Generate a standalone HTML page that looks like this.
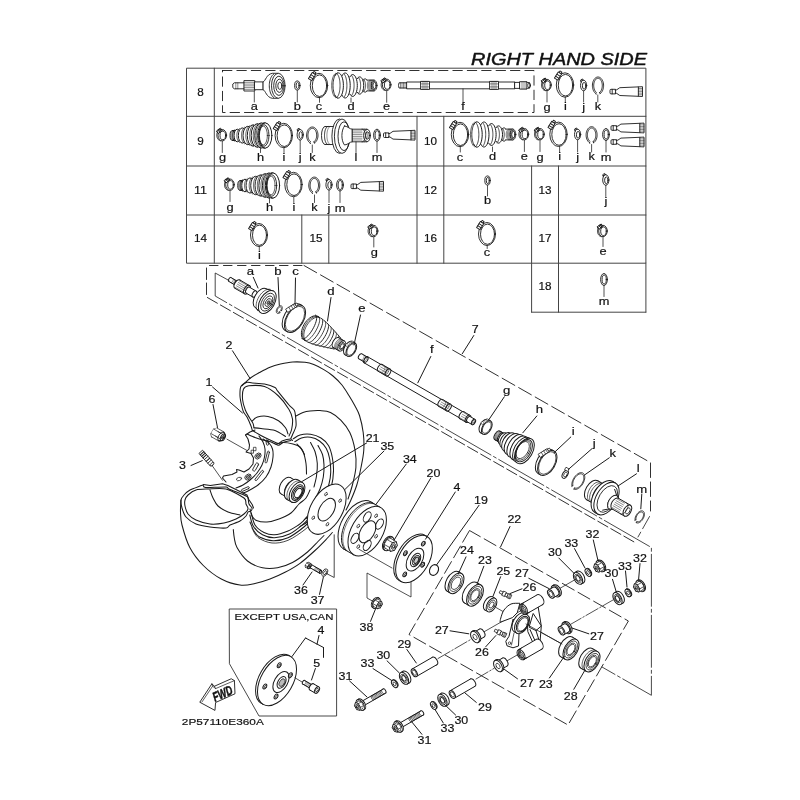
<!DOCTYPE html>
<html><head><meta charset="utf-8"><title>Parts diagram</title>
<style>
html,body{margin:0;padding:0;background:#fff;}
body{width:800px;height:800px;overflow:hidden;font-family:"Liberation Sans",sans-serif;}
svg{display:block;font-family:"Liberation Sans",sans-serif;filter:grayscale(1);}
</style></head><body>
<svg width="800" height="800" viewBox="0 0 800 800" fill="none" stroke="#1a1a1a" stroke-linecap="round" stroke-linejoin="round">
<rect x="0" y="0" width="800" height="800" fill="#fff" stroke="none"/>
<text x="647" y="65.4" font-size="16.6" text-anchor="end" stroke="#111" stroke-width="0.45" fill="#111" font-style="italic" textLength="176" lengthAdjust="spacingAndGlyphs">RIGHT HAND SIDE</text>
<g stroke="#444">
<rect x="186.9" y="68.2" width="459" height="195" stroke-width="1.0" fill="none"/>
<line x1="186.9" y1="116.3" x2="645.9" y2="116.3" stroke-width="1.0"/>
<line x1="186.9" y1="166" x2="645.9" y2="166" stroke-width="1.0"/>
<line x1="186.9" y1="215" x2="645.9" y2="215" stroke-width="1.0"/>
<line x1="214.3" y1="68.2" x2="214.3" y2="263.2" stroke-width="1.0"/>
<line x1="417" y1="116.3" x2="417" y2="263.2" stroke-width="1.0"/>
<line x1="443.8" y1="116.3" x2="443.8" y2="263.2" stroke-width="1.0"/>
<line x1="531.6" y1="166" x2="531.6" y2="312.2" stroke-width="1.0"/>
<line x1="558.5" y1="166" x2="558.5" y2="312.2" stroke-width="1.0"/>
<line x1="531.6" y1="312.2" x2="645.9" y2="312.2" stroke-width="1.0"/>
<line x1="645.9" y1="263.2" x2="645.9" y2="312.2" stroke-width="1.0"/>
<line x1="301.8" y1="215" x2="301.8" y2="263.2" stroke-width="1.0"/>
<line x1="328.8" y1="215" x2="328.8" y2="263.2" stroke-width="1.0"/>
</g>
<path d="M222.5 70.5 H534 V112.5 H222.5 Z" stroke-width="0.9" fill="none" stroke-dasharray="9.4 5"/>
<text transform="translate(200.5 95.78) scale(1.0 1)" font-size="10.5" text-anchor="middle" stroke="#111" stroke-width="0.18" fill="#111" textLength="6.51" lengthAdjust="spacingAndGlyphs" style="">8</text>
<text transform="translate(200.5 144.78) scale(1.0 1)" font-size="10.5" text-anchor="middle" stroke="#111" stroke-width="0.18" fill="#111" textLength="6.51" lengthAdjust="spacingAndGlyphs" style="">9</text>
<text transform="translate(200.5 194.28) scale(1.0 1)" font-size="10.5" text-anchor="middle" stroke="#111" stroke-width="0.18" fill="#111" textLength="13.02" lengthAdjust="spacingAndGlyphs" style="">11</text>
<text transform="translate(200.5 241.78) scale(1.0 1)" font-size="10.5" text-anchor="middle" stroke="#111" stroke-width="0.18" fill="#111" textLength="13.02" lengthAdjust="spacingAndGlyphs" style="">14</text>
<text transform="translate(316 241.78) scale(1.0 1)" font-size="10.5" text-anchor="middle" stroke="#111" stroke-width="0.18" fill="#111" textLength="13.02" lengthAdjust="spacingAndGlyphs" style="">15</text>
<text transform="translate(430.5 144.78) scale(1.0 1)" font-size="10.5" text-anchor="middle" stroke="#111" stroke-width="0.18" fill="#111" textLength="13.02" lengthAdjust="spacingAndGlyphs" style="">10</text>
<text transform="translate(430.5 194.28) scale(1.0 1)" font-size="10.5" text-anchor="middle" stroke="#111" stroke-width="0.18" fill="#111" textLength="13.02" lengthAdjust="spacingAndGlyphs" style="">12</text>
<text transform="translate(430.5 241.78) scale(1.0 1)" font-size="10.5" text-anchor="middle" stroke="#111" stroke-width="0.18" fill="#111" textLength="13.02" lengthAdjust="spacingAndGlyphs" style="">16</text>
<text transform="translate(545 194.28) scale(1.0 1)" font-size="10.5" text-anchor="middle" stroke="#111" stroke-width="0.18" fill="#111" textLength="13.02" lengthAdjust="spacingAndGlyphs" style="">13</text>
<text transform="translate(545 242.28) scale(1.0 1)" font-size="10.5" text-anchor="middle" stroke="#111" stroke-width="0.18" fill="#111" textLength="13.02" lengthAdjust="spacingAndGlyphs" style="">17</text>
<text transform="translate(545 289.78) scale(1.0 1)" font-size="10.5" text-anchor="middle" stroke="#111" stroke-width="0.18" fill="#111" textLength="13.02" lengthAdjust="spacingAndGlyphs" style="">18</text>
<path d="M244.8 82.8 H234.3 L232.8 84 V87.6 L234.3 88.8 H244.8" stroke-width="0.9" fill="#fff"/>
<line x1="235.8" y1="82.8" x2="235.8" y2="88.8" stroke-width="0.5"/>
<line x1="237.8" y1="82.8" x2="237.8" y2="88.8" stroke-width="0.5"/>
<rect x="244.3" y="80.6" width="10.5" height="10.4" stroke-width="0.9" fill="#fff"/>
<line x1="244.3" y1="82.35" x2="254.8" y2="82.35" stroke-width="0.5"/>
<line x1="244.3" y1="84.1" x2="254.8" y2="84.1" stroke-width="0.5"/>
<line x1="244.3" y1="85.85" x2="254.8" y2="85.85" stroke-width="0.5"/>
<line x1="244.3" y1="87.6" x2="254.8" y2="87.6" stroke-width="0.5"/>
<line x1="244.3" y1="89.35" x2="254.8" y2="89.35" stroke-width="0.5"/>
<rect x="254.8" y="81.9" width="8.5" height="7.8" stroke-width="0.9" fill="#fff"/>
<path d="M263.3 81.9 C265.8 80.8 266.3 74.3 272.3 73.3 L278.3 73.3 L278.3 98.3 L272.3 98.3 C266.3 97.3 265.8 90.8 263.3 89.7 Z" stroke-width="0.9" fill="#fff"/>
<ellipse cx="278.3" cy="85.8" rx="6.8" ry="12.5" stroke-width="0.9" fill="#fff"/>
<path d="M273.77 97.55 L273.14 97.05 L272.53 96.44 L271.96 95.72 L271.43 94.89 L270.96 93.97 L270.53 92.97 L270.16 91.89 L269.86 90.75 L269.61 89.56 L269.44 88.33 L269.34 87.07 L269.3 85.8 L269.34 84.53 L269.44 83.27 L269.61 82.04 L269.86 80.85 L270.16 79.71 L270.53 78.63 L270.96 77.63 L271.43 76.71 L271.96 75.88 L272.53 75.16 L273.14 74.55 L273.77 74.05" stroke-width="0.9" fill="none"/>
<ellipse cx="278.9" cy="85.8" rx="5.2" ry="9.6" stroke-width="0.9" fill="none"/>
<ellipse cx="279.4" cy="85.8" rx="3.6" ry="6.6" stroke-width="0.9" fill="none"/>
<ellipse cx="279.8" cy="85.8" rx="2" ry="3.6" stroke-width="0.9" fill="none"/>
<line x1="254.3" y1="91.5" x2="254.3" y2="102" stroke-width="0.75"/>
<text transform="translate(254.3 110.03) scale(1.22 1)" font-size="10.5" text-anchor="middle" stroke="#111" stroke-width="0.18" fill="#111" style="">a</text>
<ellipse cx="297.3" cy="85.5" rx="2.7" ry="4.6" stroke-width="0.9" fill="none"/>
<ellipse cx="297.6" cy="85.5" rx="1.5" ry="3.2" stroke-width="0.9" fill="none"/>
<line x1="297.3" y1="90.5" x2="297.3" y2="102" stroke-width="0.75"/>
<text transform="translate(297.3 110.03) scale(1.22 1)" font-size="10.5" text-anchor="middle" stroke="#111" stroke-width="0.18" fill="#111" style="">b</text>
<ellipse cx="319" cy="85.5" rx="8.7" ry="12.2" stroke-width="0.9" fill="#fff"/>
<ellipse cx="319.5" cy="85.7" rx="7.2" ry="10.8" stroke-width="0.9" fill="none"/>
<g transform="translate(312.21 76.72) rotate(-58)">
<rect x="-3.6" y="-2.2" width="7.2" height="4" stroke-width="0.9" fill="#fff"/>
<line x1="-1.4" y1="-2.2" x2="-1.4" y2="1.8" stroke-width="0.9"/>
<line x1="1" y1="-2.2" x2="1" y2="1.8" stroke-width="0.9"/>
<rect x="3.6" y="-1.3" width="1.8" height="2.3" stroke-width="0.9" fill="#fff"/>
</g>
<line x1="319.5" y1="97.5" x2="319.5" y2="102.3" stroke-width="0.75"/>
<text transform="translate(319 110.03) scale(1.22 1)" font-size="10.5" text-anchor="middle" stroke="#111" stroke-width="0.18" fill="#111" style="">c</text>
<path d="M337.3 97.91 L336.71 97.57 L336.14 97.07 L335.6 96.41 L335.09 95.61 L334.63 94.66 L334.22 93.6 L333.86 92.42 L333.55 91.15 L333.31 89.81 L333.14 88.41 L333.04 86.96 L333 85.5 L333.04 84.04 L333.14 82.59 L333.31 81.19 L333.55 79.85 L333.86 78.58 L334.22 77.4 L334.63 76.34 L335.09 75.39 L335.6 74.59 L336.14 73.93 L336.71 73.43 L337.3 73.09" stroke-width="0.9" fill="none"/>
<path d="M335.55 97.67 L335.02 97.24 L334.5 96.68 L334.01 95.98 L333.56 95.15 L333.14 94.21 L332.77 93.17 L332.45 92.04 L332.19 90.82 L331.98 89.55 L331.82 88.23 L331.73 86.87 L331.7 85.5 L331.73 84.13 L331.82 82.77 L331.98 81.45 L332.19 80.18 L332.45 78.96 L332.77 77.83 L333.14 76.79 L333.56 75.85 L334.01 75.02 L334.5 74.32 L335.02 73.76 L335.55 73.33" stroke-width="0.7" fill="none"/>
<path d="M335 75.57 L335.81 74.31 L336.71 73.43 L337.66 72.97 L338.62 72.94 L339.58 73.35 L340.48 74.18 L341.31 75.39 L342.02 76.96 L342.61 78.82 L343.04 80.92 L343.31 83.17 L343.4 85.5 L343.31 87.83 L343.04 90.08 L342.61 92.18 L342.02 94.04 L341.31 95.61 L340.48 96.82 L339.58 97.65 L338.62 98.06 L337.66 98.03 L336.71 97.57 L335.81 96.69 L335 95.43" stroke-width="1.0" fill="none"/>
<path d="M336.98 73.82 L337.41 74.23 L337.82 74.77 L338.21 75.44 L338.57 76.23 L338.91 77.14 L339.2 78.14 L339.46 79.22 L339.67 80.39 L339.84 81.61 L339.96 82.88 L340.04 84.18 L340.06 85.5 L340.04 86.82 L339.96 88.12 L339.84 89.39 L339.67 90.61 L339.46 91.78 L339.2 92.86 L338.91 93.86 L338.57 94.77 L338.21 95.56 L337.82 96.23 L337.41 96.77 L336.98 97.18" stroke-width="0.8" fill="none"/>
<path d="M342.12 75.65 L342.9 74.4 L343.77 73.53 L344.68 73.07 L345.61 73.04 L346.52 73.44 L347.39 74.27 L348.19 75.47 L348.88 77.03 L349.44 78.88 L349.86 80.95 L350.11 83.19 L350.2 85.5 L350.11 87.81 L349.86 90.05 L349.44 92.12 L348.88 93.97 L348.19 95.53 L347.39 96.73 L346.52 97.56 L345.61 97.96 L344.68 97.93 L343.77 97.47 L342.9 96.6 L342.12 95.35" stroke-width="1.0" fill="none"/>
<path d="M343.94 73.91 L344.35 74.32 L344.75 74.86 L345.12 75.52 L345.47 76.31 L345.79 77.2 L346.07 78.19 L346.32 79.27 L346.53 80.43 L346.69 81.64 L346.81 82.9 L346.88 84.19 L346.9 85.5 L346.88 86.81 L346.81 88.1 L346.69 89.36 L346.53 90.57 L346.32 91.73 L346.07 92.81 L345.79 93.8 L345.47 94.69 L345.12 95.48 L344.75 96.14 L344.35 96.68 L343.94 97.09" stroke-width="0.8" fill="none"/>
<path d="M349.87 76.91 L350.59 75.82 L351.38 75.06 L352.22 74.66 L353.07 74.64 L353.92 74.99 L354.72 75.7 L355.45 76.76 L356.08 78.11 L356.6 79.72 L356.98 81.53 L357.22 83.48 L357.3 85.5 L357.22 87.52 L356.98 89.47 L356.6 91.28 L356.08 92.89 L355.45 94.24 L354.72 95.3 L353.92 96.01 L353.07 96.36 L352.22 96.34 L351.38 95.94 L350.59 95.18 L349.87 94.09" stroke-width="1.0" fill="none"/>
<path d="M351.35 75.39 L351.73 75.75 L352.1 76.22 L352.44 76.8 L352.77 77.48 L353.06 78.26 L353.32 79.13 L353.55 80.07 L353.74 81.08 L353.88 82.14 L353.99 83.24 L354.06 84.36 L354.08 85.5 L354.06 86.64 L353.99 87.76 L353.88 88.86 L353.74 89.92 L353.55 90.93 L353.32 91.87 L353.06 92.74 L352.77 93.52 L352.44 94.2 L352.1 94.78 L351.73 95.25 L351.35 95.61" stroke-width="0.8" fill="none"/>
<path d="M357.24 78.72 L357.86 77.86 L358.55 77.26 L359.28 76.95 L360.03 76.93 L360.76 77.21 L361.45 77.77 L362.09 78.6 L362.64 79.67 L363.09 80.94 L363.43 82.37 L363.63 83.91 L363.7 85.5 L363.63 87.09 L363.43 88.63 L363.09 90.06 L362.64 91.33 L362.09 92.4 L361.45 93.23 L360.76 93.79 L360.03 94.07 L359.28 94.05 L358.55 93.74 L357.86 93.14 L357.24 92.28" stroke-width="1.0" fill="none"/>
<path d="M358.23 77.53 L358.56 77.81 L358.88 78.18 L359.18 78.64 L359.46 79.18 L359.71 79.79 L359.94 80.47 L360.14 81.22 L360.3 82.01 L360.43 82.85 L360.52 83.71 L360.58 84.6 L360.6 85.5 L360.58 86.4 L360.52 87.29 L360.43 88.15 L360.3 88.99 L360.14 89.78 L359.94 90.53 L359.71 91.21 L359.46 91.82 L359.18 92.36 L358.88 92.82 L358.56 93.19 L358.23 93.47" stroke-width="0.8" fill="none"/>
<path d="M363.23 80.3 L363.73 79.64 L364.28 79.18 L364.87 78.94 L365.46 78.92 L366.05 79.13 L366.6 79.57 L367.11 80.21 L367.55 81.03 L367.91 82 L368.18 83.1 L368.34 84.28 L368.4 85.5 L368.34 86.72 L368.18 87.9 L367.91 89 L367.55 89.97 L367.11 90.79 L366.6 91.43 L366.05 91.87 L365.46 92.08 L364.87 92.06 L364.28 91.82 L363.73 91.36 L363.23 90.7" stroke-width="1.0" fill="none"/>
<path d="M363.56 79.38 L363.83 79.59 L364.08 79.88 L364.32 80.23 L364.55 80.65 L364.75 81.12 L364.93 81.64 L365.09 82.21 L365.22 82.82 L365.32 83.46 L365.4 84.13 L365.44 84.81 L365.46 85.5 L365.44 86.19 L365.4 86.87 L365.32 87.54 L365.22 88.18 L365.09 88.79 L364.93 89.36 L364.75 89.88 L364.55 90.35 L364.32 90.77 L364.08 91.12 L363.83 91.41 L363.56 91.62" stroke-width="0.8" fill="none"/>
<rect x="367.2" y="80.1" width="6.5" height="10.8" stroke-width="0.01" fill="#fff"/>
<line x1="367.2" y1="80.1" x2="374" y2="80.1" stroke-width="0.9"/>
<line x1="367.2" y1="90.9" x2="374" y2="90.9" stroke-width="0.9"/>
<ellipse cx="374" cy="85.5" rx="3" ry="5.4" stroke-width="0.9" fill="#fff"/>
<path d="M372.54 90.88 L372.17 90.78 L371.82 90.6 L371.47 90.34 L371.15 90.01 L370.85 89.61 L370.59 89.15 L370.36 88.63 L370.16 88.06 L370 87.46 L369.89 86.82 L369.82 86.17 L369.8 85.5 L369.82 84.83 L369.89 84.18 L370 83.54 L370.16 82.94 L370.36 82.37 L370.59 81.85 L370.85 81.39 L371.15 80.99 L371.47 80.66 L371.82 80.4 L372.17 80.22 L372.54 80.12" stroke-width="0.6" fill="none"/>
<path d="M371.34 90.88 L370.97 90.78 L370.62 90.6 L370.27 90.34 L369.95 90.01 L369.65 89.61 L369.39 89.15 L369.16 88.63 L368.96 88.06 L368.8 87.46 L368.69 86.82 L368.62 86.17 L368.6 85.5 L368.62 84.83 L368.69 84.18 L368.8 83.54 L368.96 82.94 L369.16 82.37 L369.39 81.85 L369.65 81.39 L369.95 80.99 L370.27 80.66 L370.62 80.4 L370.97 80.22 L371.34 80.12" stroke-width="0.6" fill="none"/>
<path d="M370.14 90.88 L369.77 90.78 L369.42 90.6 L369.07 90.34 L368.75 90.01 L368.45 89.61 L368.19 89.15 L367.96 88.63 L367.76 88.06 L367.6 87.46 L367.49 86.82 L367.42 86.17 L367.4 85.5 L367.42 84.83 L367.49 84.18 L367.6 83.54 L367.76 82.94 L367.96 82.37 L368.19 81.85 L368.45 81.39 L368.75 80.99 L369.07 80.66 L369.42 80.4 L369.77 80.22 L370.14 80.12" stroke-width="0.6" fill="none"/>
<ellipse cx="373.7" cy="85.5" rx="2.2" ry="4.1" stroke-width="0.9" fill="#aaa"/>
<ellipse cx="374.5" cy="85.5" rx="1.6" ry="3.2" stroke-width="0.9" fill="#fff"/>
<line x1="351" y1="98" x2="351" y2="102.3" stroke-width="0.75"/>
<text transform="translate(351 110.03) scale(1.22 1)" font-size="10.5" text-anchor="middle" stroke="#111" stroke-width="0.18" fill="#111" style="">d</text>
<ellipse cx="386.7" cy="84.8" rx="4.3" ry="5.7" stroke-width="0.9" fill="#fff"/>
<ellipse cx="387.2" cy="85" rx="2.8" ry="4.3" stroke-width="0.9" fill="none"/>
<g transform="translate(384.03 80.35) rotate(-35)">
<rect x="-2.4" y="-1.6" width="4.6" height="3" stroke-width="0.9" fill="#fff"/>
<line x1="-0.4" y1="-1.6" x2="-0.4" y2="1.4" stroke-width="0.9"/>
<line x1="1" y1="-1.6" x2="1" y2="1.4" stroke-width="0.9"/>
</g>
<path d="M385.13 90.48 L384.6 90.37 L384.09 90.18 L383.6 89.91 L383.14 89.56 L382.71 89.14 L382.33 88.65 L382 88.1 L381.72 87.51 L381.49 86.87 L381.33 86.2 L381.23 85.5 L381.2 84.8 L381.23 84.1 L381.33 83.4 L381.49 82.73 L381.72 82.09 L382 81.5 L382.33 80.95 L382.71 80.46 L383.14 80.04 L383.6 79.69 L384.09 79.42 L384.6 79.23 L385.13 79.12" stroke-width="0.9" fill="none"/>
<line x1="386.7" y1="91" x2="386.7" y2="102.3" stroke-width="0.75"/>
<text transform="translate(386.5 110.03) scale(1.22 1)" font-size="10.5" text-anchor="middle" stroke="#111" stroke-width="0.18" fill="#111" style="">e</text>
<path d="M407 82.8 H399 Q398 85.4 399 88 H407" stroke-width="0.9" fill="#fff"/>
<line x1="400.5" y1="82.8" x2="400.5" y2="88" stroke-width="0.5"/>
<line x1="402" y1="82.8" x2="402" y2="88" stroke-width="0.5"/>
<line x1="403.5" y1="82.8" x2="403.5" y2="88" stroke-width="0.5"/>
<line x1="405" y1="82.8" x2="405" y2="88" stroke-width="0.5"/>
<rect x="407" y="82" width="108" height="6.8" stroke-width="0.9" fill="#fff"/>
<rect x="421" y="81.4" width="8.5" height="8" stroke-width="0.9" fill="#fff"/>
<line x1="423" y1="81.4" x2="423" y2="89.4" stroke-width="0.5"/>
<line x1="425" y1="81.4" x2="425" y2="89.4" stroke-width="0.5"/>
<line x1="427" y1="81.4" x2="427" y2="89.4" stroke-width="0.5"/>
<line x1="421" y1="83.9" x2="429.5" y2="83.9" stroke-width="0.5"/>
<line x1="421" y1="86.9" x2="429.5" y2="86.9" stroke-width="0.5"/>
<rect x="490" y="81.4" width="8.5" height="8" stroke-width="0.9" fill="#fff"/>
<line x1="492" y1="81.4" x2="492" y2="89.4" stroke-width="0.5"/>
<line x1="494" y1="81.4" x2="494" y2="89.4" stroke-width="0.5"/>
<line x1="496" y1="81.4" x2="496" y2="89.4" stroke-width="0.5"/>
<line x1="490" y1="83.9" x2="498.5" y2="83.9" stroke-width="0.5"/>
<line x1="490" y1="86.9" x2="498.5" y2="86.9" stroke-width="0.5"/>
<rect x="515" y="82.4" width="5" height="6" stroke-width="0.9" fill="#fff"/>
<rect x="520" y="81.7" width="7" height="7.4" stroke-width="0.9" fill="#fff"/>
<line x1="522" y1="82" x2="522" y2="88.8" stroke-width="0.5"/>
<line x1="524" y1="82" x2="524" y2="88.8" stroke-width="0.5"/>
<line x1="526" y1="82" x2="526" y2="88.8" stroke-width="0.5"/>
<path d="M527 82.6 H529.5 Q531 85.4 529.5 88.2 H527" stroke-width="0.9" fill="#fff"/>
<ellipse cx="529" cy="85.4" rx="1.3" ry="2.6" stroke-width="0.9" fill="none"/>
<line x1="463" y1="89" x2="463" y2="102.3" stroke-width="0.75"/>
<text transform="translate(463 110.03) scale(1.22 1)" font-size="10.5" text-anchor="middle" stroke="#111" stroke-width="0.18" fill="#111" style="">f</text>
<ellipse cx="547" cy="85" rx="4.3" ry="5.7" stroke-width="0.9" fill="#fff"/>
<ellipse cx="547.5" cy="85.2" rx="2.8" ry="4.3" stroke-width="0.9" fill="none"/>
<g transform="translate(544.33 80.55) rotate(-35)">
<rect x="-2.4" y="-1.6" width="4.6" height="3" stroke-width="0.9" fill="#fff"/>
<line x1="-0.4" y1="-1.6" x2="-0.4" y2="1.4" stroke-width="0.9"/>
<line x1="1" y1="-1.6" x2="1" y2="1.4" stroke-width="0.9"/>
</g>
<path d="M545.43 90.68 L544.9 90.57 L544.39 90.38 L543.9 90.11 L543.44 89.76 L543.01 89.34 L542.63 88.85 L542.3 88.3 L542.02 87.71 L541.79 87.07 L541.63 86.4 L541.53 85.7 L541.5 85 L541.53 84.3 L541.63 83.6 L541.79 82.93 L542.02 82.29 L542.3 81.7 L542.63 81.15 L543.01 80.66 L543.44 80.24 L543.9 79.89 L544.39 79.62 L544.9 79.43 L545.43 79.32" stroke-width="0.9" fill="none"/>
<line x1="547" y1="91" x2="547" y2="102" stroke-width="0.75"/>
<text transform="translate(547 110.53) scale(1.22 1)" font-size="10.5" text-anchor="middle" stroke="#111" stroke-width="0.18" fill="#111" style="">g</text>
<ellipse cx="565" cy="85" rx="8.7" ry="12.2" stroke-width="0.9" fill="#fff"/>
<ellipse cx="565.5" cy="85.2" rx="7.2" ry="10.8" stroke-width="0.9" fill="none"/>
<g transform="translate(558.21 76.22) rotate(-58)">
<rect x="-3.6" y="-2.2" width="7.2" height="4" stroke-width="0.9" fill="#fff"/>
<line x1="-1.4" y1="-2.2" x2="-1.4" y2="1.8" stroke-width="0.9"/>
<line x1="1" y1="-2.2" x2="1" y2="1.8" stroke-width="0.9"/>
<rect x="3.6" y="-1.3" width="1.8" height="2.3" stroke-width="0.9" fill="#fff"/>
</g>
<line x1="565.3" y1="97.3" x2="565.3" y2="102" stroke-width="0.75"/>
<text transform="translate(565.3 110.03) scale(1.22 1)" font-size="10.5" text-anchor="middle" stroke="#111" stroke-width="0.18" fill="#111" style="">i</text>
<ellipse cx="583.6" cy="85.5" rx="3.1" ry="5.3" stroke-width="0.9" fill="#fff"/>
<ellipse cx="584.1" cy="85.8" rx="1.7" ry="3.4" stroke-width="0.9" fill="none"/>
<path d="M581.2 82.1 L580.4 80.3 L582.4 78.9 L583.4 80.3" stroke-width="0.9" fill="none"/>
<line x1="581" y1="81.2" x2="582.6" y2="80.1" stroke-width="0.9"/>
<line x1="583.6" y1="91" x2="583.6" y2="102" stroke-width="0.75"/>
<text transform="translate(583.6 110.53) scale(1.22 1)" font-size="10.5" text-anchor="middle" stroke="#111" stroke-width="0.18" fill="#111" style="">j</text>
<path d="M595.9 93.57 L595.21 93.06 L594.57 92.4 L593.99 91.61 L593.49 90.7 L593.08 89.7 L592.76 88.63 L592.54 87.49 L592.42 86.32 L592.41 85.13 L592.5 83.96 L592.7 82.81 L593 81.72 L593.4 80.7 L593.88 79.78 L594.44 78.96 L595.07 78.28 L595.75 77.73 L596.48 77.32 L597.23 77.08 L598 77 L598.77 77.08 L599.52 77.32 L600.25 77.73 L600.93 78.28 L601.56 78.96 L602.12 79.78 L602.6 80.7 L603 81.72 L603.3 82.81 L603.5 83.96 L603.59 85.13 L603.58 86.32 L603.46 87.49 L603.24 88.63 L602.92 89.7 L602.51 90.7 L602.01 91.61 L601.43 92.4 L600.79 93.06 L600.1 93.57" stroke-width="0.9" fill="none"/>
<path d="M596.39 92.37 L595.86 91.93 L595.36 91.37 L594.92 90.7 L594.54 89.93 L594.22 89.08 L593.97 88.17 L593.81 87.2 L593.72 86.21 L593.71 85.21 L593.78 84.21 L593.93 83.24 L594.16 82.31 L594.46 81.44 L594.83 80.66 L595.26 79.97 L595.75 79.38 L596.27 78.92 L596.83 78.58 L597.41 78.37 L598 78.3 L598.59 78.37 L599.17 78.58 L599.73 78.92 L600.25 79.38 L600.74 79.97 L601.17 80.66 L601.54 81.44 L601.84 82.31 L602.07 83.24 L602.22 84.21 L602.29 85.21 L602.28 86.21 L602.19 87.2 L602.03 88.17 L601.78 89.08 L601.46 89.93 L601.08 90.7 L600.64 91.37 L600.14 91.93 L599.61 92.37" stroke-width="0.9" fill="none"/>
<line x1="595.9" y1="93.57" x2="596.09" y2="94.17" stroke-width="0.9"/>
<line x1="600.1" y1="93.57" x2="599.61" y2="92.37" stroke-width="0.9"/>
<line x1="597.8" y1="95" x2="597.8" y2="102" stroke-width="0.75"/>
<text transform="translate(598 110.03) scale(1.22 1)" font-size="10.5" text-anchor="middle" stroke="#111" stroke-width="0.18" fill="#111" style="">k</text>
<path d="M615.16 89.3 H611 Q610 89.3 610 90.4 V92.8 Q610 93.9 611 93.9 H615.16 Z" stroke-width="0.9" fill="none"/>
<line x1="612.2" y1="89.3" x2="612.2" y2="93.9" stroke-width="0.9"/>
<path d="M615.16 90 L616.71 89.8 L619.8 87.7 L638.37 86.9 L642.5 86.7 V96.5 L638.37 96.3 L619.8 95.5 L616.71 93.4 L615.16 93.2" stroke-width="0.9" fill="none"/>
<line x1="638.37" y1="86.9" x2="638.37" y2="96.3" stroke-width="0.9"/>
<line x1="638.37" y1="88.47" x2="642.5" y2="88.47" stroke-width="0.5"/>
<line x1="638.37" y1="90.04" x2="642.5" y2="90.04" stroke-width="0.5"/>
<line x1="638.37" y1="91.61" x2="642.5" y2="91.61" stroke-width="0.5"/>
<line x1="638.37" y1="93.18" x2="642.5" y2="93.18" stroke-width="0.5"/>
<line x1="638.37" y1="94.75" x2="642.5" y2="94.75" stroke-width="0.5"/>
<ellipse cx="222.3" cy="135.2" rx="4.3" ry="5.7" stroke-width="0.9" fill="#fff"/>
<ellipse cx="222.8" cy="135.4" rx="2.8" ry="4.3" stroke-width="0.9" fill="none"/>
<g transform="translate(219.63 130.75) rotate(-35)">
<rect x="-2.4" y="-1.6" width="4.6" height="3" stroke-width="0.9" fill="#fff"/>
<line x1="-0.4" y1="-1.6" x2="-0.4" y2="1.4" stroke-width="0.9"/>
<line x1="1" y1="-1.6" x2="1" y2="1.4" stroke-width="0.9"/>
</g>
<path d="M220.73 140.88 L220.2 140.77 L219.69 140.58 L219.2 140.31 L218.74 139.96 L218.31 139.54 L217.93 139.05 L217.6 138.5 L217.32 137.91 L217.09 137.27 L216.93 136.6 L216.83 135.9 L216.8 135.2 L216.83 134.5 L216.93 133.8 L217.09 133.13 L217.32 132.49 L217.6 131.9 L217.93 131.35 L218.31 130.86 L218.74 130.44 L219.2 130.09 L219.69 129.82 L220.2 129.63 L220.73 129.52" stroke-width="0.9" fill="none"/>
<line x1="222.3" y1="141.2" x2="222.3" y2="152.5" stroke-width="0.75"/>
<text transform="translate(222.5 161.23) scale(1.22 1)" font-size="10.5" text-anchor="middle" stroke="#111" stroke-width="0.18" fill="#111" style="">g</text>
<ellipse cx="232.4" cy="135.5" rx="2.4" ry="4.9" stroke-width="0.9" fill="#fff"/>
<path d="M232.4 130.6 L235.8 130.3 M232.4 140.4 L235.8 140.7" stroke-width="0.9" fill="none"/>
<path d="M232.78 140.33 L232.51 140.19 L232.25 140 L232 139.74 L231.77 139.43 L231.55 139.06 L231.36 138.65 L231.19 138.19 L231.06 137.7 L230.94 137.18 L230.86 136.63 L230.82 136.07 L230.8 135.5 L230.82 134.93 L230.86 134.37 L230.94 133.82 L231.06 133.3 L231.19 132.81 L231.36 132.35 L231.55 131.94 L231.77 131.57 L232 131.26 L232.25 131 L232.51 130.81 L232.78 130.67" stroke-width="0.5" fill="none"/>
<path d="M233.78 140.33 L233.51 140.19 L233.25 140 L233 139.74 L232.77 139.43 L232.55 139.06 L232.36 138.65 L232.19 138.19 L232.06 137.7 L231.94 137.18 L231.86 136.63 L231.82 136.07 L231.8 135.5 L231.82 134.93 L231.86 134.37 L231.94 133.82 L232.06 133.3 L232.19 132.81 L232.36 132.35 L232.55 131.94 L232.77 131.57 L233 131.26 L233.25 131 L233.51 130.81 L233.78 130.67" stroke-width="0.5" fill="none"/>
<path d="M234.78 140.33 L234.51 140.19 L234.25 140 L234 139.74 L233.77 139.43 L233.55 139.06 L233.36 138.65 L233.19 138.19 L233.06 137.7 L232.94 137.18 L232.86 136.63 L232.82 136.07 L232.8 135.5 L232.82 134.93 L232.86 134.37 L232.94 133.82 L233.06 133.3 L233.19 132.81 L233.36 132.35 L233.55 131.94 L233.77 131.57 L234 131.26 L234.25 131 L234.51 130.81 L234.78 130.67" stroke-width="0.5" fill="none"/>
<ellipse cx="237.3" cy="135.5" rx="3.28" ry="6.3" stroke-width="1.0" fill="#fff"/>
<path d="M234.68 141.24 L234.37 141 L234.08 140.7 L233.81 140.35 L233.55 139.94 L233.32 139.5 L233.12 139.01 L232.94 138.48 L232.79 137.92 L232.68 137.34 L232.59 136.74 L232.54 136.12 L232.52 135.5 L232.54 134.88 L232.59 134.26 L232.68 133.66 L232.79 133.08 L232.94 132.52 L233.12 131.99 L233.32 131.5 L233.55 131.06 L233.81 130.65 L234.08 130.3 L234.37 130 L234.68 129.76" stroke-width="0.7" fill="none"/>
<ellipse cx="242.3" cy="135.5" rx="3.95" ry="7.6" stroke-width="1.0" fill="#fff"/>
<path d="M239.45 142.43 L239.08 142.14 L238.73 141.77 L238.39 141.35 L238.09 140.86 L237.81 140.32 L237.56 139.73 L237.35 139.09 L237.17 138.42 L237.03 137.72 L236.93 136.99 L236.87 136.25 L236.85 135.5 L236.87 134.75 L236.93 134.01 L237.03 133.28 L237.17 132.58 L237.35 131.91 L237.56 131.27 L237.81 130.68 L238.09 130.14 L238.39 129.65 L238.73 129.23 L239.08 128.86 L239.45 128.57" stroke-width="0.7" fill="none"/>
<ellipse cx="247.8" cy="135.5" rx="4.78" ry="9.2" stroke-width="1.0" fill="#fff"/>
<path d="M244.66 143.89 L244.22 143.53 L243.79 143.1 L243.39 142.58 L243.02 141.99 L242.68 141.34 L242.38 140.62 L242.12 139.85 L241.91 139.03 L241.74 138.18 L241.61 137.3 L241.54 136.41 L241.52 135.5 L241.54 134.59 L241.61 133.7 L241.74 132.82 L241.91 131.97 L242.12 131.15 L242.38 130.38 L242.68 129.66 L243.02 129.01 L243.39 128.42 L243.79 127.9 L244.22 127.47 L244.66 127.11" stroke-width="0.7" fill="none"/>
<ellipse cx="252.8" cy="135.5" rx="5.51" ry="10.6" stroke-width="1.0" fill="#fff"/>
<path d="M249.41 145.16 L248.9 144.75 L248.41 144.25 L247.94 143.66 L247.52 142.98 L247.13 142.22 L246.78 141.4 L246.49 140.51 L246.24 139.57 L246.04 138.59 L245.9 137.58 L245.82 136.55 L245.79 135.5 L245.82 134.45 L245.9 133.42 L246.04 132.41 L246.24 131.43 L246.49 130.49 L246.78 129.6 L247.13 128.78 L247.52 128.02 L247.94 127.34 L248.41 126.75 L248.9 126.25 L249.41 125.84" stroke-width="0.7" fill="none"/>
<ellipse cx="257.3" cy="135.5" rx="6.14" ry="11.8" stroke-width="1.0" fill="#fff"/>
<path d="M253.7 146.26 L253.13 145.8 L252.58 145.24 L252.06 144.58 L251.59 143.83 L251.16 142.98 L250.77 142.07 L250.44 141.08 L250.17 140.03 L249.95 138.94 L249.79 137.81 L249.7 136.66 L249.66 135.5 L249.7 134.34 L249.79 133.19 L249.95 132.06 L250.17 130.97 L250.44 129.92 L250.77 128.93 L251.16 128.02 L251.59 127.17 L252.06 126.42 L252.58 125.76 L253.13 125.2 L253.7 124.74" stroke-width="0.7" fill="none"/>
<ellipse cx="261.3" cy="135.5" rx="6.55" ry="12.6" stroke-width="1.0" fill="#fff"/>
<path d="M257.56 146.98 L256.94 146.5 L256.36 145.9 L255.81 145.2 L255.3 144.39 L254.84 143.49 L254.43 142.51 L254.08 141.46 L253.78 140.34 L253.55 139.18 L253.38 137.97 L253.28 136.74 L253.25 135.5 L253.28 134.26 L253.38 133.03 L253.55 131.82 L253.78 130.66 L254.08 129.54 L254.43 128.49 L254.84 127.51 L255.3 126.61 L255.81 125.8 L256.36 125.1 L256.94 124.5 L257.56 124.02" stroke-width="0.7" fill="none"/>
<ellipse cx="264.3" cy="135.5" rx="6.66" ry="12.8" stroke-width="1.0" fill="#fff"/>
<path d="M260.52 147.17 L259.9 146.68 L259.31 146.07 L258.75 145.35 L258.23 144.53 L257.76 143.62 L257.35 142.62 L256.99 141.55 L256.69 140.42 L256.45 139.23 L256.28 138.01 L256.18 136.76 L256.14 135.5 L256.18 134.24 L256.28 132.99 L256.45 131.77 L256.69 130.58 L256.99 129.45 L257.35 128.38 L257.76 127.38 L258.23 126.47 L258.75 125.65 L259.31 124.93 L259.9 124.32 L260.52 123.83" stroke-width="0.7" fill="none"/>
<ellipse cx="265.3" cy="135.5" rx="6.6" ry="12.6" stroke-width="1.0" fill="#fff"/>
<ellipse cx="264" cy="135.5" rx="5" ry="10.8" stroke-width="0.9" fill="none"/>
<ellipse cx="263.4" cy="135.5" rx="4" ry="9.4" stroke-width="0.7" fill="none"/>
<line x1="260.5" y1="148.3" x2="260.5" y2="152.5" stroke-width="0.75"/>
<text transform="translate(260.5 160.53) scale(1.22 1)" font-size="10.5" text-anchor="middle" stroke="#111" stroke-width="0.18" fill="#111" style="">h</text>
<ellipse cx="283.8" cy="135.5" rx="8.7" ry="12.2" stroke-width="0.9" fill="#fff"/>
<ellipse cx="284.3" cy="135.7" rx="7.2" ry="10.8" stroke-width="0.9" fill="none"/>
<g transform="translate(277.01 126.72) rotate(-58)">
<rect x="-3.6" y="-2.2" width="7.2" height="4" stroke-width="0.9" fill="#fff"/>
<line x1="-1.4" y1="-2.2" x2="-1.4" y2="1.8" stroke-width="0.9"/>
<line x1="1" y1="-2.2" x2="1" y2="1.8" stroke-width="0.9"/>
<rect x="3.6" y="-1.3" width="1.8" height="2.3" stroke-width="0.9" fill="#fff"/>
</g>
<line x1="284" y1="147.7" x2="284" y2="152.5" stroke-width="0.75"/>
<text transform="translate(284 160.53) scale(1.22 1)" font-size="10.5" text-anchor="middle" stroke="#111" stroke-width="0.18" fill="#111" style="">i</text>
<ellipse cx="300.2" cy="134.8" rx="3.1" ry="5.3" stroke-width="0.9" fill="#fff"/>
<ellipse cx="300.7" cy="135.1" rx="1.7" ry="3.4" stroke-width="0.9" fill="none"/>
<path d="M297.8 131.4 L297 129.6 L299 128.2 L300 129.6" stroke-width="0.9" fill="none"/>
<line x1="297.6" y1="130.5" x2="299.2" y2="129.4" stroke-width="0.9"/>
<line x1="300.2" y1="140.3" x2="300.2" y2="152.5" stroke-width="0.75"/>
<text transform="translate(300.2 161.23) scale(1.22 1)" font-size="10.5" text-anchor="middle" stroke="#111" stroke-width="0.18" fill="#111" style="">j</text>
<path d="M310.16 143 L309.46 142.5 L308.81 141.86 L308.22 141.1 L307.71 140.23 L307.29 139.26 L306.96 138.22 L306.74 137.12 L306.62 135.99 L306.61 134.85 L306.7 133.72 L306.91 132.61 L307.21 131.56 L307.61 130.57 L308.1 129.68 L308.67 128.9 L309.31 128.23 L310.01 127.7 L310.75 127.31 L311.52 127.08 L312.3 127 L313.08 127.08 L313.85 127.31 L314.59 127.7 L315.29 128.23 L315.93 128.9 L316.5 129.68 L316.99 130.57 L317.39 131.56 L317.69 132.61 L317.9 133.72 L317.99 134.85 L317.98 135.99 L317.86 137.12 L317.64 138.22 L317.31 139.26 L316.89 140.23 L316.38 141.1 L315.79 141.86 L315.14 142.5 L314.44 143" stroke-width="0.9" fill="none"/>
<path d="M310.65 141.79 L310.11 141.37 L309.6 140.83 L309.15 140.19 L308.76 139.45 L308.43 138.64 L308.18 137.76 L308.01 136.84 L307.92 135.89 L307.91 134.92 L307.98 133.96 L308.14 133.03 L308.37 132.14 L308.68 131.32 L309.06 130.56 L309.5 129.9 L309.99 129.34 L310.53 128.89 L311.1 128.56 L311.7 128.37 L312.3 128.3 L312.9 128.37 L313.5 128.56 L314.07 128.89 L314.61 129.34 L315.1 129.9 L315.54 130.56 L315.92 131.32 L316.23 132.14 L316.46 133.03 L316.62 133.96 L316.69 134.92 L316.68 135.89 L316.59 136.84 L316.42 137.76 L316.17 138.64 L315.84 139.45 L315.45 140.19 L315 140.83 L314.49 141.37 L313.95 141.79" stroke-width="0.9" fill="none"/>
<line x1="310.16" y1="143" x2="310.35" y2="143.59" stroke-width="0.9"/>
<line x1="314.44" y1="143" x2="313.95" y2="141.79" stroke-width="0.9"/>
<line x1="312.3" y1="145" x2="312.3" y2="152.5" stroke-width="0.75"/>
<text transform="translate(312.5 160.53) scale(1.22 1)" font-size="10.5" text-anchor="middle" stroke="#111" stroke-width="0.18" fill="#111" style="">k</text>
<ellipse cx="325.1" cy="135.5" rx="3.6" ry="9" stroke-width="0.9" fill="#fff"/>
<path d="M325.1 126.5 H335.5 V144.5 H325.1" stroke-width="0.9" fill="#fff"/>
<path d="M327.79 144.47 L327.35 144.3 L326.92 144 L326.51 143.57 L326.12 143.02 L325.77 142.35 L325.45 141.58 L325.17 140.72 L324.93 139.77 L324.74 138.76 L324.61 137.7 L324.53 136.61 L324.5 135.5 L324.53 134.39 L324.61 133.3 L324.74 132.24 L324.93 131.23 L325.17 130.28 L325.45 129.42 L325.77 128.65 L326.12 127.98 L326.51 127.43 L326.92 127 L327.35 126.7 L327.79 126.53" stroke-width="0.9" fill="none"/>
<path d="M330.19 144.47 L329.75 144.3 L329.32 144 L328.91 143.57 L328.52 143.02 L328.17 142.35 L327.85 141.58 L327.57 140.72 L327.33 139.77 L327.14 138.76 L327.01 137.7 L326.93 136.61 L326.9 135.5 L326.93 134.39 L327.01 133.3 L327.14 132.24 L327.33 131.23 L327.57 130.28 L327.85 129.42 L328.17 128.65 L328.52 127.98 L328.91 127.43 L329.32 127 L329.75 126.7 L330.19 126.53" stroke-width="0.5" fill="none"/>
<ellipse cx="339.5" cy="136.2" rx="7.6" ry="17.2" stroke-width="0.9" fill="#fff"/>
<ellipse cx="342" cy="136.2" rx="7.6" ry="17.2" stroke-width="0.9" fill="#fff"/>
<ellipse cx="344" cy="136.2" rx="6" ry="14.4" stroke-width="0.9" fill="none"/>
<path d="M344.5 126 C348.5 126.5 349.5 129.2 352.5 129.2 V141.8 C349.5 141.8 348.5 144.5 344.5 145 C341 140.5 341 130.5 344.5 126 Z" stroke-width="0.9" fill="#fff"/>
<rect x="352.5" y="129.2" width="14.5" height="12.6" stroke-width="0.9" fill="#fff"/>
<line x1="352.5" y1="131" x2="362" y2="131" stroke-width="0.5"/>
<line x1="352.5" y1="132.8" x2="362" y2="132.8" stroke-width="0.5"/>
<line x1="352.5" y1="134.6" x2="362" y2="134.6" stroke-width="0.5"/>
<line x1="352.5" y1="136.4" x2="362" y2="136.4" stroke-width="0.5"/>
<line x1="352.5" y1="138.2" x2="362" y2="138.2" stroke-width="0.5"/>
<line x1="352.5" y1="140" x2="362" y2="140" stroke-width="0.5"/>
<ellipse cx="367" cy="135.5" rx="3.4" ry="6.3" stroke-width="0.9" fill="#fff"/>
<ellipse cx="367.5" cy="135.5" rx="1.9" ry="3.6" stroke-width="0.9" fill="none"/>
<path d="M362 129.2 L362.44 129.25 L362.88 129.41 L363.3 129.68 L363.7 130.04 L364.07 130.5 L364.4 131.05 L364.7 131.66 L364.94 132.35 L365.14 133.09 L365.28 133.87 L365.37 134.68 L365.4 135.5 L365.37 136.32 L365.28 137.13 L365.14 137.91 L364.94 138.65 L364.7 139.34 L364.4 139.95 L364.07 140.5 L363.7 140.96 L363.3 141.32 L362.88 141.59 L362.44 141.75 L362 141.8" stroke-width="0.9" fill="none"/>
<path d="M364 129.2 L364.44 129.25 L364.88 129.41 L365.3 129.68 L365.7 130.04 L366.07 130.5 L366.4 131.05 L366.7 131.66 L366.94 132.35 L367.14 133.09 L367.28 133.87 L367.37 134.68 L367.4 135.5 L367.37 136.32 L367.28 137.13 L367.14 137.91 L366.94 138.65 L366.7 139.34 L366.4 139.95 L366.07 140.5 L365.7 140.96 L365.3 141.32 L364.88 141.59 L364.44 141.75 L364 141.8" stroke-width="0.5" fill="none"/>
<line x1="356" y1="142" x2="356" y2="152.5" stroke-width="0.75"/>
<text transform="translate(356 160.53) scale(1.22 1)" font-size="10.5" text-anchor="middle" stroke="#111" stroke-width="0.18" fill="#111" style="">l</text>
<ellipse cx="377" cy="135.2" rx="3.4" ry="6" stroke-width="0.9" fill="none"/>
<ellipse cx="377.2" cy="135.2" rx="2.1" ry="4.5" stroke-width="0.9" fill="none"/>
<line x1="377" y1="141.3" x2="377" y2="152.5" stroke-width="0.75"/>
<text transform="translate(377 161.03) scale(1.22 1)" font-size="10.5" text-anchor="middle" stroke="#111" stroke-width="0.18" fill="#111" style="">m</text>
<path d="M388.5 132.9 H384.5 Q383.5 132.9 383.5 134 V136.4 Q383.5 137.5 384.5 137.5 H388.5 Z" stroke-width="0.9" fill="none"/>
<line x1="385.7" y1="132.9" x2="385.7" y2="137.5" stroke-width="0.9"/>
<path d="M388.5 133.6 L390 133.4 L393 131.3 L411 130.5 L415 130.3 V140.1 L411 139.9 L393 139.1 L390 137 L388.5 136.8" stroke-width="0.9" fill="none"/>
<line x1="411" y1="130.5" x2="411" y2="139.9" stroke-width="0.9"/>
<line x1="411" y1="132.07" x2="415" y2="132.07" stroke-width="0.5"/>
<line x1="411" y1="133.64" x2="415" y2="133.64" stroke-width="0.5"/>
<line x1="411" y1="135.21" x2="415" y2="135.21" stroke-width="0.5"/>
<line x1="411" y1="136.78" x2="415" y2="136.78" stroke-width="0.5"/>
<line x1="411" y1="138.35" x2="415" y2="138.35" stroke-width="0.5"/>
<ellipse cx="460" cy="134.5" rx="8.7" ry="12.2" stroke-width="0.9" fill="#fff"/>
<ellipse cx="460.5" cy="134.7" rx="7.2" ry="10.8" stroke-width="0.9" fill="none"/>
<g transform="translate(453.21 125.72) rotate(-58)">
<rect x="-3.6" y="-2.2" width="7.2" height="4" stroke-width="0.9" fill="#fff"/>
<line x1="-1.4" y1="-2.2" x2="-1.4" y2="1.8" stroke-width="0.9"/>
<line x1="1" y1="-2.2" x2="1" y2="1.8" stroke-width="0.9"/>
<rect x="3.6" y="-1.3" width="1.8" height="2.3" stroke-width="0.9" fill="#fff"/>
</g>
<line x1="460.3" y1="146.8" x2="460.3" y2="152" stroke-width="0.75"/>
<text transform="translate(460 160.53) scale(1.22 1)" font-size="10.5" text-anchor="middle" stroke="#111" stroke-width="0.18" fill="#111" style="">c</text>
<path d="M476.1 146.91 L475.51 146.57 L474.94 146.07 L474.4 145.41 L473.89 144.61 L473.43 143.66 L473.02 142.6 L472.66 141.42 L472.35 140.15 L472.11 138.81 L471.94 137.41 L471.84 135.96 L471.8 134.5 L471.84 133.04 L471.94 131.59 L472.11 130.19 L472.35 128.85 L472.66 127.58 L473.02 126.4 L473.43 125.34 L473.89 124.39 L474.4 123.59 L474.94 122.93 L475.51 122.43 L476.1 122.09" stroke-width="0.9" fill="none"/>
<path d="M474.35 146.67 L473.82 146.24 L473.3 145.68 L472.81 144.98 L472.36 144.15 L471.94 143.21 L471.57 142.17 L471.25 141.04 L470.99 139.82 L470.78 138.55 L470.62 137.23 L470.53 135.87 L470.5 134.5 L470.53 133.13 L470.62 131.77 L470.78 130.45 L470.99 129.18 L471.25 127.96 L471.57 126.83 L471.94 125.79 L472.36 124.85 L472.81 124.02 L473.3 123.32 L473.82 122.76 L474.35 122.33" stroke-width="0.7" fill="none"/>
<path d="M473.8 124.57 L474.61 123.31 L475.51 122.43 L476.46 121.97 L477.42 121.94 L478.38 122.35 L479.28 123.18 L480.11 124.39 L480.82 125.96 L481.41 127.82 L481.84 129.92 L482.11 132.17 L482.2 134.5 L482.11 136.83 L481.84 139.08 L481.41 141.18 L480.82 143.04 L480.11 144.61 L479.28 145.82 L478.38 146.65 L477.42 147.06 L476.46 147.03 L475.51 146.57 L474.61 145.69 L473.8 144.43" stroke-width="1.0" fill="none"/>
<path d="M475.78 122.82 L476.21 123.23 L476.62 123.77 L477.01 124.44 L477.37 125.23 L477.71 126.14 L478 127.14 L478.26 128.22 L478.47 129.39 L478.64 130.61 L478.76 131.88 L478.84 133.18 L478.86 134.5 L478.84 135.82 L478.76 137.12 L478.64 138.39 L478.47 139.61 L478.26 140.78 L478 141.86 L477.71 142.86 L477.37 143.77 L477.01 144.56 L476.62 145.23 L476.21 145.77 L475.78 146.18" stroke-width="0.8" fill="none"/>
<path d="M480.92 124.65 L481.7 123.4 L482.57 122.53 L483.48 122.07 L484.41 122.04 L485.32 122.44 L486.19 123.27 L486.99 124.47 L487.68 126.03 L488.24 127.88 L488.66 129.95 L488.91 132.19 L489 134.5 L488.91 136.81 L488.66 139.05 L488.24 141.12 L487.68 142.97 L486.99 144.53 L486.19 145.73 L485.32 146.56 L484.41 146.96 L483.48 146.93 L482.57 146.47 L481.7 145.6 L480.92 144.35" stroke-width="1.0" fill="none"/>
<path d="M482.74 122.91 L483.15 123.32 L483.55 123.86 L483.92 124.52 L484.27 125.31 L484.59 126.2 L484.87 127.19 L485.12 128.27 L485.33 129.43 L485.49 130.64 L485.61 131.9 L485.68 133.19 L485.7 134.5 L485.68 135.81 L485.61 137.1 L485.49 138.36 L485.33 139.57 L485.12 140.73 L484.87 141.81 L484.59 142.8 L484.27 143.69 L483.92 144.48 L483.55 145.14 L483.15 145.68 L482.74 146.09" stroke-width="0.8" fill="none"/>
<path d="M488.67 125.91 L489.39 124.82 L490.18 124.06 L491.02 123.66 L491.87 123.64 L492.72 123.99 L493.52 124.7 L494.25 125.76 L494.88 127.11 L495.4 128.72 L495.78 130.53 L496.02 132.48 L496.1 134.5 L496.02 136.52 L495.78 138.47 L495.4 140.28 L494.88 141.89 L494.25 143.24 L493.52 144.3 L492.72 145.01 L491.87 145.36 L491.02 145.34 L490.18 144.94 L489.39 144.18 L488.67 143.09" stroke-width="1.0" fill="none"/>
<path d="M490.15 124.39 L490.53 124.75 L490.9 125.22 L491.24 125.8 L491.57 126.48 L491.86 127.26 L492.12 128.13 L492.35 129.07 L492.54 130.08 L492.68 131.14 L492.79 132.24 L492.86 133.36 L492.88 134.5 L492.86 135.64 L492.79 136.76 L492.68 137.86 L492.54 138.92 L492.35 139.93 L492.12 140.87 L491.86 141.74 L491.57 142.52 L491.24 143.2 L490.9 143.78 L490.53 144.25 L490.15 144.61" stroke-width="0.8" fill="none"/>
<path d="M496.04 127.72 L496.66 126.86 L497.35 126.26 L498.08 125.95 L498.83 125.93 L499.56 126.21 L500.25 126.77 L500.89 127.6 L501.44 128.67 L501.89 129.94 L502.23 131.37 L502.43 132.91 L502.5 134.5 L502.43 136.09 L502.23 137.63 L501.89 139.06 L501.44 140.33 L500.89 141.4 L500.25 142.23 L499.56 142.79 L498.83 143.07 L498.08 143.05 L497.35 142.74 L496.66 142.14 L496.04 141.28" stroke-width="1.0" fill="none"/>
<path d="M497.03 126.53 L497.36 126.81 L497.68 127.18 L497.98 127.64 L498.26 128.18 L498.51 128.79 L498.74 129.47 L498.94 130.22 L499.1 131.01 L499.23 131.85 L499.32 132.71 L499.38 133.6 L499.4 134.5 L499.38 135.4 L499.32 136.29 L499.23 137.15 L499.1 137.99 L498.94 138.78 L498.74 139.53 L498.51 140.21 L498.26 140.82 L497.98 141.36 L497.68 141.82 L497.36 142.19 L497.03 142.47" stroke-width="0.8" fill="none"/>
<path d="M502.03 129.3 L502.53 128.64 L503.08 128.18 L503.67 127.94 L504.26 127.92 L504.85 128.13 L505.4 128.57 L505.91 129.21 L506.35 130.03 L506.71 131 L506.98 132.1 L507.14 133.28 L507.2 134.5 L507.14 135.72 L506.98 136.9 L506.71 138 L506.35 138.97 L505.91 139.79 L505.4 140.43 L504.85 140.87 L504.26 141.08 L503.67 141.06 L503.08 140.82 L502.53 140.36 L502.03 139.7" stroke-width="1.0" fill="none"/>
<path d="M502.36 128.38 L502.63 128.59 L502.88 128.88 L503.12 129.23 L503.35 129.65 L503.55 130.12 L503.73 130.64 L503.89 131.21 L504.02 131.82 L504.12 132.46 L504.2 133.13 L504.24 133.81 L504.26 134.5 L504.24 135.19 L504.2 135.87 L504.12 136.54 L504.02 137.18 L503.89 137.79 L503.73 138.36 L503.55 138.88 L503.35 139.35 L503.12 139.77 L502.88 140.12 L502.63 140.41 L502.36 140.62" stroke-width="0.8" fill="none"/>
<rect x="506" y="129.1" width="6.5" height="10.8" stroke-width="0.01" fill="#fff"/>
<line x1="506" y1="129.1" x2="512.8" y2="129.1" stroke-width="0.9"/>
<line x1="506" y1="139.9" x2="512.8" y2="139.9" stroke-width="0.9"/>
<ellipse cx="512.8" cy="134.5" rx="3" ry="5.4" stroke-width="0.9" fill="#fff"/>
<path d="M511.34 139.88 L510.97 139.78 L510.62 139.6 L510.27 139.34 L509.95 139.01 L509.65 138.61 L509.39 138.15 L509.16 137.63 L508.96 137.06 L508.8 136.46 L508.69 135.82 L508.62 135.17 L508.6 134.5 L508.62 133.83 L508.69 133.18 L508.8 132.54 L508.96 131.94 L509.16 131.37 L509.39 130.85 L509.65 130.39 L509.95 129.99 L510.27 129.66 L510.62 129.4 L510.97 129.22 L511.34 129.12" stroke-width="0.6" fill="none"/>
<path d="M510.14 139.88 L509.77 139.78 L509.42 139.6 L509.07 139.34 L508.75 139.01 L508.45 138.61 L508.19 138.15 L507.96 137.63 L507.76 137.06 L507.6 136.46 L507.49 135.82 L507.42 135.17 L507.4 134.5 L507.42 133.83 L507.49 133.18 L507.6 132.54 L507.76 131.94 L507.96 131.37 L508.19 130.85 L508.45 130.39 L508.75 129.99 L509.07 129.66 L509.42 129.4 L509.77 129.22 L510.14 129.12" stroke-width="0.6" fill="none"/>
<path d="M508.94 139.88 L508.57 139.78 L508.22 139.6 L507.87 139.34 L507.55 139.01 L507.25 138.61 L506.99 138.15 L506.76 137.63 L506.56 137.06 L506.4 136.46 L506.29 135.82 L506.22 135.17 L506.2 134.5 L506.22 133.83 L506.29 133.18 L506.4 132.54 L506.56 131.94 L506.76 131.37 L506.99 130.85 L507.25 130.39 L507.55 129.99 L507.87 129.66 L508.22 129.4 L508.57 129.22 L508.94 129.12" stroke-width="0.6" fill="none"/>
<ellipse cx="512.5" cy="134.5" rx="2.2" ry="4.1" stroke-width="0.9" fill="#aaa"/>
<ellipse cx="513.3" cy="134.5" rx="1.6" ry="3.2" stroke-width="0.9" fill="#fff"/>
<line x1="492.5" y1="147" x2="492.5" y2="151.5" stroke-width="0.75"/>
<text transform="translate(492.5 159.73) scale(1.22 1)" font-size="10.5" text-anchor="middle" stroke="#111" stroke-width="0.18" fill="#111" style="">d</text>
<ellipse cx="524.4" cy="134.2" rx="4.3" ry="5.7" stroke-width="0.9" fill="#fff"/>
<ellipse cx="524.9" cy="134.4" rx="2.8" ry="4.3" stroke-width="0.9" fill="none"/>
<g transform="translate(521.73 129.75) rotate(-35)">
<rect x="-2.4" y="-1.6" width="4.6" height="3" stroke-width="0.9" fill="#fff"/>
<line x1="-0.4" y1="-1.6" x2="-0.4" y2="1.4" stroke-width="0.9"/>
<line x1="1" y1="-1.6" x2="1" y2="1.4" stroke-width="0.9"/>
</g>
<path d="M522.83 139.88 L522.3 139.77 L521.79 139.58 L521.3 139.31 L520.84 138.96 L520.41 138.54 L520.03 138.05 L519.7 137.5 L519.42 136.91 L519.19 136.27 L519.03 135.6 L518.93 134.9 L518.9 134.2 L518.93 133.5 L519.03 132.8 L519.19 132.13 L519.42 131.49 L519.7 130.9 L520.03 130.35 L520.41 129.86 L520.84 129.44 L521.3 129.09 L521.79 128.82 L522.3 128.63 L522.83 128.52" stroke-width="0.9" fill="none"/>
<line x1="524.4" y1="140.3" x2="524.4" y2="151.5" stroke-width="0.75"/>
<text transform="translate(524.4 160.03) scale(1.22 1)" font-size="10.5" text-anchor="middle" stroke="#111" stroke-width="0.18" fill="#111" style="">e</text>
<ellipse cx="540" cy="134.2" rx="4.3" ry="5.7" stroke-width="0.9" fill="#fff"/>
<ellipse cx="540.5" cy="134.4" rx="2.8" ry="4.3" stroke-width="0.9" fill="none"/>
<g transform="translate(537.33 129.75) rotate(-35)">
<rect x="-2.4" y="-1.6" width="4.6" height="3" stroke-width="0.9" fill="#fff"/>
<line x1="-0.4" y1="-1.6" x2="-0.4" y2="1.4" stroke-width="0.9"/>
<line x1="1" y1="-1.6" x2="1" y2="1.4" stroke-width="0.9"/>
</g>
<path d="M538.43 139.88 L537.9 139.77 L537.39 139.58 L536.9 139.31 L536.44 138.96 L536.01 138.54 L535.63 138.05 L535.3 137.5 L535.02 136.91 L534.79 136.27 L534.63 135.6 L534.53 134.9 L534.5 134.2 L534.53 133.5 L534.63 132.8 L534.79 132.13 L535.02 131.49 L535.3 130.9 L535.63 130.35 L536.01 129.86 L536.44 129.44 L536.9 129.09 L537.39 128.82 L537.9 128.63 L538.43 128.52" stroke-width="0.9" fill="none"/>
<line x1="540" y1="140.3" x2="540" y2="151.5" stroke-width="0.75"/>
<text transform="translate(540 160.53) scale(1.22 1)" font-size="10.5" text-anchor="middle" stroke="#111" stroke-width="0.18" fill="#111" style="">g</text>
<ellipse cx="558.5" cy="134.3" rx="8.7" ry="12.2" stroke-width="0.9" fill="#fff"/>
<ellipse cx="559" cy="134.5" rx="7.2" ry="10.8" stroke-width="0.9" fill="none"/>
<g transform="translate(551.71 125.52) rotate(-58)">
<rect x="-3.6" y="-2.2" width="7.2" height="4" stroke-width="0.9" fill="#fff"/>
<line x1="-1.4" y1="-2.2" x2="-1.4" y2="1.8" stroke-width="0.9"/>
<line x1="1" y1="-2.2" x2="1" y2="1.8" stroke-width="0.9"/>
<rect x="3.6" y="-1.3" width="1.8" height="2.3" stroke-width="0.9" fill="#fff"/>
</g>
<line x1="559.6" y1="146.5" x2="559.6" y2="152" stroke-width="0.75"/>
<text transform="translate(559.6 160.03) scale(1.22 1)" font-size="10.5" text-anchor="middle" stroke="#111" stroke-width="0.18" fill="#111" style="">i</text>
<ellipse cx="577.6" cy="134.5" rx="3.1" ry="5.3" stroke-width="0.9" fill="#fff"/>
<ellipse cx="578.1" cy="134.8" rx="1.7" ry="3.4" stroke-width="0.9" fill="none"/>
<path d="M575.2 131.1 L574.4 129.3 L576.4 127.9 L577.4 129.3" stroke-width="0.9" fill="none"/>
<line x1="575" y1="130.2" x2="576.6" y2="129.1" stroke-width="0.9"/>
<line x1="577.6" y1="140" x2="577.6" y2="152" stroke-width="0.75"/>
<text transform="translate(577.6 160.53) scale(1.22 1)" font-size="10.5" text-anchor="middle" stroke="#111" stroke-width="0.18" fill="#111" style="">j</text>
<path d="M589.54 142.7 L588.86 142.2 L588.23 141.56 L587.66 140.8 L587.17 139.93 L586.77 138.96 L586.45 137.92 L586.23 136.82 L586.12 135.69 L586.11 134.55 L586.2 133.42 L586.4 132.31 L586.69 131.26 L587.08 130.27 L587.55 129.38 L588.1 128.6 L588.72 127.93 L589.39 127.4 L590.1 127.01 L590.84 126.78 L591.6 126.7 L592.36 126.78 L593.1 127.01 L593.81 127.4 L594.48 127.93 L595.1 128.6 L595.65 129.38 L596.12 130.27 L596.51 131.26 L596.8 132.31 L597 133.42 L597.09 134.55 L597.08 135.69 L596.97 136.82 L596.75 137.92 L596.43 138.96 L596.03 139.93 L595.54 140.8 L594.97 141.56 L594.34 142.2 L593.66 142.7" stroke-width="0.9" fill="none"/>
<path d="M590.03 141.49 L589.51 141.07 L589.03 140.53 L588.59 139.89 L588.22 139.15 L587.91 138.34 L587.67 137.46 L587.5 136.54 L587.41 135.59 L587.41 134.62 L587.48 133.66 L587.63 132.73 L587.85 131.84 L588.15 131.02 L588.51 130.26 L588.93 129.6 L589.4 129.04 L589.91 128.59 L590.46 128.26 L591.02 128.07 L591.6 128 L592.18 128.07 L592.74 128.26 L593.29 128.59 L593.8 129.04 L594.27 129.6 L594.69 130.26 L595.05 131.02 L595.35 131.84 L595.57 132.73 L595.72 133.66 L595.79 134.62 L595.79 135.59 L595.7 136.54 L595.53 137.46 L595.29 138.34 L594.98 139.15 L594.61 139.89 L594.17 140.53 L593.69 141.07 L593.17 141.49" stroke-width="0.9" fill="none"/>
<line x1="589.54" y1="142.7" x2="589.73" y2="143.29" stroke-width="0.9"/>
<line x1="593.66" y1="142.7" x2="593.17" y2="141.49" stroke-width="0.9"/>
<line x1="591.6" y1="144.5" x2="591.6" y2="152" stroke-width="0.75"/>
<text transform="translate(591.6 160.03) scale(1.22 1)" font-size="10.5" text-anchor="middle" stroke="#111" stroke-width="0.18" fill="#111" style="">k</text>
<ellipse cx="606" cy="134.5" rx="3.4" ry="6" stroke-width="0.9" fill="none"/>
<ellipse cx="606.2" cy="134.5" rx="2.1" ry="4.5" stroke-width="0.9" fill="none"/>
<line x1="606" y1="140.7" x2="606" y2="152" stroke-width="0.75"/>
<text transform="translate(606 160.53) scale(1.22 1)" font-size="10.5" text-anchor="middle" stroke="#111" stroke-width="0.18" fill="#111" style="">m</text>
<path d="M616.24 125.7 H612 Q611 125.7 611 126.8 V129.2 Q611 130.3 612 130.3 H616.24 Z" stroke-width="0.9" fill="none"/>
<line x1="613.2" y1="125.7" x2="613.2" y2="130.3" stroke-width="0.9"/>
<path d="M616.24 126.4 L617.81 126.2 L620.95 124.1 L639.81 123.3 L644 123.1 V132.9 L639.81 132.7 L620.95 131.9 L617.81 129.8 L616.24 129.6" stroke-width="0.9" fill="none"/>
<line x1="639.81" y1="123.3" x2="639.81" y2="132.7" stroke-width="0.9"/>
<line x1="639.81" y1="124.87" x2="644" y2="124.87" stroke-width="0.5"/>
<line x1="639.81" y1="126.44" x2="644" y2="126.44" stroke-width="0.5"/>
<line x1="639.81" y1="128.01" x2="644" y2="128.01" stroke-width="0.5"/>
<line x1="639.81" y1="129.58" x2="644" y2="129.58" stroke-width="0.5"/>
<line x1="639.81" y1="131.15" x2="644" y2="131.15" stroke-width="0.5"/>
<path d="M616.24 139.7 H612 Q611 139.7 611 140.8 V143.2 Q611 144.3 612 144.3 H616.24 Z" stroke-width="0.9" fill="none"/>
<line x1="613.2" y1="139.7" x2="613.2" y2="144.3" stroke-width="0.9"/>
<path d="M616.24 140.4 L617.81 140.2 L620.95 138.1 L639.81 137.3 L644 137.1 V146.9 L639.81 146.7 L620.95 145.9 L617.81 143.8 L616.24 143.6" stroke-width="0.9" fill="none"/>
<line x1="639.81" y1="137.3" x2="639.81" y2="146.7" stroke-width="0.9"/>
<line x1="639.81" y1="138.87" x2="644" y2="138.87" stroke-width="0.5"/>
<line x1="639.81" y1="140.44" x2="644" y2="140.44" stroke-width="0.5"/>
<line x1="639.81" y1="142.01" x2="644" y2="142.01" stroke-width="0.5"/>
<line x1="639.81" y1="143.58" x2="644" y2="143.58" stroke-width="0.5"/>
<line x1="639.81" y1="145.15" x2="644" y2="145.15" stroke-width="0.5"/>
<ellipse cx="230" cy="184.7" rx="4.3" ry="5.7" stroke-width="0.9" fill="#fff"/>
<ellipse cx="230.5" cy="184.9" rx="2.8" ry="4.3" stroke-width="0.9" fill="none"/>
<g transform="translate(227.33 180.25) rotate(-35)">
<rect x="-2.4" y="-1.6" width="4.6" height="3" stroke-width="0.9" fill="#fff"/>
<line x1="-0.4" y1="-1.6" x2="-0.4" y2="1.4" stroke-width="0.9"/>
<line x1="1" y1="-1.6" x2="1" y2="1.4" stroke-width="0.9"/>
</g>
<path d="M228.43 190.38 L227.9 190.27 L227.39 190.08 L226.9 189.81 L226.44 189.46 L226.01 189.04 L225.63 188.55 L225.3 188 L225.02 187.41 L224.79 186.77 L224.63 186.1 L224.53 185.4 L224.5 184.7 L224.53 184 L224.63 183.3 L224.79 182.63 L225.02 181.99 L225.3 181.4 L225.63 180.85 L226.01 180.36 L226.44 179.94 L226.9 179.59 L227.39 179.32 L227.9 179.13 L228.43 179.02" stroke-width="0.9" fill="none"/>
<line x1="230" y1="190.8" x2="230" y2="201.5" stroke-width="0.75"/>
<text transform="translate(230 211.23) scale(1.22 1)" font-size="10.5" text-anchor="middle" stroke="#111" stroke-width="0.18" fill="#111" style="">g</text>
<ellipse cx="240.1" cy="185.5" rx="2.4" ry="4.9" stroke-width="0.9" fill="#fff"/>
<path d="M240.1 180.6 L243.5 180.3 M240.1 190.4 L243.5 190.7" stroke-width="0.9" fill="none"/>
<path d="M240.48 190.33 L240.21 190.19 L239.95 190 L239.7 189.74 L239.47 189.43 L239.25 189.06 L239.06 188.65 L238.89 188.19 L238.76 187.7 L238.64 187.18 L238.56 186.63 L238.52 186.07 L238.5 185.5 L238.52 184.93 L238.56 184.37 L238.64 183.82 L238.76 183.3 L238.89 182.81 L239.06 182.35 L239.25 181.94 L239.47 181.57 L239.7 181.26 L239.95 181 L240.21 180.81 L240.48 180.67" stroke-width="0.5" fill="none"/>
<path d="M241.48 190.33 L241.21 190.19 L240.95 190 L240.7 189.74 L240.47 189.43 L240.25 189.06 L240.06 188.65 L239.89 188.19 L239.76 187.7 L239.64 187.18 L239.56 186.63 L239.52 186.07 L239.5 185.5 L239.52 184.93 L239.56 184.37 L239.64 183.82 L239.76 183.3 L239.89 182.81 L240.06 182.35 L240.25 181.94 L240.47 181.57 L240.7 181.26 L240.95 181 L241.21 180.81 L241.48 180.67" stroke-width="0.5" fill="none"/>
<path d="M242.48 190.33 L242.21 190.19 L241.95 190 L241.7 189.74 L241.47 189.43 L241.25 189.06 L241.06 188.65 L240.89 188.19 L240.76 187.7 L240.64 187.18 L240.56 186.63 L240.52 186.07 L240.5 185.5 L240.52 184.93 L240.56 184.37 L240.64 183.82 L240.76 183.3 L240.89 182.81 L241.06 182.35 L241.25 181.94 L241.47 181.57 L241.7 181.26 L241.95 181 L242.21 180.81 L242.48 180.67" stroke-width="0.5" fill="none"/>
<ellipse cx="245" cy="185.5" rx="3.28" ry="6.3" stroke-width="1.0" fill="#fff"/>
<path d="M242.38 191.24 L242.07 191 L241.78 190.7 L241.51 190.35 L241.25 189.94 L241.02 189.5 L240.82 189.01 L240.64 188.48 L240.49 187.92 L240.38 187.34 L240.29 186.74 L240.24 186.12 L240.22 185.5 L240.24 184.88 L240.29 184.26 L240.38 183.66 L240.49 183.08 L240.64 182.52 L240.82 181.99 L241.02 181.5 L241.25 181.06 L241.51 180.65 L241.78 180.3 L242.07 180 L242.38 179.76" stroke-width="0.7" fill="none"/>
<ellipse cx="250" cy="185.5" rx="3.95" ry="7.6" stroke-width="1.0" fill="#fff"/>
<path d="M247.15 192.43 L246.78 192.14 L246.43 191.77 L246.09 191.35 L245.79 190.86 L245.51 190.32 L245.26 189.73 L245.05 189.09 L244.87 188.42 L244.73 187.72 L244.63 186.99 L244.57 186.25 L244.55 185.5 L244.57 184.75 L244.63 184.01 L244.73 183.28 L244.87 182.58 L245.05 181.91 L245.26 181.27 L245.51 180.68 L245.79 180.14 L246.09 179.65 L246.43 179.23 L246.78 178.86 L247.15 178.57" stroke-width="0.7" fill="none"/>
<ellipse cx="255.5" cy="185.5" rx="4.78" ry="9.2" stroke-width="1.0" fill="#fff"/>
<path d="M252.36 193.89 L251.92 193.53 L251.49 193.1 L251.09 192.58 L250.72 191.99 L250.38 191.34 L250.08 190.62 L249.82 189.85 L249.61 189.03 L249.44 188.18 L249.31 187.3 L249.24 186.41 L249.22 185.5 L249.24 184.59 L249.31 183.7 L249.44 182.82 L249.61 181.97 L249.82 181.15 L250.08 180.38 L250.38 179.66 L250.72 179.01 L251.09 178.42 L251.49 177.9 L251.92 177.47 L252.36 177.11" stroke-width="0.7" fill="none"/>
<ellipse cx="260.5" cy="185.5" rx="5.51" ry="10.6" stroke-width="1.0" fill="#fff"/>
<path d="M257.11 195.16 L256.6 194.75 L256.11 194.25 L255.64 193.66 L255.22 192.98 L254.83 192.22 L254.48 191.4 L254.19 190.51 L253.94 189.57 L253.74 188.59 L253.6 187.58 L253.52 186.55 L253.49 185.5 L253.52 184.45 L253.6 183.42 L253.74 182.41 L253.94 181.43 L254.19 180.49 L254.48 179.6 L254.83 178.78 L255.22 178.02 L255.64 177.34 L256.11 176.75 L256.6 176.25 L257.11 175.84" stroke-width="0.7" fill="none"/>
<ellipse cx="265" cy="185.5" rx="6.14" ry="11.8" stroke-width="1.0" fill="#fff"/>
<path d="M261.4 196.26 L260.83 195.8 L260.28 195.24 L259.76 194.58 L259.29 193.83 L258.86 192.98 L258.47 192.07 L258.14 191.08 L257.87 190.03 L257.65 188.94 L257.49 187.81 L257.4 186.66 L257.36 185.5 L257.4 184.34 L257.49 183.19 L257.65 182.06 L257.87 180.97 L258.14 179.92 L258.47 178.93 L258.86 178.02 L259.29 177.17 L259.76 176.42 L260.28 175.76 L260.83 175.2 L261.4 174.74" stroke-width="0.7" fill="none"/>
<ellipse cx="269" cy="185.5" rx="6.55" ry="12.6" stroke-width="1.0" fill="#fff"/>
<path d="M265.26 196.98 L264.64 196.5 L264.06 195.9 L263.51 195.2 L263 194.39 L262.54 193.49 L262.13 192.51 L261.78 191.46 L261.48 190.34 L261.25 189.18 L261.08 187.97 L260.98 186.74 L260.95 185.5 L260.98 184.26 L261.08 183.03 L261.25 181.82 L261.48 180.66 L261.78 179.54 L262.13 178.49 L262.54 177.51 L263 176.61 L263.51 175.8 L264.06 175.1 L264.64 174.5 L265.26 174.02" stroke-width="0.7" fill="none"/>
<ellipse cx="272" cy="185.5" rx="6.66" ry="12.8" stroke-width="1.0" fill="#fff"/>
<path d="M268.22 197.17 L267.6 196.68 L267.01 196.07 L266.45 195.35 L265.93 194.53 L265.46 193.62 L265.05 192.62 L264.69 191.55 L264.39 190.42 L264.15 189.23 L263.98 188.01 L263.88 186.76 L263.84 185.5 L263.88 184.24 L263.98 182.99 L264.15 181.77 L264.39 180.58 L264.69 179.45 L265.05 178.38 L265.46 177.38 L265.93 176.47 L266.45 175.65 L267.01 174.93 L267.6 174.32 L268.22 173.83" stroke-width="0.7" fill="none"/>
<ellipse cx="273" cy="185.5" rx="6.6" ry="12.6" stroke-width="1.0" fill="#fff"/>
<ellipse cx="271.7" cy="185.5" rx="5" ry="10.8" stroke-width="0.9" fill="none"/>
<ellipse cx="271.1" cy="185.5" rx="4" ry="9.4" stroke-width="0.7" fill="none"/>
<line x1="269.5" y1="198.3" x2="269.5" y2="203" stroke-width="0.75"/>
<text transform="translate(269.5 211.03) scale(1.22 1)" font-size="10.5" text-anchor="middle" stroke="#111" stroke-width="0.18" fill="#111" style="">h</text>
<ellipse cx="293.5" cy="184.5" rx="8.7" ry="12.2" stroke-width="0.9" fill="#fff"/>
<ellipse cx="294" cy="184.7" rx="7.2" ry="10.8" stroke-width="0.9" fill="none"/>
<g transform="translate(286.71 175.72) rotate(-58)">
<rect x="-3.6" y="-2.2" width="7.2" height="4" stroke-width="0.9" fill="#fff"/>
<line x1="-1.4" y1="-2.2" x2="-1.4" y2="1.8" stroke-width="0.9"/>
<line x1="1" y1="-2.2" x2="1" y2="1.8" stroke-width="0.9"/>
<rect x="3.6" y="-1.3" width="1.8" height="2.3" stroke-width="0.9" fill="#fff"/>
</g>
<line x1="293.8" y1="197" x2="293.8" y2="202.5" stroke-width="0.75"/>
<text transform="translate(293.8 211.03) scale(1.22 1)" font-size="10.5" text-anchor="middle" stroke="#111" stroke-width="0.18" fill="#111" style="">i</text>
<path d="M312.24 192.9 L311.56 192.41 L310.93 191.78 L310.36 191.03 L309.87 190.17 L309.47 189.21 L309.15 188.19 L308.93 187.1 L308.82 185.99 L308.81 184.86 L308.9 183.74 L309.1 182.64 L309.39 181.6 L309.78 180.63 L310.25 179.75 L310.8 178.97 L311.42 178.32 L312.09 177.79 L312.8 177.41 L313.54 177.18 L314.3 177.1 L315.06 177.18 L315.8 177.41 L316.51 177.79 L317.18 178.32 L317.8 178.97 L318.35 179.75 L318.82 180.63 L319.21 181.6 L319.5 182.64 L319.7 183.74 L319.79 184.86 L319.78 185.99 L319.67 187.1 L319.45 188.19 L319.13 189.21 L318.73 190.17 L318.24 191.03 L317.67 191.78 L317.04 192.41 L316.36 192.9" stroke-width="0.9" fill="none"/>
<path d="M312.73 191.7 L312.21 191.28 L311.73 190.75 L311.29 190.12 L310.92 189.39 L310.61 188.59 L310.37 187.73 L310.2 186.82 L310.11 185.88 L310.11 184.93 L310.18 183.98 L310.33 183.06 L310.55 182.19 L310.85 181.37 L311.21 180.63 L311.63 179.98 L312.1 179.42 L312.61 178.98 L313.16 178.66 L313.72 178.47 L314.3 178.4 L314.88 178.47 L315.44 178.66 L315.99 178.98 L316.5 179.42 L316.97 179.98 L317.39 180.63 L317.75 181.37 L318.05 182.19 L318.27 183.06 L318.42 183.98 L318.49 184.93 L318.49 185.88 L318.4 186.82 L318.23 187.73 L317.99 188.59 L317.68 189.39 L317.31 190.12 L316.87 190.75 L316.39 191.28 L315.87 191.7" stroke-width="0.9" fill="none"/>
<line x1="312.24" y1="192.9" x2="312.43" y2="193.5" stroke-width="0.9"/>
<line x1="316.36" y1="192.9" x2="315.87" y2="191.7" stroke-width="0.9"/>
<line x1="314.5" y1="195" x2="314.5" y2="202.5" stroke-width="0.75"/>
<text transform="translate(314.5 211.03) scale(1.22 1)" font-size="10.5" text-anchor="middle" stroke="#111" stroke-width="0.18" fill="#111" style="">k</text>
<ellipse cx="329" cy="184.8" rx="3.1" ry="5.3" stroke-width="0.9" fill="#fff"/>
<ellipse cx="329.5" cy="185.1" rx="1.7" ry="3.4" stroke-width="0.9" fill="none"/>
<path d="M326.6 181.4 L325.8 179.6 L327.8 178.2 L328.8 179.6" stroke-width="0.9" fill="none"/>
<line x1="326.4" y1="180.5" x2="328" y2="179.4" stroke-width="0.9"/>
<line x1="329" y1="190.3" x2="329" y2="202.5" stroke-width="0.75"/>
<text transform="translate(329 211.53) scale(1.22 1)" font-size="10.5" text-anchor="middle" stroke="#111" stroke-width="0.18" fill="#111" style="">j</text>
<ellipse cx="340" cy="185" rx="3.4" ry="6" stroke-width="0.9" fill="none"/>
<ellipse cx="340.2" cy="185" rx="2.1" ry="4.5" stroke-width="0.9" fill="none"/>
<line x1="340" y1="191.3" x2="340" y2="202.5" stroke-width="0.75"/>
<text transform="translate(340 211.53) scale(1.22 1)" font-size="10.5" text-anchor="middle" stroke="#111" stroke-width="0.18" fill="#111" style="">m</text>
<path d="M356.16 184 H352 Q351 184 351 185.1 V187.5 Q351 188.6 352 188.6 H356.16 Z" stroke-width="0.9" fill="none"/>
<line x1="353.2" y1="184" x2="353.2" y2="188.6" stroke-width="0.9"/>
<path d="M356.16 184.7 L357.71 184.5 L360.8 182.4 L379.37 181.6 L383.5 181.4 V191.2 L379.37 191 L360.8 190.2 L357.71 188.1 L356.16 187.9" stroke-width="0.9" fill="none"/>
<line x1="379.37" y1="181.6" x2="379.37" y2="191" stroke-width="0.9"/>
<line x1="379.37" y1="183.17" x2="383.5" y2="183.17" stroke-width="0.5"/>
<line x1="379.37" y1="184.74" x2="383.5" y2="184.74" stroke-width="0.5"/>
<line x1="379.37" y1="186.31" x2="383.5" y2="186.31" stroke-width="0.5"/>
<line x1="379.37" y1="187.88" x2="383.5" y2="187.88" stroke-width="0.5"/>
<line x1="379.37" y1="189.45" x2="383.5" y2="189.45" stroke-width="0.5"/>
<ellipse cx="487.5" cy="180.5" rx="2.7" ry="4.6" stroke-width="0.9" fill="none"/>
<ellipse cx="487.8" cy="180.5" rx="1.5" ry="3.2" stroke-width="0.9" fill="none"/>
<line x1="487.5" y1="185.5" x2="487.5" y2="196" stroke-width="0.75"/>
<text transform="translate(487.5 204.23) scale(1.22 1)" font-size="10.5" text-anchor="middle" stroke="#111" stroke-width="0.18" fill="#111" style="">b</text>
<ellipse cx="605.8" cy="180" rx="3.1" ry="5.3" stroke-width="0.9" fill="#fff"/>
<ellipse cx="606.3" cy="180.3" rx="1.7" ry="3.4" stroke-width="0.9" fill="none"/>
<path d="M603.4 176.6 L602.6 174.8 L604.6 173.4 L605.6 174.8" stroke-width="0.9" fill="none"/>
<line x1="603.2" y1="175.7" x2="604.8" y2="174.6" stroke-width="0.9"/>
<line x1="605.8" y1="185.5" x2="605.8" y2="196.5" stroke-width="0.75"/>
<text transform="translate(605.8 205.03) scale(1.22 1)" font-size="10.5" text-anchor="middle" stroke="#111" stroke-width="0.18" fill="#111" style="">j</text>
<ellipse cx="259" cy="235" rx="8.5" ry="11.5" stroke-width="0.9" fill="#fff"/>
<ellipse cx="259.5" cy="235.2" rx="7" ry="10.1" stroke-width="0.9" fill="none"/>
<g transform="translate(252.37 226.72) rotate(-58)">
<rect x="-3.6" y="-2.2" width="7.2" height="4" stroke-width="0.9" fill="#fff"/>
<line x1="-1.4" y1="-2.2" x2="-1.4" y2="1.8" stroke-width="0.9"/>
<line x1="1" y1="-2.2" x2="1" y2="1.8" stroke-width="0.9"/>
<rect x="3.6" y="-1.3" width="1.8" height="2.3" stroke-width="0.9" fill="#fff"/>
</g>
<line x1="259.3" y1="246.8" x2="259.3" y2="250.5" stroke-width="0.75"/>
<text transform="translate(259.3 258.53) scale(1.22 1)" font-size="10.5" text-anchor="middle" stroke="#111" stroke-width="0.18" fill="#111" style="">i</text>
<ellipse cx="373.6" cy="231" rx="4.3" ry="5.7" stroke-width="0.9" fill="#fff"/>
<ellipse cx="374.1" cy="231.2" rx="2.8" ry="4.3" stroke-width="0.9" fill="none"/>
<g transform="translate(370.93 226.55) rotate(-35)">
<rect x="-2.4" y="-1.6" width="4.6" height="3" stroke-width="0.9" fill="#fff"/>
<line x1="-0.4" y1="-1.6" x2="-0.4" y2="1.4" stroke-width="0.9"/>
<line x1="1" y1="-1.6" x2="1" y2="1.4" stroke-width="0.9"/>
</g>
<path d="M372.03 236.68 L371.5 236.57 L370.99 236.38 L370.5 236.11 L370.04 235.76 L369.61 235.34 L369.23 234.85 L368.9 234.3 L368.62 233.71 L368.39 233.07 L368.23 232.4 L368.13 231.7 L368.1 231 L368.13 230.3 L368.23 229.6 L368.39 228.93 L368.62 228.29 L368.9 227.7 L369.23 227.15 L369.61 226.66 L370.04 226.24 L370.5 225.89 L370.99 225.62 L371.5 225.43 L372.03 225.32" stroke-width="0.9" fill="none"/>
<line x1="373.8" y1="237" x2="373.8" y2="247" stroke-width="0.75"/>
<text transform="translate(374.2 255.93) scale(1.22 1)" font-size="10.5" text-anchor="middle" stroke="#111" stroke-width="0.18" fill="#111" style="">g</text>
<ellipse cx="487" cy="234" rx="8.5" ry="11.5" stroke-width="0.9" fill="#fff"/>
<ellipse cx="487.5" cy="234.2" rx="7" ry="10.1" stroke-width="0.9" fill="none"/>
<g transform="translate(480.37 225.72) rotate(-58)">
<rect x="-3.6" y="-2.2" width="7.2" height="4" stroke-width="0.9" fill="#fff"/>
<line x1="-1.4" y1="-2.2" x2="-1.4" y2="1.8" stroke-width="0.9"/>
<line x1="1" y1="-2.2" x2="1" y2="1.8" stroke-width="0.9"/>
<rect x="3.6" y="-1.3" width="1.8" height="2.3" stroke-width="0.9" fill="#fff"/>
</g>
<line x1="487.2" y1="245.8" x2="487.2" y2="248.5" stroke-width="0.75"/>
<text transform="translate(487 256.03) scale(1.22 1)" font-size="10.5" text-anchor="middle" stroke="#111" stroke-width="0.18" fill="#111" style="">c</text>
<ellipse cx="603" cy="231" rx="4.3" ry="5.7" stroke-width="0.9" fill="#fff"/>
<ellipse cx="603.5" cy="231.2" rx="2.8" ry="4.3" stroke-width="0.9" fill="none"/>
<g transform="translate(600.33 226.55) rotate(-35)">
<rect x="-2.4" y="-1.6" width="4.6" height="3" stroke-width="0.9" fill="#fff"/>
<line x1="-0.4" y1="-1.6" x2="-0.4" y2="1.4" stroke-width="0.9"/>
<line x1="1" y1="-1.6" x2="1" y2="1.4" stroke-width="0.9"/>
</g>
<path d="M601.43 236.68 L600.9 236.57 L600.39 236.38 L599.9 236.11 L599.44 235.76 L599.01 235.34 L598.63 234.85 L598.3 234.3 L598.02 233.71 L597.79 233.07 L597.63 232.4 L597.53 231.7 L597.5 231 L597.53 230.3 L597.63 229.6 L597.79 228.93 L598.02 228.29 L598.3 227.7 L598.63 227.15 L599.01 226.66 L599.44 226.24 L599.9 225.89 L600.39 225.62 L600.9 225.43 L601.43 225.32" stroke-width="0.9" fill="none"/>
<line x1="603" y1="237" x2="603" y2="246.5" stroke-width="0.75"/>
<text transform="translate(603 255.03) scale(1.22 1)" font-size="10.5" text-anchor="middle" stroke="#111" stroke-width="0.18" fill="#111" style="">e</text>
<ellipse cx="604" cy="279.5" rx="3.4" ry="6" stroke-width="0.9" fill="none"/>
<ellipse cx="604.2" cy="279.5" rx="2.1" ry="4.5" stroke-width="0.9" fill="none"/>
<line x1="604" y1="286" x2="604" y2="296.5" stroke-width="0.75"/>
<text transform="translate(604 304.73) scale(1.22 1)" font-size="10.5" text-anchor="middle" stroke="#111" stroke-width="0.18" fill="#111" style="">m</text>
<path d="M242 385.6 C243.46 384.29 247.83 379.93 250.75 377.75 C253.67 375.57 256.29 374.25 259.5 372.5 C262.71 370.75 266.5 368.65 270 367.25 C273.5 365.85 276.71 364.98 280.5 364.1 C284.29 363.23 288.67 362.29 292.75 362 C296.83 361.71 301.5 361.92 305 362.35 C308.5 362.78 310.54 363.34 313.75 364.6 C316.96 365.86 321.04 368 324.25 369.9 C327.46 371.8 330.08 373.52 333 376 C335.92 378.48 339.12 381.54 341.75 384.75 C344.38 387.96 346.56 391.75 348.75 395.25 C350.94 398.75 353.11 402.38 354.9 405.75 C356.69 409.12 358.12 411.04 359.5 415.5 C360.88 419.96 362.48 426.75 363.2 432.5 C363.92 438.25 364.17 444.17 363.8 450 C363.43 455.83 362.17 461.67 361 467.5 C359.83 473.33 358.53 479.45 356.8 485 C355.07 490.55 352.4 496.63 350.6 500.8 C348.8 504.97 346.77 508.47 346 510" stroke-width="1.05" fill="none"/>
<path d="M296 416 C297.17 415.42 300.67 413.33 303 412.5 C305.33 411.67 307.17 411.32 310 411 C312.83 410.68 316.58 410.37 320 410.6 C323.42 410.83 327 410.78 330.5 412.4 C334 414.02 337.78 416.95 341 420.3 C344.22 423.65 347.47 427.55 349.8 432.5 C352.13 437.45 353.98 444.17 355 450 C356.02 455.83 356.33 461.67 355.9 467.5 C355.47 473.33 353.72 479.75 352.4 485 C351.08 490.25 348.73 496.67 348 499" stroke-width="1.05" fill="none"/>
<path d="M181 500 C180.92 502 180.33 507.83 180.5 512 C180.67 516.17 180.45 519.08 182 525 C183.55 530.92 186.25 540.75 189.8 547.5 C193.35 554.25 198.05 560.25 203.3 565.5 C208.55 570.75 215.18 575.75 221.3 579 C227.42 582.25 234.38 584.25 240 585 C245.62 585.75 250 584.5 255 583.5 C260 582.5 265 580.87 270 579 C275 577.13 280 574.92 285 572.3 C290 569.68 295 566.93 300 563.3 C305 559.67 310.5 554.63 315 550.5 C319.5 546.37 324.12 541.5 327 538.5 C329.88 535.5 331.42 533.5 332.3 532.5" stroke-width="1.05" fill="none"/>
<path d="M233.3 529.5 C233.47 530.92 233.68 535 234.3 538 C234.92 541 234.8 543.67 237 547.5 C239.2 551.33 243.25 557.62 247.5 561 C251.75 564.38 257.5 566.67 262.5 567.8 C267.5 568.93 272.5 568.68 277.5 567.8 C282.5 566.92 287.5 565.13 292.5 562.5 C297.5 559.87 303.25 555.5 307.5 552 C311.75 548.5 315.25 544.25 318 541.5 C320.75 538.75 323 536.5 324 535.5" stroke-width="1.05" fill="none"/>
<path d="M252.3 430.4 C252.13 429.81 251.71 427.79 251 426 C250.29 424.21 248 418.87 247 417 C246 415.13 244.23 413.6 243.5 412 C242.77 410.4 241.97 407.13 241.5 405 C241.03 402.87 240.08 398.45 240 396 C239.92 393.55 239.97 388.43 240.9 386.6 C241.83 384.77 245.48 382.78 247 382.3 C248.52 381.82 249.97 382.77 252.3 383 C254.63 383.23 261.47 383.4 264.5 384 C267.53 384.6 273.25 386.57 275 387.5 C276.75 388.43 275.73 388.67 277.6 391 C279.47 393.33 286.77 402.43 289 405 C291.23 407.57 293.43 408.83 294.3 410.3 C295.17 411.77 295.27 413.91 295.5 416 C295.73 418.09 296.4 423.49 296 426 C295.6 428.51 293.19 433.13 292.5 434.8 C291.81 436.47 291.03 438.01 290.8 438.5" stroke-width="1.05" fill="none"/>
<path d="M254 428 C253.85 427.31 253.66 424.9 253 423.4 C252.34 421.9 250.75 420.01 249.6 418 C248.44 415.99 246.35 412.73 245.3 410 C244.25 407.27 242.87 402.95 242.6 399.8 C242.33 396.65 242.57 391.1 243.5 389 C244.43 386.9 245.65 386.16 248.8 385.8 C251.95 385.44 260.05 385.07 264.5 386.6 C268.95 388.13 274.82 392.58 278.5 396 C282.18 399.42 286.9 405.95 289 409.4 C291.1 412.85 292.11 415.99 292.5 419 C292.89 422.01 292.12 426.95 291.6 429.5 C291.08 432.05 289.39 435.02 289 436" stroke-width="1.05" fill="none"/>
<path d="M252.3 430.4 C253.07 430.86 258.43 434.14 260 435 C261.57 435.86 266.15 438.15 268 439 C269.85 439.85 277.1 443.3 278.5 443.5 C279.9 443.7 280.77 441.45 282 441 C283.23 440.55 289.75 439.05 290.8 439 C291.85 438.95 292.33 440.35 292.5 440.5" stroke-width="1.05" fill="none"/>
<path d="M254 427.8 C255.17 427.93 257.5 428.17 261 428.6 C264.5 429.03 270.92 429.08 275 430.4 C279.08 431.72 283.75 435.48 285.5 436.5" stroke-width="1.05" fill="none"/>
<path d="M252.3 421 C253.17 420.33 254.88 417.77 257.5 417 C260.12 416.23 264.5 415.77 268 416.4 C271.5 417.03 275.58 418.9 278.5 420.8 C281.42 422.7 283.92 425.6 285.5 427.8 C287.08 430 287.58 432.97 288 434" stroke-width="1.05" fill="none"/>
<path d="M181 500 C181.27 498.27 182.8 496.33 184 495 C185.2 493.67 187.87 491.2 190 490 C192.13 488.8 198.27 486.67 200 486 C201.73 485.33 202.47 484.87 203 485 C203.53 485.13 203.33 486.65 204 487 C204.67 487.35 205.07 487.6 208 487.6 C210.93 487.6 223.2 486.81 226 487 C228.8 487.19 226.33 487.8 229 489 C231.67 490.2 243.47 494.8 246 496 C248.53 497.2 247.6 496.93 248 498 C248.4 499.07 248.47 502.67 249 504 C249.53 505.33 251.73 507.07 252 508 C252.27 508.93 251.53 510.47 251 511 C250.47 511.53 248.67 511.33 248 512 C247.33 512.67 247.07 514.8 246 516 C244.93 517.2 242.13 519.8 240 521 C237.87 522.2 231.87 524.07 230 525 C228.13 525.93 228.67 527.73 226 528 C223.33 528.27 214 527.53 210 527 C206 526.47 199.2 525.33 196 524 C192.8 522.67 187.87 519.13 186 517 C184.13 514.87 182.67 510.27 182 508 C181.33 505.73 180.73 501.73 181 500 Z" stroke-width="1.05" fill="none"/>
<path d="M185 500 C185.45 498.35 186.35 496.5 188 495 C189.65 493.5 193 490.9 196 490 C199 489.1 203.5 489.15 208 489 C212.5 488.85 220.6 487.65 226 489 C231.4 490.35 241 495.75 244 498 C247 500.25 245.4 502.35 246 504 C246.6 505.65 248.3 507.5 248 509 C247.7 510.5 245.8 512.5 244 514 C242.2 515.5 239 517.65 236 519 C233 520.35 227.9 522.25 224 523 C220.1 523.75 214.2 524.45 210 524 C205.8 523.55 199.3 521.5 196 520 C192.7 518.5 189.65 516.1 188 514 C186.35 511.9 185.45 508.1 185 506 C184.55 503.9 184.55 501.65 185 500 Z" stroke-width="1.05" fill="none"/>
<path d="M210 490 C210.5 491.33 211.67 495.33 213 498 C214.33 500.67 215.5 503.67 218 506 C220.5 508.33 224.33 510.5 228 512 C231.67 513.5 238 514.5 240 515" stroke-width="1.05" fill="none"/>
<path d="M293.3 438.8 C294.42 438.17 297.13 435.75 300 435 C302.87 434.25 307 433.8 310.5 434.3 C314 434.8 318 436.13 321 438 C324 439.87 326.62 442.25 328.5 445.5 C330.38 448.75 331.47 453.25 332.3 457.5 C333.13 461.75 333.63 466.25 333.5 471 C333.37 475.75 332.75 481.17 331.5 486 C330.25 490.83 328.25 495.67 326 500 C323.75 504.33 321 508.42 318 512 C315 515.58 311 519.08 308 521.5 C305 523.92 301.33 525.67 300 526.5" stroke-width="1.05" fill="none"/>
<path d="M294.8 441.8 C295.92 441.17 298.88 438.75 301.5 438 C304.12 437.25 307.5 436.8 310.5 437.3 C313.5 437.8 316.87 439.13 319.5 441 C322.13 442.87 324.6 445.5 326.3 448.5 C328 451.5 328.97 455 329.7 459 C330.43 463 330.82 468.33 330.7 472.5 C330.58 476.67 330.12 479.92 329 484 C327.88 488.08 326.17 492.83 324 497 C321.83 501.17 319 505.42 316 509 C313 512.58 307.67 516.92 306 518.5" stroke-width="1.05" fill="none"/>
<path d="M297 444 C298 445.25 301.5 448.25 303 451.5 C304.5 454.75 305.42 459.75 306 463.5 C306.58 467.25 306.42 472.25 306.5 474" stroke-width="1.05" fill="none"/>
<path d="M310.5 442.5 C311.25 444 313.87 448 315 451.5 C316.13 455 317.05 459.42 317.3 463.5 C317.55 467.58 317.05 472.08 316.5 476 C315.95 479.92 314.42 485.17 314 487" stroke-width="1.05" fill="none"/>
<path d="M318 445.5 C318.75 447 321.5 451.25 322.5 454.5 C323.5 457.75 323.87 461.25 324 465 C324.13 468.75 323.97 473 323.3 477 C322.63 481 321.38 485.33 320 489 C318.62 492.67 315.83 497.33 315 499" stroke-width="1.05" fill="none"/>
<path d="M276 444 C277.25 443.75 280.67 442.5 283.5 442.5 C286.33 442.5 290.25 443.25 293 444 C295.75 444.75 298.08 445.25 300 447 C301.92 448.75 303.75 453.25 304.5 454.5" stroke-width="1.05" fill="none"/>
<path d="M310 490 C309.33 491.33 307.83 495.67 306 498 C304.17 500.33 301.5 501.5 299 504 C296.5 506.5 294.33 510.5 291 513 C287.67 515.5 283 517.5 279 519 C275 520.5 270.75 521.75 267 522 C263.25 522.25 259 521.5 256.5 520.5 C254 519.5 253.08 517.92 252 516 C250.92 514.08 250.33 510.17 250 509" stroke-width="1.05" fill="none"/>
<path d="M251.3 513 C251.92 515 252.88 521.75 255 525 C257.12 528.25 260.75 530.87 264 532.5 C267.25 534.13 270.5 535.05 274.5 534.8 C278.5 534.55 284 532.63 288 531 C292 529.37 296 526.62 298.5 525 C301 523.38 301.25 523.05 303 521.3 C304.75 519.55 308 515.63 309 514.5" stroke-width="1.05" fill="none"/>
<path d="M249.8 515 C250.42 516.92 251.38 523.2 253.5 526.5 C255.62 529.8 259 532.92 262.5 534.8 C266 536.68 270 537.93 274.5 537.8 C279 537.67 284.75 536.25 289.5 534 C294.25 531.75 299.42 527.3 303 524.3 C306.58 521.3 309.67 517.38 311 516" stroke-width="1.05" fill="none"/>
<path d="M250 522 C250.67 523.5 252.42 528.5 254 531 C255.58 533.5 256.33 535.37 259.5 537 C262.67 538.63 268.25 540.67 273 540.8 C277.75 540.93 282.75 540.18 288 537.8 C293.25 535.42 300.17 530.05 304.5 526.5 C308.83 522.95 312.42 518.17 314 516.5" stroke-width="1.05" fill="none"/>
<path d="M252 528 C253 529.58 254.67 535 258 537.5 C261.33 540 267 542.53 272 543 C277 543.47 282.5 542.55 288 540.3 C293.5 538.05 300.33 533.05 305 529.5 C309.67 525.95 314.17 520.75 316 519" stroke-width="0.8" fill="none"/>
<path d="M259 436 C259.67 437 262 439.83 263 442 C264 444.17 264.75 446.5 265 449 C265.25 451.5 265 454.33 264.5 457 C264 459.67 263.25 462.33 262 465 C260.75 467.67 259 470.5 257 473 C255 475.5 252.33 478 250 480 C247.67 482 245.33 483.67 243 485 C240.67 486.33 237.17 487.5 236 488" stroke-width="1.05" fill="none"/>
<path d="M263 439 C264 439.67 267.42 441.33 269 443 C270.58 444.67 271.83 446.67 272.5 449 C273.17 451.33 273.25 454 273 457 C272.75 460 272.17 463.67 271 467 C269.83 470.33 268.17 474 266 477 C263.83 480 261 482.67 258 485 C255 487.33 250.5 489.67 248 491 C245.5 492.33 243.83 492.67 243 493" stroke-width="1.05" fill="none"/>
<rect x="-2.75" y="-1" width="5.5" height="2" rx="1" stroke-width="0.8" transform="translate(267.2 442.5) rotate(80)"/>
<rect x="-6" y="-1" width="12" height="2" rx="1" stroke-width="0.8" transform="translate(267.2 457) rotate(104)"/>
<rect x="-6.25" y="-1" width="12.5" height="2" rx="1" stroke-width="0.8" transform="translate(259.2 475.5) rotate(128)"/>
<rect x="-4.25" y="-1" width="8.5" height="2" rx="1" stroke-width="0.8" transform="translate(245.3 489) rotate(156)"/>
<rect x="-4.5" y="-1.4" width="9" height="2.8" rx="1.4" stroke-width="0.8" transform="translate(255.6 467) rotate(119)"/>
<path d="M245.5 435 L248 439 L249.5 445 L249 449 L246 452 L251 453.5 L253.5 458 L253 464 L249 469 L244 472 L239 470 L236.5 469.5 L237 472 L232 474.5 L223.5 476 L222.5 478 L226 482" stroke-width="1.05" fill="none"/>
<path d="M245.5 435 L250 432 L255 430" stroke-width="1.05" fill="none"/>
<ellipse cx="258" cy="456" rx="3.4" ry="2.6" stroke-width="0.8" fill="none" transform="rotate(-40 258 456)"/>
<ellipse cx="258" cy="456" rx="1.8" ry="1.3" stroke-width="0.8" fill="#999" transform="rotate(-40 258 456)"/>
<ellipse cx="248" cy="477" rx="3.4" ry="2.6" stroke-width="0.8" fill="none" transform="rotate(-40 248 477)"/>
<ellipse cx="248" cy="477" rx="1.8" ry="1.3" stroke-width="0.8" fill="#999" transform="rotate(-40 248 477)"/>
<rect x="253.8" y="447.3" width="2.2" height="3.4" stroke-width="0.7" fill="none"/>
<rect x="251.5" y="450.2" width="2" height="3" stroke-width="0.7" fill="none"/>
<ellipse cx="239" cy="479" rx="2.6" ry="1.6" stroke-width="0.7" fill="none" transform="rotate(-20 239 479)"/>
<path d="M203.3 484.6 L210.3 485.5 L222.5 483.8 L227.8 485.5 L247 495 L248.8 499.5 L252.3 504.8 L253.5 508" stroke-width="1.05" fill="none"/>
<path d="M247 434 C247.8 434.35 253.42 436.9 255 437.5 C256.58 438.1 261.24 439.57 262.8 440 C264.36 440.43 269.03 441.27 270.6 441.8 C272.17 442.33 277.26 445.23 278.5 445.3 C279.74 445.37 281.75 442.98 283 442.5 C284.25 442.02 290.2 440.7 291 440.5" stroke-width="1.05" fill="none"/>
<ellipse cx="285.8" cy="485.8" rx="5.42" ry="9.4" stroke-width="1.0" fill="#fff" transform="rotate(30 285.8 485.8)"/>
<path d="M281.1 493.94 L286.3 496.94 L295.7 480.66 L290.5 477.66 Z" fill="#fff" stroke="none"/>
<line x1="281.1" y1="493.94" x2="286.3" y2="496.94" stroke-width="1.0"/>
<line x1="290.5" y1="477.66" x2="295.7" y2="480.66" stroke-width="1.0"/>
<ellipse cx="291" cy="488.8" rx="5.42" ry="9.4" stroke-width="1.0" fill="#fff" transform="rotate(30 291 488.8)"/>
<ellipse cx="292.24" cy="489.55" rx="6.46" ry="11.2" stroke-width="1.0" fill="#fff" transform="rotate(30 292.24 489.55)"/>
<path d="M286.64 499.25 L291.4 502 L302.6 482.6 L297.84 479.85 Z" fill="#fff" stroke="none"/>
<line x1="286.64" y1="499.25" x2="291.4" y2="502" stroke-width="1.0"/>
<line x1="297.84" y1="479.85" x2="302.6" y2="482.6" stroke-width="1.0"/>
<ellipse cx="297" cy="492.3" rx="6.46" ry="11.2" stroke-width="1.0" fill="#fff" transform="rotate(30 297 492.3)"/>
<path d="M288.77 500.43 L288.08 499.73 L287.55 498.83 L287.17 497.77 L286.96 496.55 L286.93 495.22 L287.06 493.8 L287.37 492.31 L287.85 490.8 L288.47 489.29 L289.24 487.82 L290.13 486.42 L291.12 485.12 L292.19 483.96 L293.33 482.95 L294.49 482.11 L295.66 481.48 L296.82 481.05 L297.93 480.85 L298.97 480.86 L299.93 481.11" stroke-width="0.7" fill="none"/>
<ellipse cx="297.5" cy="492.6" rx="4.96" ry="8.6" stroke-width="1.0" fill="none" transform="rotate(30 297.5 492.6)"/>
<ellipse cx="297.9" cy="492.8" rx="4.04" ry="7" stroke-width="1.0" fill="none" transform="rotate(30 297.9 492.8)"/>
<ellipse cx="298.2" cy="493" rx="3" ry="5.2" stroke-width="1.0" fill="none" transform="rotate(30 298.2 493)"/>
<ellipse cx="326.7" cy="509.2" rx="15.87" ry="27.5" stroke-width="1.0" fill="#fff" transform="rotate(30 326.7 509.2)"/>
<ellipse cx="326.7" cy="509.7" rx="7.15" ry="12.4" stroke-width="1.0" fill="none" transform="rotate(30 326.7 509.7)"/>
<ellipse cx="327.4" cy="524.28" rx="1.1" ry="1.9" stroke-width="0.7" fill="none" transform="rotate(30 327.4 524.28)"/>
<ellipse cx="340.11" cy="500.64" rx="1.1" ry="1.9" stroke-width="0.7" fill="none" transform="rotate(30 340.11 500.64)"/>
<ellipse cx="326" cy="494.12" rx="1.1" ry="1.9" stroke-width="0.7" fill="none" transform="rotate(30 326 494.12)"/>
<ellipse cx="313.29" cy="517.76" rx="1.1" ry="1.9" stroke-width="0.7" fill="none" transform="rotate(30 313.29 517.76)"/>
<path d="M334.2 534.8 V577.5 L327 573.8" stroke-width="0.8" fill="none"/>
<ellipse cx="357.24" cy="525.45" rx="15.69" ry="27.2" stroke-width="1.0" fill="#fff" transform="rotate(30 357.24 525.45)"/>
<path d="M343.64 549.01 L353.6 554.76 L380.8 507.64 L370.84 501.89 Z" fill="#fff" stroke="none"/>
<line x1="343.64" y1="549.01" x2="353.6" y2="554.76" stroke-width="1.0"/>
<line x1="370.84" y1="501.89" x2="380.8" y2="507.64" stroke-width="1.0"/>
<path d="M345.97 550.23 L344.31 548.52 L343 546.35 L342.09 543.76 L341.58 540.82 L341.5 537.58 L341.83 534.12 L342.58 530.51 L343.73 526.83 L345.25 523.17 L347.11 519.6 L349.27 516.21 L351.68 513.06 L354.29 510.23 L357.04 507.77 L359.87 505.75 L362.72 504.21 L365.52 503.17 L368.22 502.67 L370.76 502.71 L373.07 503.3" stroke-width="1.0" fill="none"/>
<path d="M347.27 550.98 L345.61 549.27 L344.3 547.1 L343.39 544.51 L342.88 541.57 L342.79 538.33 L343.13 534.87 L343.88 531.26 L345.03 527.58 L346.55 523.92 L348.41 520.35 L350.57 516.96 L352.98 513.81 L355.59 510.98 L358.34 508.52 L361.17 506.5 L364.02 504.96 L366.82 503.92 L369.52 503.42 L372.06 503.46 L374.37 504.05" stroke-width="0.6" fill="none"/>
<ellipse cx="367.2" cy="531.2" rx="15.69" ry="27.2" stroke-width="1.0" fill="#fff" transform="rotate(30 367.2 531.2)"/>
<ellipse cx="367.4" cy="531.8" rx="6.92" ry="12" stroke-width="1.0" fill="none" transform="rotate(30 367.4 531.8)"/>
<ellipse cx="367.2" cy="545.4" rx="3.23" ry="5.6" stroke-width="1.0" fill="none" transform="rotate(30 367.2 545.4)"/>
<ellipse cx="379.5" cy="524.09" rx="3.23" ry="5.6" stroke-width="1.0" fill="none" transform="rotate(30 379.5 524.09)"/>
<ellipse cx="367.2" cy="517" rx="3.23" ry="5.6" stroke-width="1.0" fill="none" transform="rotate(30 367.2 517)"/>
<ellipse cx="354.9" cy="538.31" rx="3.23" ry="5.6" stroke-width="1.0" fill="none" transform="rotate(30 354.9 538.31)"/>
<ellipse cx="358.3" cy="546.62" rx="1.15" ry="2" stroke-width="0.7" fill="none" transform="rotate(30 358.3 546.62)"/>
<ellipse cx="376.09" cy="536.34" rx="1.15" ry="2" stroke-width="0.7" fill="none" transform="rotate(30 376.09 536.34)"/>
<ellipse cx="376.1" cy="515.78" rx="1.15" ry="2" stroke-width="0.7" fill="none" transform="rotate(30 376.1 515.78)"/>
<ellipse cx="358.31" cy="526.06" rx="1.15" ry="2" stroke-width="0.7" fill="none" transform="rotate(30 358.31 526.06)"/>
<line x1="359" y1="549.3" x2="392" y2="568" stroke-width="0.75"/>
<path d="M411 579 V597 L367 573 V598 L376 603" stroke-width="0.75" fill="none"/>
<ellipse cx="387.78" cy="543.2" rx="4.36" ry="7.56" stroke-width="1.0" fill="#fff" transform="rotate(30 387.78 543.2)"/>
<path d="M384 549.75 L385.04 550.35 L392.6 537.25 L391.56 536.65 Z" fill="#fff" stroke="none"/>
<line x1="384" y1="549.75" x2="385.04" y2="550.35" stroke-width="1.0"/>
<line x1="391.56" y1="536.65" x2="392.6" y2="537.25" stroke-width="1.0"/>
<ellipse cx="388.82" cy="543.8" rx="4.36" ry="7.56" stroke-width="1.0" fill="#fff" transform="rotate(30 388.82 543.8)"/>
<path d="M385.5 548.35 L389.33 547.32 L392.13 542.47 L391.1 538.65 L387.28 539.68 L384.48 544.53 Z" fill="#fff" stroke-width="1.0"/>
<path d="M385.5 548.35 L390.7 551.35 L394.52 550.32 L389.33 547.32 Z" fill="#fff" stroke="none"/>
<path d="M389.33 547.32 L394.52 550.32 L397.32 545.47 L392.13 542.47 Z" fill="#fff" stroke="none"/>
<path d="M392.13 542.47 L397.32 545.47 L396.3 541.65 L391.1 538.65 Z" fill="#fff" stroke="none"/>
<path d="M391.1 538.65 L396.3 541.65 L392.48 542.68 L387.28 539.68 Z" fill="#fff" stroke="none"/>
<path d="M387.28 539.68 L392.48 542.68 L389.68 547.53 L384.48 544.53 Z" fill="#fff" stroke="none"/>
<path d="M384.48 544.53 L389.68 547.53 L390.7 551.35 L385.5 548.35 Z" fill="#fff" stroke="none"/>
<line x1="385.5" y1="548.35" x2="390.7" y2="551.35" stroke-width="0.7"/>
<line x1="389.33" y1="547.32" x2="394.52" y2="550.32" stroke-width="0.7"/>
<line x1="392.13" y1="542.47" x2="397.32" y2="545.47" stroke-width="0.7"/>
<line x1="391.1" y1="538.65" x2="396.3" y2="541.65" stroke-width="0.7"/>
<line x1="387.28" y1="539.68" x2="392.48" y2="542.68" stroke-width="0.7"/>
<line x1="384.48" y1="544.53" x2="389.68" y2="547.53" stroke-width="0.7"/>
<path d="M390.7 551.35 L394.52 550.32 L397.32 545.47 L396.3 541.65 L392.48 542.68 L389.68 547.53 Z" fill="#fff" stroke-width="1.0"/>
<ellipse cx="393.5" cy="546.5" rx="1.78" ry="3.08" stroke-width="0.7" fill="none" transform="rotate(30 393.5 546.5)"/>
<ellipse cx="393.5" cy="546.5" rx="0.97" ry="1.68" stroke-width="0.7" fill="none" transform="rotate(30 393.5 546.5)"/>
<ellipse cx="412.09" cy="557.9" rx="15" ry="26" stroke-width="1.0" fill="#fff" transform="rotate(30 412.09 557.9)"/>
<path d="M399.09 580.42 L401 581.52 L427 536.48 L425.09 535.38 Z" fill="#fff" stroke="none"/>
<line x1="399.09" y1="580.42" x2="401" y2="581.52" stroke-width="1.0"/>
<line x1="425.09" y1="535.38" x2="427" y2="536.48" stroke-width="1.0"/>
<ellipse cx="414" cy="559" rx="15" ry="26" stroke-width="1.0" fill="#fff" transform="rotate(30 414 559)"/>
<ellipse cx="415" cy="559.6" rx="7.21" ry="12.5" stroke-width="1.0" fill="none" transform="rotate(30 415 559.6)"/>
<ellipse cx="415.6" cy="560" rx="4.21" ry="7.3" stroke-width="1.0" fill="#fff" transform="rotate(30 415.6 560)"/>
<ellipse cx="416" cy="560.2" rx="3" ry="5.2" stroke-width="1.0" fill="none" transform="rotate(30 416 560.2)"/>
<ellipse cx="416.3" cy="560.3" rx="1.96" ry="3.4" stroke-width="1.0" fill="#ccc" transform="rotate(30 416.3 560.3)"/>
<ellipse cx="423.31" cy="543.6" rx="1.5" ry="2.6" stroke-width="1.0" fill="#fff" transform="rotate(30 423.31 543.6)"/>
<ellipse cx="423.91" cy="543.95" rx="0.92" ry="1.6" stroke-width="0.7" fill="none" transform="rotate(30 423.91 543.95)"/>
<ellipse cx="405.33" cy="553.27" rx="1.5" ry="2.6" stroke-width="1.0" fill="#fff" transform="rotate(30 405.33 553.27)"/>
<ellipse cx="405.93" cy="553.62" rx="0.92" ry="1.6" stroke-width="0.7" fill="none" transform="rotate(30 405.93 553.62)"/>
<ellipse cx="404.69" cy="574.4" rx="1.5" ry="2.6" stroke-width="1.0" fill="#fff" transform="rotate(30 404.69 574.4)"/>
<ellipse cx="405.29" cy="574.75" rx="0.92" ry="1.6" stroke-width="0.7" fill="none" transform="rotate(30 405.29 574.75)"/>
<ellipse cx="422.67" cy="564.73" rx="1.5" ry="2.6" stroke-width="1.0" fill="#fff" transform="rotate(30 422.67 564.73)"/>
<ellipse cx="423.27" cy="565.08" rx="0.92" ry="1.6" stroke-width="0.7" fill="none" transform="rotate(30 423.27 565.08)"/>
<ellipse cx="434" cy="570" rx="4.3" ry="5.6" stroke-width="1.1" fill="none" transform="rotate(25 434 570)"/>
<ellipse cx="375.34" cy="602.6" rx="3.27" ry="5.67" stroke-width="1.0" fill="#fff" transform="rotate(30 375.34 602.6)"/>
<path d="M372.51 607.51 L373.55 608.11 L379.22 598.29 L378.18 597.69 Z" fill="#fff" stroke="none"/>
<line x1="372.51" y1="607.51" x2="373.55" y2="608.11" stroke-width="1.0"/>
<line x1="378.18" y1="597.69" x2="379.22" y2="598.29" stroke-width="1.0"/>
<ellipse cx="376.38" cy="603.2" rx="3.27" ry="5.67" stroke-width="1.0" fill="#fff" transform="rotate(30 376.38 603.2)"/>
<path d="M373.94 606.64 L376.8 605.87 L378.9 602.23 L378.14 599.36 L375.27 600.13 L373.17 603.77 Z" fill="#fff" stroke-width="1.0"/>
<path d="M373.94 606.64 L377.4 608.64 L380.27 607.87 L376.8 605.87 Z" fill="#fff" stroke="none"/>
<path d="M376.8 605.87 L380.27 607.87 L382.37 604.23 L378.9 602.23 Z" fill="#fff" stroke="none"/>
<path d="M378.9 602.23 L382.37 604.23 L381.6 601.36 L378.14 599.36 Z" fill="#fff" stroke="none"/>
<path d="M378.14 599.36 L381.6 601.36 L378.73 602.13 L375.27 600.13 Z" fill="#fff" stroke="none"/>
<path d="M375.27 600.13 L378.73 602.13 L376.63 605.77 L373.17 603.77 Z" fill="#fff" stroke="none"/>
<path d="M373.17 603.77 L376.63 605.77 L377.4 608.64 L373.94 606.64 Z" fill="#fff" stroke="none"/>
<line x1="373.94" y1="606.64" x2="377.4" y2="608.64" stroke-width="0.7"/>
<line x1="376.8" y1="605.87" x2="380.27" y2="607.87" stroke-width="0.7"/>
<line x1="378.9" y1="602.23" x2="382.37" y2="604.23" stroke-width="0.7"/>
<line x1="378.14" y1="599.36" x2="381.6" y2="601.36" stroke-width="0.7"/>
<line x1="375.27" y1="600.13" x2="378.73" y2="602.13" stroke-width="0.7"/>
<line x1="373.17" y1="603.77" x2="376.63" y2="605.77" stroke-width="0.7"/>
<path d="M377.4 608.64 L380.27 607.87 L382.37 604.23 L381.6 601.36 L378.73 602.13 L376.63 605.77 Z" fill="#fff" stroke-width="1.0"/>
<ellipse cx="379.5" cy="605" rx="1.33" ry="2.31" stroke-width="0.7" fill="none" transform="rotate(30 379.5 605)"/>
<ellipse cx="379.5" cy="605" rx="0.73" ry="1.26" stroke-width="0.7" fill="none" transform="rotate(30 379.5 605)"/>
<line x1="438" y1="658.53" x2="470" y2="639.91" stroke-width="0.75" stroke-dasharray="14 2 1.5 2"/>
<line x1="476" y1="679.02" x2="494" y2="668.37" stroke-width="0.75" stroke-dasharray="14 2 1.5 2"/>
<line x1="480" y1="634.13" x2="522" y2="610.07" stroke-width="0.75"/>
<line x1="502" y1="663.7" x2="519" y2="653.95" stroke-width="0.75"/>
<line x1="557" y1="590.01" x2="574" y2="580.27" stroke-width="0.75"/>
<line x1="569" y1="625.25" x2="613" y2="599.99" stroke-width="0.75" stroke-dasharray="14 2 1.5 2"/>
<line x1="496" y1="607.5" x2="503" y2="611.5" stroke-width="0.75"/>
<line x1="526" y1="624" x2="562" y2="644" stroke-width="0.75"/>
<ellipse cx="452.97" cy="581.55" rx="6.52" ry="11.3" stroke-width="1.0" fill="#fff" transform="rotate(30 452.97 581.55)"/>
<path d="M447.32 591.34 L450.35 593.09 L461.65 573.51 L458.62 571.76 Z" fill="#fff" stroke="none"/>
<line x1="447.32" y1="591.34" x2="450.35" y2="593.09" stroke-width="1.0"/>
<line x1="458.62" y1="571.76" x2="461.65" y2="573.51" stroke-width="1.0"/>
<ellipse cx="456" cy="583.3" rx="6.52" ry="11.3" stroke-width="1.0" fill="#fff" transform="rotate(30 456 583.3)"/>
<ellipse cx="456" cy="583.3" rx="5.22" ry="9.04" stroke-width="0.7" fill="none" transform="rotate(30 456 583.3)"/>
<ellipse cx="456" cy="583.3" rx="3.91" ry="6.78" stroke-width="0.7" fill="none" transform="rotate(30 456 583.3)"/>
<ellipse cx="470.67" cy="592.8" rx="6.87" ry="11.9" stroke-width="1.0" fill="#fff" transform="rotate(30 470.67 592.8)"/>
<path d="M464.72 603.11 L469.05 605.61 L480.95 584.99 L476.62 582.49 Z" fill="#fff" stroke="none"/>
<line x1="464.72" y1="603.11" x2="469.05" y2="605.61" stroke-width="1.0"/>
<line x1="476.62" y1="582.49" x2="480.95" y2="584.99" stroke-width="1.0"/>
<ellipse cx="475" cy="595.3" rx="6.87" ry="11.9" stroke-width="1.0" fill="#fff" transform="rotate(30 475 595.3)"/>
<ellipse cx="475" cy="595.3" rx="5.63" ry="9.76" stroke-width="0.7" fill="none" transform="rotate(30 475 595.3)"/>
<ellipse cx="475" cy="595.3" rx="4.26" ry="7.38" stroke-width="0.7" fill="none" transform="rotate(30 475 595.3)"/>
<ellipse cx="475" cy="595.3" rx="3.43" ry="5.95" stroke-width="0.7" fill="none" transform="rotate(30 475 595.3)"/>
<ellipse cx="488.73" cy="603.4" rx="4.39" ry="7.6" stroke-width="1.0" fill="#fff" transform="rotate(30 488.73 603.4)"/>
<path d="M484.93 609.98 L487.7 611.58 L495.3 598.42 L492.53 596.82 Z" fill="#fff" stroke="none"/>
<line x1="484.93" y1="609.98" x2="487.7" y2="611.58" stroke-width="1.0"/>
<line x1="492.53" y1="596.82" x2="495.3" y2="598.42" stroke-width="1.0"/>
<ellipse cx="491.5" cy="605" rx="4.39" ry="7.6" stroke-width="1.0" fill="#fff" transform="rotate(30 491.5 605)"/>
<ellipse cx="491.5" cy="605" rx="3.16" ry="5.47" stroke-width="0.7" fill="none" transform="rotate(30 491.5 605)"/>
<ellipse cx="491.5" cy="605" rx="1.97" ry="3.42" stroke-width="0.7" fill="none" transform="rotate(30 491.5 605)"/>
<ellipse cx="566.67" cy="647" rx="6.58" ry="11.4" stroke-width="1.0" fill="#fff" transform="rotate(30 566.67 647)"/>
<path d="M560.97 656.87 L565.3 659.37 L576.7 639.63 L572.37 637.13 Z" fill="#fff" stroke="none"/>
<line x1="560.97" y1="656.87" x2="565.3" y2="659.37" stroke-width="1.0"/>
<line x1="572.37" y1="637.13" x2="576.7" y2="639.63" stroke-width="1.0"/>
<ellipse cx="571" cy="649.5" rx="6.58" ry="11.4" stroke-width="1.0" fill="#fff" transform="rotate(30 571 649.5)"/>
<ellipse cx="571" cy="649.5" rx="5.39" ry="9.35" stroke-width="0.7" fill="none" transform="rotate(30 571 649.5)"/>
<ellipse cx="571" cy="649.5" rx="4.08" ry="7.07" stroke-width="0.7" fill="none" transform="rotate(30 571 649.5)"/>
<ellipse cx="571" cy="649.5" rx="3.29" ry="5.7" stroke-width="0.7" fill="none" transform="rotate(30 571 649.5)"/>
<ellipse cx="586.8" cy="658.5" rx="6.58" ry="11.4" stroke-width="1.0" fill="#fff" transform="rotate(30 586.8 658.5)"/>
<path d="M581.1 668.37 L586.3 671.37 L597.7 651.63 L592.5 648.63 Z" fill="#fff" stroke="none"/>
<line x1="581.1" y1="668.37" x2="586.3" y2="671.37" stroke-width="1.0"/>
<line x1="592.5" y1="648.63" x2="597.7" y2="651.63" stroke-width="1.0"/>
<ellipse cx="592" cy="661.5" rx="6.58" ry="11.4" stroke-width="1.0" fill="#fff" transform="rotate(30 592 661.5)"/>
<path d="M583.92 669.95 L583.22 669.23 L582.68 668.32 L582.29 667.24 L582.08 666 L582.04 664.65 L582.18 663.19 L582.5 661.68 L582.98 660.14 L583.62 658.61 L584.4 657.11 L585.3 655.69 L586.31 654.37 L587.41 653.18 L588.56 652.15 L589.75 651.31 L590.94 650.66 L592.11 650.22 L593.25 650.01 L594.31 650.03 L595.28 650.28" stroke-width="0.7" fill="none"/>
<ellipse cx="592.4" cy="661.7" rx="5.26" ry="9.12" stroke-width="0.7" fill="none" transform="rotate(30 592.4 661.7)"/>
<ellipse cx="592.4" cy="661.7" rx="4.08" ry="7.07" stroke-width="0.7" fill="none" transform="rotate(30 592.4 661.7)"/>
<ellipse cx="592.4" cy="661.7" rx="3.29" ry="5.7" stroke-width="0.7" fill="none" transform="rotate(30 592.4 661.7)"/>
<path d="M527 612 L538 606 L541.3 626 L540 642 L534.5 646 L528 632 Z" stroke-width="1.0" fill="#fff"/>
<path d="M533.4 613.8 L541.3 626 L536 630.6 L529.4 627.3 Z" stroke-width="1.0" fill="#fff"/>
<line x1="530" y1="629.5" x2="534.5" y2="639.6" stroke-width="1.0"/>
<line x1="536" y1="630.6" x2="539" y2="640" stroke-width="1.0"/>
<path d="M519.5 603.3 C518.08 603.42 513.58 602.88 511 604 C508.42 605.12 505.7 607.67 504 610 C502.3 612.33 501.47 615.95 500.8 618 C500.13 620.05 500.13 621.58 500 622.3 L512.5 617.6 L517 613 Z" stroke-width="1.0" fill="#fff"/>
<path d="M513 619.4 L509 636.3 L505.8 641.3 L507 645.8 L513 647.8 L518.5 646 L519 634 L521 628 Z" stroke-width="1.0" fill="#fff"/>
<ellipse cx="509.6" cy="643.2" rx="1.3" ry="1.3" stroke-width="0.7" fill="none"/>
<line x1="514" y1="633" x2="511.5" y2="645" stroke-width="0.7"/>
<ellipse cx="539.19" cy="644.2" rx="3.23" ry="5.6" stroke-width="1.0" fill="#fff" transform="rotate(150 539.19 644.2)"/>
<path d="M536.39 639.35 L518.2 649.85 L523.8 659.55 L541.99 649.05 Z" fill="#fff" stroke="none"/>
<line x1="536.39" y1="639.35" x2="518.2" y2="649.85" stroke-width="1.0"/>
<line x1="541.99" y1="649.05" x2="523.8" y2="659.55" stroke-width="1.0"/>
<ellipse cx="521" cy="654.7" rx="3.23" ry="5.6" stroke-width="1.0" fill="#fff" transform="rotate(150 521 654.7)"/>
<ellipse cx="521" cy="654.7" rx="1.96" ry="3.4" stroke-width="0.7" fill="none" transform="rotate(150 521 654.7)"/>
<path d="M524.74 659 L524.27 659.17 L523.74 659.21 L523.17 659.13 L522.58 658.94 L521.97 658.63 L521.37 658.22 L520.78 657.7 L520.22 657.11 L519.7 656.44 L519.24 655.72 L518.85 654.95 L518.53 654.17 L518.29 653.39 L518.14 652.62 L518.08 651.89 L518.12 651.21 L518.25 650.6 L518.46 650.07 L518.76 649.64 L519.14 649.31" stroke-width="0.9" fill="none"/>
<path d="M525.78 658.4 L525.3 658.57 L524.78 658.61 L524.21 658.53 L523.62 658.34 L523.01 658.03 L522.41 657.62 L521.82 657.1 L521.26 656.51 L520.74 655.84 L520.28 655.12 L519.88 654.35 L519.56 653.57 L519.33 652.79 L519.18 652.02 L519.12 651.29 L519.16 650.61 L519.28 650 L519.5 649.47 L519.8 649.04 L520.18 648.71" stroke-width="0.9" fill="none"/>
<path d="M526.82 657.8 L526.34 657.97 L525.82 658.01 L525.25 657.93 L524.66 657.74 L524.05 657.43 L523.45 657.02 L522.86 656.5 L522.3 655.91 L521.78 655.24 L521.32 654.52 L520.92 653.75 L520.6 652.97 L520.37 652.19 L520.22 651.42 L520.16 650.69 L520.2 650.01 L520.32 649.4 L520.54 648.87 L520.84 648.44 L521.22 648.11" stroke-width="0.9" fill="none"/>
<ellipse cx="519.4" cy="622.5" rx="6.12" ry="10.6" stroke-width="1.0" fill="#fff" transform="rotate(30 519.4 622.5)"/>
<path d="M514.1 631.68 L516.7 633.18 L527.3 614.82 L524.7 613.32 Z" fill="#fff" stroke="none"/>
<line x1="514.1" y1="631.68" x2="516.7" y2="633.18" stroke-width="1.0"/>
<line x1="524.7" y1="613.32" x2="527.3" y2="614.82" stroke-width="1.0"/>
<ellipse cx="522" cy="624" rx="6.12" ry="10.6" stroke-width="1.0" fill="#fff" transform="rotate(30 522 624)"/>
<ellipse cx="522.4" cy="624.2" rx="4.96" ry="8.6" stroke-width="1.0" fill="none" transform="rotate(30 522.4 624.2)"/>
<ellipse cx="522.8" cy="624.4" rx="4.27" ry="7.4" stroke-width="0.7" fill="none" transform="rotate(30 522.8 624.4)"/>
<ellipse cx="539.95" cy="599.7" rx="3.23" ry="5.6" stroke-width="1.0" fill="#fff" transform="rotate(150 539.95 599.7)"/>
<path d="M537.15 594.85 L520.7 604.35 L526.3 614.05 L542.75 604.55 Z" fill="#fff" stroke="none"/>
<line x1="537.15" y1="594.85" x2="520.7" y2="604.35" stroke-width="1.0"/>
<line x1="542.75" y1="604.55" x2="526.3" y2="614.05" stroke-width="1.0"/>
<ellipse cx="523.5" cy="609.2" rx="3.23" ry="5.6" stroke-width="1.0" fill="#fff" transform="rotate(150 523.5 609.2)"/>
<ellipse cx="523.5" cy="609.2" rx="1.96" ry="3.4" stroke-width="0.7" fill="none" transform="rotate(150 523.5 609.2)"/>
<path d="M527.24 613.5 L526.77 613.67 L526.24 613.71 L525.67 613.63 L525.08 613.44 L524.47 613.13 L523.87 612.72 L523.28 612.2 L522.72 611.61 L522.2 610.94 L521.74 610.22 L521.35 609.45 L521.03 608.67 L520.79 607.89 L520.64 607.12 L520.58 606.39 L520.62 605.71 L520.75 605.1 L520.96 604.57 L521.26 604.14 L521.64 603.81" stroke-width="0.9" fill="none"/>
<path d="M528.28 612.9 L527.8 613.07 L527.28 613.11 L526.71 613.03 L526.12 612.84 L525.51 612.53 L524.91 612.12 L524.32 611.6 L523.76 611.01 L523.24 610.34 L522.78 609.62 L522.38 608.85 L522.06 608.07 L521.83 607.29 L521.68 606.52 L521.62 605.79 L521.66 605.11 L521.78 604.5 L522 603.97 L522.3 603.54 L522.68 603.21" stroke-width="0.9" fill="none"/>
<path d="M529.32 612.3 L528.84 612.47 L528.32 612.51 L527.75 612.43 L527.16 612.24 L526.55 611.93 L525.95 611.52 L525.36 611 L524.8 610.41 L524.28 609.74 L523.82 609.02 L523.42 608.25 L523.1 607.47 L522.87 606.69 L522.72 605.92 L522.66 605.19 L522.7 604.51 L522.82 603.9 L523.04 603.37 L523.34 602.94 L523.72 602.61" stroke-width="0.9" fill="none"/>
<line x1="526" y1="624" x2="562" y2="644" stroke-width="0.75"/>
<g transform="translate(505.5 594.5) rotate(25)">
<rect x="-6" y="-1.3" width="3.2" height="2.6" stroke-width="0.7" fill="#fff"/>
<rect x="-2.8" y="-2.3" width="3" height="4.6" stroke-width="0.7" fill="#fff"/>
<rect x="0.2" y="-1.6" width="2.4" height="3.2" stroke-width="0.7" fill="#fff"/>
<rect x="2.6" y="-2.1" width="3.4" height="4.2" stroke-width="0.7" fill="#fff"/>
<line x1="3.8" y1="-2.1" x2="3.8" y2="2.1" stroke-width="0.5"/>
<line x1="4.9" y1="-2.1" x2="4.9" y2="2.1" stroke-width="0.5"/>
</g>
<g transform="translate(500.5 633) rotate(25)">
<rect x="-6" y="-1.3" width="3.2" height="2.6" stroke-width="0.7" fill="#fff"/>
<rect x="-2.8" y="-2.3" width="3" height="4.6" stroke-width="0.7" fill="#fff"/>
<rect x="0.2" y="-1.6" width="2.4" height="3.2" stroke-width="0.7" fill="#fff"/>
<rect x="2.6" y="-2.1" width="3.4" height="4.2" stroke-width="0.7" fill="#fff"/>
<line x1="3.8" y1="-2.1" x2="3.8" y2="2.1" stroke-width="0.5"/>
<line x1="4.9" y1="-2.1" x2="4.9" y2="2.1" stroke-width="0.5"/>
</g>
<ellipse cx="481.67" cy="633.15" rx="2.65" ry="4.6" stroke-width="1.0" fill="#fff" transform="rotate(150 481.67 633.15)"/>
<path d="M479.37 629.17 L473.74 632.42 L478.34 640.38 L483.97 637.13 Z" fill="#fff" stroke="none"/>
<line x1="479.37" y1="629.17" x2="473.74" y2="632.42" stroke-width="1.0"/>
<line x1="483.97" y1="637.13" x2="478.34" y2="640.38" stroke-width="1.0"/>
<ellipse cx="476.04" cy="636.4" rx="2.65" ry="4.6" stroke-width="1.0" fill="#fff" transform="rotate(150 476.04 636.4)"/>
<ellipse cx="476.39" cy="636.2" rx="3.64" ry="6.3" stroke-width="1.0" fill="#fff" transform="rotate(150 476.39 636.2)"/>
<path d="M473.24 630.74 L471.85 631.54 L478.15 642.46 L479.54 641.66 Z" fill="#fff" stroke="none"/>
<line x1="473.24" y1="630.74" x2="471.85" y2="631.54" stroke-width="1.0"/>
<line x1="479.54" y1="641.66" x2="478.15" y2="642.46" stroke-width="1.0"/>
<ellipse cx="475" cy="637" rx="3.64" ry="6.3" stroke-width="1.0" fill="#fff" transform="rotate(150 475 637)"/>
<ellipse cx="475" cy="637" rx="1.73" ry="3" stroke-width="0.7" fill="none" transform="rotate(150 475 637)"/>
<ellipse cx="504.67" cy="662.15" rx="2.65" ry="4.6" stroke-width="1.0" fill="#fff" transform="rotate(150 504.67 662.15)"/>
<path d="M502.37 658.17 L496.74 661.42 L501.34 669.38 L506.97 666.13 Z" fill="#fff" stroke="none"/>
<line x1="502.37" y1="658.17" x2="496.74" y2="661.42" stroke-width="1.0"/>
<line x1="506.97" y1="666.13" x2="501.34" y2="669.38" stroke-width="1.0"/>
<ellipse cx="499.04" cy="665.4" rx="2.65" ry="4.6" stroke-width="1.0" fill="#fff" transform="rotate(150 499.04 665.4)"/>
<ellipse cx="499.39" cy="665.2" rx="3.64" ry="6.3" stroke-width="1.0" fill="#fff" transform="rotate(150 499.39 665.2)"/>
<path d="M496.24 659.74 L494.85 660.54 L501.15 671.46 L502.54 670.66 Z" fill="#fff" stroke="none"/>
<line x1="496.24" y1="659.74" x2="494.85" y2="660.54" stroke-width="1.0"/>
<line x1="502.54" y1="670.66" x2="501.15" y2="671.46" stroke-width="1.0"/>
<ellipse cx="498" cy="666" rx="3.64" ry="6.3" stroke-width="1.0" fill="#fff" transform="rotate(150 498 666)"/>
<ellipse cx="498" cy="666" rx="1.73" ry="3" stroke-width="0.7" fill="none" transform="rotate(150 498 666)"/>
<ellipse cx="556.95" cy="590.42" rx="3.64" ry="6.3" stroke-width="1.0" fill="#fff" transform="rotate(150 556.95 590.42)"/>
<path d="M553.8 584.96 L552.41 585.76 L558.71 596.67 L560.1 595.87 Z" fill="#fff" stroke="none"/>
<line x1="553.8" y1="584.96" x2="552.41" y2="585.76" stroke-width="1.0"/>
<line x1="560.1" y1="595.87" x2="558.71" y2="596.67" stroke-width="1.0"/>
<ellipse cx="555.56" cy="591.22" rx="3.64" ry="6.3" stroke-width="1.0" fill="#fff" transform="rotate(150 555.56 591.22)"/>
<ellipse cx="555.56" cy="591.22" rx="2.65" ry="4.6" stroke-width="1.0" fill="#fff" transform="rotate(150 555.56 591.22)"/>
<path d="M553.26 587.23 L548.5 589.98 L553.1 597.95 L557.86 595.2 Z" fill="#fff" stroke="none"/>
<line x1="553.26" y1="587.23" x2="548.5" y2="589.98" stroke-width="1.0"/>
<line x1="557.86" y1="595.2" x2="553.1" y2="597.95" stroke-width="1.0"/>
<ellipse cx="550.8" cy="593.97" rx="2.65" ry="4.6" stroke-width="1.0" fill="#fff" transform="rotate(150 550.8 593.97)"/>
<ellipse cx="550.8" cy="593.97" rx="1.73" ry="3" stroke-width="0.7" fill="none" transform="rotate(150 550.8 593.97)"/>
<ellipse cx="567.65" cy="627.2" rx="3.64" ry="6.3" stroke-width="1.0" fill="#fff" transform="rotate(150 567.65 627.2)"/>
<path d="M564.5 621.75 L563.11 622.55 L569.41 633.46 L570.8 632.66 Z" fill="#fff" stroke="none"/>
<line x1="564.5" y1="621.75" x2="563.11" y2="622.55" stroke-width="1.0"/>
<line x1="570.8" y1="632.66" x2="569.41" y2="633.46" stroke-width="1.0"/>
<ellipse cx="566.26" cy="628" rx="3.64" ry="6.3" stroke-width="1.0" fill="#fff" transform="rotate(150 566.26 628)"/>
<ellipse cx="566.26" cy="628" rx="2.65" ry="4.6" stroke-width="1.0" fill="#fff" transform="rotate(150 566.26 628)"/>
<path d="M563.96 624.02 L559.2 626.77 L563.8 634.73 L568.56 631.98 Z" fill="#fff" stroke="none"/>
<line x1="563.96" y1="624.02" x2="559.2" y2="626.77" stroke-width="1.0"/>
<line x1="568.56" y1="631.98" x2="563.8" y2="634.73" stroke-width="1.0"/>
<ellipse cx="561.5" cy="630.75" rx="2.65" ry="4.6" stroke-width="1.0" fill="#fff" transform="rotate(150 561.5 630.75)"/>
<ellipse cx="561.5" cy="630.75" rx="1.73" ry="3" stroke-width="0.7" fill="none" transform="rotate(150 561.5 630.75)"/>
<ellipse cx="580.25" cy="576.98" rx="3.81" ry="6.6" stroke-width="1.0" fill="#fff" transform="rotate(150 580.25 576.98)"/>
<path d="M576.95 571.27 L574.7 572.57 L581.3 584 L583.55 582.7 Z" fill="#fff" stroke="none"/>
<line x1="576.95" y1="571.27" x2="574.7" y2="572.57" stroke-width="1.0"/>
<line x1="583.55" y1="582.7" x2="581.3" y2="584" stroke-width="1.0"/>
<ellipse cx="578" cy="578.28" rx="3.81" ry="6.6" stroke-width="1.0" fill="#fff" transform="rotate(150 578 578.28)"/>
<ellipse cx="578" cy="578.28" rx="2.65" ry="4.6" stroke-width="0.7" fill="none" transform="rotate(150 578 578.28)"/>
<ellipse cx="578" cy="578.28" rx="1.73" ry="3" stroke-width="0.9" fill="none" transform="rotate(150 578 578.28)"/>
<ellipse cx="588.69" cy="572.15" rx="2.37" ry="4.1" stroke-width="1.0" fill="#fff" transform="rotate(150 588.69 572.15)"/>
<path d="M586.64 568.6 L585.95 569 L590.05 576.1 L590.74 575.7 Z" fill="#fff" stroke="none"/>
<line x1="586.64" y1="568.6" x2="585.95" y2="569" stroke-width="1.0"/>
<line x1="590.74" y1="575.7" x2="590.05" y2="576.1" stroke-width="1.0"/>
<ellipse cx="588" cy="572.55" rx="2.37" ry="4.1" stroke-width="1.0" fill="#fff" transform="rotate(150 588 572.55)"/>
<ellipse cx="588" cy="572.55" rx="1.21" ry="2.1" stroke-width="0.7" fill="none" transform="rotate(150 588 572.55)"/>
<ellipse cx="601.35" cy="565.58" rx="3.58" ry="6.21" stroke-width="1.0" fill="#fff" transform="rotate(150 601.35 565.58)"/>
<path d="M598.24 560.21 L597.2 560.81 L603.41 571.56 L604.45 570.96 Z" fill="#fff" stroke="none"/>
<line x1="598.24" y1="560.21" x2="597.2" y2="560.81" stroke-width="1.0"/>
<line x1="604.45" y1="570.96" x2="603.41" y2="571.56" stroke-width="1.0"/>
<ellipse cx="600.31" cy="566.18" rx="3.58" ry="6.21" stroke-width="1.0" fill="#fff" transform="rotate(150 600.31 566.18)"/>
<path d="M598.4 561.97 L597.56 565.12 L599.86 569.1 L603 569.94 L603.84 566.8 L601.54 562.82 Z" fill="#fff" stroke-width="1.0"/>
<path d="M598.4 561.97 L594.5 564.22 L593.66 567.37 L597.56 565.12 Z" fill="#fff" stroke="none"/>
<path d="M597.56 565.12 L593.66 567.37 L595.96 571.35 L599.86 569.1 Z" fill="#fff" stroke="none"/>
<path d="M599.86 569.1 L595.96 571.35 L599.1 572.19 L603 569.94 Z" fill="#fff" stroke="none"/>
<path d="M603 569.94 L599.1 572.19 L599.94 569.05 L603.84 566.8 Z" fill="#fff" stroke="none"/>
<path d="M603.84 566.8 L599.94 569.05 L597.64 565.07 L601.54 562.82 Z" fill="#fff" stroke="none"/>
<path d="M601.54 562.82 L597.64 565.07 L594.5 564.22 L598.4 561.97 Z" fill="#fff" stroke="none"/>
<line x1="598.4" y1="561.97" x2="594.5" y2="564.22" stroke-width="0.7"/>
<line x1="597.56" y1="565.12" x2="593.66" y2="567.37" stroke-width="0.7"/>
<line x1="599.86" y1="569.1" x2="595.96" y2="571.35" stroke-width="0.7"/>
<line x1="603" y1="569.94" x2="599.1" y2="572.19" stroke-width="0.7"/>
<line x1="603.84" y1="566.8" x2="599.94" y2="569.05" stroke-width="0.7"/>
<line x1="601.54" y1="562.82" x2="597.64" y2="565.07" stroke-width="0.7"/>
<path d="M594.5 564.22 L593.66 567.37 L595.96 571.35 L599.1 572.19 L599.94 569.05 L597.64 565.07 Z" fill="#fff" stroke-width="1.0"/>
<ellipse cx="596.8" cy="568.21" rx="1.46" ry="2.53" stroke-width="0.7" fill="none" transform="rotate(150 596.8 568.21)"/>
<ellipse cx="596.8" cy="568.21" rx="0.8" ry="1.38" stroke-width="0.7" fill="none" transform="rotate(150 596.8 568.21)"/>
<ellipse cx="619.75" cy="597.31" rx="3.81" ry="6.6" stroke-width="1.0" fill="#fff" transform="rotate(150 619.75 597.31)"/>
<path d="M616.45 591.59 L614.2 592.89 L620.8 604.32 L623.05 603.02 Z" fill="#fff" stroke="none"/>
<line x1="616.45" y1="591.59" x2="614.2" y2="592.89" stroke-width="1.0"/>
<line x1="623.05" y1="603.02" x2="620.8" y2="604.32" stroke-width="1.0"/>
<ellipse cx="617.5" cy="598.61" rx="3.81" ry="6.6" stroke-width="1.0" fill="#fff" transform="rotate(150 617.5 598.61)"/>
<ellipse cx="617.5" cy="598.61" rx="2.65" ry="4.6" stroke-width="0.7" fill="none" transform="rotate(150 617.5 598.61)"/>
<ellipse cx="617.5" cy="598.61" rx="1.73" ry="3" stroke-width="0.9" fill="none" transform="rotate(150 617.5 598.61)"/>
<ellipse cx="628.69" cy="592.58" rx="2.37" ry="4.1" stroke-width="1.0" fill="#fff" transform="rotate(150 628.69 592.58)"/>
<path d="M626.64 589.03 L625.95 589.43 L630.05 596.53 L630.74 596.13 Z" fill="#fff" stroke="none"/>
<line x1="626.64" y1="589.03" x2="625.95" y2="589.43" stroke-width="1.0"/>
<line x1="630.74" y1="596.13" x2="630.05" y2="596.53" stroke-width="1.0"/>
<ellipse cx="628" cy="592.98" rx="2.37" ry="4.1" stroke-width="1.0" fill="#fff" transform="rotate(150 628 592.98)"/>
<ellipse cx="628" cy="592.98" rx="1.21" ry="2.1" stroke-width="0.7" fill="none" transform="rotate(150 628 592.98)"/>
<ellipse cx="641.15" cy="585.42" rx="3.58" ry="6.21" stroke-width="1.0" fill="#fff" transform="rotate(150 641.15 585.42)"/>
<path d="M638.04 580.04 L637 580.64 L643.21 591.4 L644.25 590.8 Z" fill="#fff" stroke="none"/>
<line x1="638.04" y1="580.04" x2="637" y2="580.64" stroke-width="1.0"/>
<line x1="644.25" y1="590.8" x2="643.21" y2="591.4" stroke-width="1.0"/>
<ellipse cx="640.11" cy="586.02" rx="3.58" ry="6.21" stroke-width="1.0" fill="#fff" transform="rotate(150 640.11 586.02)"/>
<path d="M638.2 581.81 L637.36 584.95 L639.66 588.93 L642.8 589.78 L643.64 586.64 L641.34 582.65 Z" fill="#fff" stroke-width="1.0"/>
<path d="M638.2 581.81 L634.3 584.06 L633.46 587.2 L637.36 584.95 Z" fill="#fff" stroke="none"/>
<path d="M637.36 584.95 L633.46 587.2 L635.76 591.18 L639.66 588.93 Z" fill="#fff" stroke="none"/>
<path d="M639.66 588.93 L635.76 591.18 L638.9 592.03 L642.8 589.78 Z" fill="#fff" stroke="none"/>
<path d="M642.8 589.78 L638.9 592.03 L639.74 588.89 L643.64 586.64 Z" fill="#fff" stroke="none"/>
<path d="M643.64 586.64 L639.74 588.89 L637.44 584.9 L641.34 582.65 Z" fill="#fff" stroke="none"/>
<path d="M641.34 582.65 L637.44 584.9 L634.3 584.06 L638.2 581.81 Z" fill="#fff" stroke="none"/>
<line x1="638.2" y1="581.81" x2="634.3" y2="584.06" stroke-width="0.7"/>
<line x1="637.36" y1="584.95" x2="633.46" y2="587.2" stroke-width="0.7"/>
<line x1="639.66" y1="588.93" x2="635.76" y2="591.18" stroke-width="0.7"/>
<line x1="642.8" y1="589.78" x2="638.9" y2="592.03" stroke-width="0.7"/>
<line x1="643.64" y1="586.64" x2="639.74" y2="588.89" stroke-width="0.7"/>
<line x1="641.34" y1="582.65" x2="637.44" y2="584.9" stroke-width="0.7"/>
<path d="M634.3 584.06 L633.46 587.2 L635.76 591.18 L638.9 592.03 L639.74 588.89 L637.44 584.9 Z" fill="#fff" stroke-width="1.0"/>
<ellipse cx="636.6" cy="588.04" rx="1.46" ry="2.53" stroke-width="0.7" fill="none" transform="rotate(150 636.6 588.04)"/>
<ellipse cx="636.6" cy="588.04" rx="0.8" ry="1.38" stroke-width="0.7" fill="none" transform="rotate(150 636.6 588.04)"/>
<ellipse cx="406.25" cy="677.02" rx="3.81" ry="6.6" stroke-width="1.0" fill="#fff" transform="rotate(150 406.25 677.02)"/>
<path d="M402.95 671.31 L400.7 672.61 L407.3 684.04 L409.55 682.74 Z" fill="#fff" stroke="none"/>
<line x1="402.95" y1="671.31" x2="400.7" y2="672.61" stroke-width="1.0"/>
<line x1="409.55" y1="682.74" x2="407.3" y2="684.04" stroke-width="1.0"/>
<ellipse cx="404" cy="678.32" rx="3.81" ry="6.6" stroke-width="1.0" fill="#fff" transform="rotate(150 404 678.32)"/>
<ellipse cx="404" cy="678.32" rx="2.65" ry="4.6" stroke-width="0.7" fill="none" transform="rotate(150 404 678.32)"/>
<ellipse cx="404" cy="678.32" rx="1.73" ry="3" stroke-width="0.9" fill="none" transform="rotate(150 404 678.32)"/>
<ellipse cx="395.09" cy="683.51" rx="2.37" ry="4.1" stroke-width="1.0" fill="#fff" transform="rotate(150 395.09 683.51)"/>
<path d="M393.04 679.96 L392.35 680.36 L396.45 687.46 L397.14 687.06 Z" fill="#fff" stroke="none"/>
<line x1="393.04" y1="679.96" x2="392.35" y2="680.36" stroke-width="1.0"/>
<line x1="397.14" y1="687.06" x2="396.45" y2="687.46" stroke-width="1.0"/>
<ellipse cx="394.4" cy="683.91" rx="2.37" ry="4.1" stroke-width="1.0" fill="#fff" transform="rotate(150 394.4 683.91)"/>
<ellipse cx="394.4" cy="683.91" rx="1.21" ry="2.1" stroke-width="0.7" fill="none" transform="rotate(150 394.4 683.91)"/>
<ellipse cx="444.65" cy="699.02" rx="3.81" ry="6.6" stroke-width="1.0" fill="#fff" transform="rotate(150 444.65 699.02)"/>
<path d="M441.35 693.3 L439.1 694.6 L445.7 706.03 L447.95 704.73 Z" fill="#fff" stroke="none"/>
<line x1="441.35" y1="693.3" x2="439.1" y2="694.6" stroke-width="1.0"/>
<line x1="447.95" y1="704.73" x2="445.7" y2="706.03" stroke-width="1.0"/>
<ellipse cx="442.4" cy="700.32" rx="3.81" ry="6.6" stroke-width="1.0" fill="#fff" transform="rotate(150 442.4 700.32)"/>
<ellipse cx="442.4" cy="700.32" rx="2.65" ry="4.6" stroke-width="0.7" fill="none" transform="rotate(150 442.4 700.32)"/>
<ellipse cx="442.4" cy="700.32" rx="1.73" ry="3" stroke-width="0.9" fill="none" transform="rotate(150 442.4 700.32)"/>
<ellipse cx="434.09" cy="705.24" rx="2.37" ry="4.1" stroke-width="1.0" fill="#fff" transform="rotate(150 434.09 705.24)"/>
<path d="M432.04 701.69 L431.35 702.09 L435.45 709.19 L436.14 708.79 Z" fill="#fff" stroke="none"/>
<line x1="432.04" y1="701.69" x2="431.35" y2="702.09" stroke-width="1.0"/>
<line x1="436.14" y1="708.79" x2="435.45" y2="709.19" stroke-width="1.0"/>
<ellipse cx="433.4" cy="705.64" rx="2.37" ry="4.1" stroke-width="1.0" fill="#fff" transform="rotate(150 433.4 705.64)"/>
<ellipse cx="433.4" cy="705.64" rx="1.21" ry="2.1" stroke-width="0.7" fill="none" transform="rotate(150 433.4 705.64)"/>
<ellipse cx="434.65" cy="660.98" rx="2.48" ry="4.3" stroke-width="1.0" fill="#fff" transform="rotate(150 434.65 660.98)"/>
<path d="M432.5 657.25 L412.15 669 L416.45 676.45 L436.8 664.7 Z" fill="#fff" stroke="none"/>
<line x1="432.5" y1="657.25" x2="412.15" y2="669" stroke-width="1.0"/>
<line x1="436.8" y1="664.7" x2="416.45" y2="676.45" stroke-width="1.0"/>
<ellipse cx="414.3" cy="672.73" rx="2.48" ry="4.3" stroke-width="1.0" fill="#fff" transform="rotate(150 414.3 672.73)"/>
<ellipse cx="414.3" cy="672.73" rx="1.67" ry="2.9" stroke-width="0.7" fill="none" transform="rotate(150 414.3 672.73)"/>
<ellipse cx="472.65" cy="682.7" rx="2.48" ry="4.3" stroke-width="1.0" fill="#fff" transform="rotate(150 472.65 682.7)"/>
<path d="M470.5 678.98 L450.15 690.73 L454.45 698.18 L474.8 686.43 Z" fill="#fff" stroke="none"/>
<line x1="470.5" y1="678.98" x2="450.15" y2="690.73" stroke-width="1.0"/>
<line x1="474.8" y1="686.43" x2="454.45" y2="698.18" stroke-width="1.0"/>
<ellipse cx="452.3" cy="694.45" rx="2.48" ry="4.3" stroke-width="1.0" fill="#fff" transform="rotate(150 452.3 694.45)"/>
<ellipse cx="452.3" cy="694.45" rx="1.67" ry="2.9" stroke-width="0.7" fill="none" transform="rotate(150 452.3 694.45)"/>
<ellipse cx="384.35" cy="691.09" rx="1.38" ry="2.4" stroke-width="1.0" fill="#fff" transform="rotate(150 384.35 691.09)"/>
<path d="M383.15 689.01 L356.3 704.51 L358.7 708.66 L385.55 693.16 Z" fill="#fff" stroke="none"/>
<line x1="383.15" y1="689.01" x2="356.3" y2="704.51" stroke-width="1.0"/>
<line x1="385.55" y1="693.16" x2="358.7" y2="708.66" stroke-width="1.0"/>
<path d="M384.51 693.76 L384.31 693.85 L384.08 693.88 L383.83 693.85 L383.57 693.77 L383.31 693.64 L383.04 693.47 L382.78 693.25 L382.54 692.99 L382.31 692.69 L382.11 692.38 L381.94 692.04 L381.8 691.7 L381.69 691.36 L381.63 691.02 L381.61 690.7 L381.63 690.41 L381.69 690.15 L381.8 689.92 L381.93 689.74 L382.11 689.61" stroke-width="0.85" fill="none"/>
<path d="M383.21 694.51 L383.01 694.6 L382.78 694.63 L382.53 694.6 L382.27 694.52 L382.01 694.39 L381.74 694.22 L381.48 694 L381.24 693.74 L381.01 693.44 L380.81 693.13 L380.64 692.79 L380.5 692.45 L380.4 692.11 L380.33 691.77 L380.31 691.45 L380.33 691.16 L380.39 690.9 L380.5 690.67 L380.64 690.49 L380.81 690.36" stroke-width="0.85" fill="none"/>
<path d="M381.91 695.26 L381.71 695.35 L381.48 695.38 L381.23 695.35 L380.98 695.27 L380.71 695.14 L380.44 694.97 L380.19 694.75 L379.94 694.49 L379.71 694.19 L379.51 693.88 L379.34 693.54 L379.2 693.2 L379.1 692.86 L379.03 692.52 L379.01 692.2 L379.03 691.91 L379.1 691.65 L379.2 691.42 L379.34 691.24 L379.51 691.11" stroke-width="0.85" fill="none"/>
<path d="M380.61 696.01 L380.41 696.1 L380.18 696.13 L379.94 696.1 L379.68 696.02 L379.41 695.89 L379.15 695.72 L378.89 695.5 L378.64 695.24 L378.41 694.94 L378.21 694.63 L378.04 694.29 L377.9 693.95 L377.8 693.61 L377.73 693.27 L377.71 692.95 L377.73 692.66 L377.8 692.4 L377.9 692.17 L378.04 691.99 L378.21 691.86" stroke-width="0.85" fill="none"/>
<path d="M379.31 696.76 L379.11 696.85 L378.88 696.88 L378.64 696.85 L378.38 696.77 L378.11 696.64 L377.85 696.47 L377.59 696.25 L377.34 695.99 L377.11 695.69 L376.91 695.38 L376.74 695.04 L376.6 694.7 L376.5 694.36 L376.44 694.02 L376.41 693.7 L376.44 693.41 L376.5 693.15 L376.6 692.92 L376.74 692.74 L376.91 692.61" stroke-width="0.85" fill="none"/>
<path d="M378.01 697.51 L377.81 697.6 L377.58 697.63 L377.34 697.6 L377.08 697.52 L376.81 697.39 L376.55 697.22 L376.29 697 L376.04 696.74 L375.82 696.44 L375.61 696.13 L375.44 695.79 L375.3 695.45 L375.2 695.11 L375.14 694.77 L375.12 694.45 L375.14 694.16 L375.2 693.9 L375.3 693.67 L375.44 693.49 L375.61 693.36" stroke-width="0.85" fill="none"/>
<path d="M376.71 698.26 L376.51 698.35 L376.28 698.38 L376.04 698.35 L375.78 698.27 L375.51 698.14 L375.25 697.97 L374.99 697.75 L374.74 697.49 L374.52 697.19 L374.31 696.88 L374.14 696.54 L374 696.2 L373.9 695.86 L373.84 695.52 L373.82 695.2 L373.84 694.91 L373.9 694.65 L374 694.42 L374.14 694.24 L374.31 694.11" stroke-width="0.85" fill="none"/>
<path d="M375.41 699.01 L375.21 699.1 L374.98 699.13 L374.74 699.1 L374.48 699.02 L374.21 698.89 L373.95 698.72 L373.69 698.5 L373.44 698.24 L373.22 697.94 L373.02 697.63 L372.84 697.29 L372.7 696.95 L372.6 696.61 L372.54 696.27 L372.52 695.95 L372.54 695.66 L372.6 695.4 L372.7 695.17 L372.84 694.99 L373.01 694.86" stroke-width="0.85" fill="none"/>
<path d="M374.12 699.76 L373.91 699.85 L373.69 699.88 L373.44 699.85 L373.18 699.77 L372.92 699.64 L372.65 699.47 L372.39 699.25 L372.15 698.99 L371.92 698.69 L371.72 698.38 L371.54 698.04 L371.4 697.7 L371.3 697.36 L371.24 697.02 L371.22 696.7 L371.24 696.41 L371.3 696.15 L371.4 695.92 L371.54 695.74 L371.72 695.61" stroke-width="0.85" fill="none"/>
<ellipse cx="361.48" cy="704.28" rx="3.46" ry="6" stroke-width="1.0" fill="#fff" transform="rotate(150 361.48 704.28)"/>
<path d="M358.48 699.09 L357.27 699.79 L363.27 710.18 L364.48 709.48 Z" fill="#fff" stroke="none"/>
<line x1="358.48" y1="699.09" x2="357.27" y2="699.79" stroke-width="1.0"/>
<line x1="364.48" y1="709.48" x2="363.27" y2="710.18" stroke-width="1.0"/>
<ellipse cx="360.27" cy="704.99" rx="3.46" ry="6" stroke-width="1.0" fill="#fff" transform="rotate(150 360.27 704.99)"/>
<path d="M358.12 701.26 L357.34 704.2 L359.49 707.92 L362.42 708.71 L363.21 705.77 L361.06 702.05 Z" fill="#fff" stroke-width="1.0"/>
<path d="M358.12 701.26 L355.35 702.86 L354.56 705.8 L357.34 704.2 Z" fill="#fff" stroke="none"/>
<path d="M357.34 704.2 L354.56 705.8 L356.71 709.52 L359.49 707.92 Z" fill="#fff" stroke="none"/>
<path d="M359.49 707.92 L356.71 709.52 L359.65 710.31 L362.42 708.71 Z" fill="#fff" stroke="none"/>
<path d="M362.42 708.71 L359.65 710.31 L360.44 707.37 L363.21 705.77 Z" fill="#fff" stroke="none"/>
<path d="M363.21 705.77 L360.44 707.37 L358.29 703.65 L361.06 702.05 Z" fill="#fff" stroke="none"/>
<path d="M361.06 702.05 L358.29 703.65 L355.35 702.86 L358.12 701.26 Z" fill="#fff" stroke="none"/>
<line x1="358.12" y1="701.26" x2="355.35" y2="702.86" stroke-width="0.7"/>
<line x1="357.34" y1="704.2" x2="354.56" y2="705.8" stroke-width="0.7"/>
<line x1="359.49" y1="707.92" x2="356.71" y2="709.52" stroke-width="0.7"/>
<line x1="362.42" y1="708.71" x2="359.65" y2="710.31" stroke-width="0.7"/>
<line x1="363.21" y1="705.77" x2="360.44" y2="707.37" stroke-width="0.7"/>
<line x1="361.06" y1="702.05" x2="358.29" y2="703.65" stroke-width="0.7"/>
<path d="M355.35 702.86 L354.56 705.8 L356.71 709.52 L359.65 710.31 L360.44 707.37 L358.29 703.65 Z" fill="#fff" stroke-width="1.0"/>
<ellipse cx="357.5" cy="706.59" rx="1.36" ry="2.37" stroke-width="0.7" fill="none" transform="rotate(150 357.5 706.59)"/>
<ellipse cx="357.5" cy="706.59" rx="0.74" ry="1.29" stroke-width="0.7" fill="none" transform="rotate(150 357.5 706.59)"/>
<ellipse cx="422.05" cy="712.96" rx="1.38" ry="2.4" stroke-width="1.0" fill="#fff" transform="rotate(150 422.05 712.96)"/>
<path d="M420.85 710.88 L394 726.38 L396.4 730.54 L423.25 715.04 Z" fill="#fff" stroke="none"/>
<line x1="420.85" y1="710.88" x2="394" y2="726.38" stroke-width="1.0"/>
<line x1="423.25" y1="715.04" x2="396.4" y2="730.54" stroke-width="1.0"/>
<path d="M422.21 715.64 L422.01 715.72 L421.78 715.75 L421.53 715.72 L421.27 715.65 L421.01 715.52 L420.74 715.34 L420.48 715.12 L420.24 714.86 L420.01 714.57 L419.81 714.25 L419.64 713.92 L419.5 713.57 L419.39 713.23 L419.33 712.9 L419.31 712.58 L419.33 712.28 L419.39 712.02 L419.5 711.79 L419.63 711.61 L419.81 711.48" stroke-width="0.85" fill="none"/>
<path d="M420.91 716.39 L420.71 716.47 L420.48 716.5 L420.23 716.47 L419.97 716.4 L419.71 716.27 L419.44 716.09 L419.18 715.87 L418.94 715.61 L418.71 715.32 L418.51 715 L418.34 714.67 L418.2 714.32 L418.1 713.98 L418.03 713.65 L418.01 713.33 L418.03 713.03 L418.09 712.77 L418.2 712.54 L418.34 712.36 L418.51 712.23" stroke-width="0.85" fill="none"/>
<path d="M419.61 717.14 L419.41 717.22 L419.18 717.25 L418.93 717.22 L418.68 717.15 L418.41 717.02 L418.14 716.84 L417.89 716.62 L417.64 716.36 L417.41 716.07 L417.21 715.75 L417.04 715.42 L416.9 715.07 L416.8 714.73 L416.73 714.4 L416.71 714.08 L416.73 713.78 L416.8 713.52 L416.9 713.29 L417.04 713.11 L417.21 712.98" stroke-width="0.85" fill="none"/>
<path d="M418.31 717.89 L418.11 717.97 L417.88 718 L417.64 717.97 L417.38 717.9 L417.11 717.77 L416.85 717.59 L416.59 717.37 L416.34 717.11 L416.11 716.82 L415.91 716.5 L415.74 716.17 L415.6 715.82 L415.5 715.48 L415.43 715.15 L415.41 714.83 L415.43 714.53 L415.5 714.27 L415.6 714.04 L415.74 713.86 L415.91 713.73" stroke-width="0.85" fill="none"/>
<path d="M417.01 718.64 L416.81 718.72 L416.58 718.75 L416.34 718.72 L416.08 718.65 L415.81 718.52 L415.55 718.34 L415.29 718.12 L415.04 717.86 L414.81 717.57 L414.61 717.25 L414.44 716.92 L414.3 716.57 L414.2 716.23 L414.14 715.9 L414.11 715.58 L414.14 715.28 L414.2 715.02 L414.3 714.79 L414.44 714.61 L414.61 714.48" stroke-width="0.85" fill="none"/>
<path d="M415.71 719.39 L415.51 719.47 L415.28 719.5 L415.04 719.47 L414.78 719.4 L414.51 719.27 L414.25 719.09 L413.99 718.87 L413.74 718.61 L413.52 718.32 L413.31 718 L413.14 717.67 L413 717.32 L412.9 716.98 L412.84 716.65 L412.82 716.33 L412.84 716.03 L412.9 715.77 L413 715.54 L413.14 715.36 L413.31 715.23" stroke-width="0.85" fill="none"/>
<path d="M414.41 720.14 L414.21 720.22 L413.98 720.25 L413.74 720.22 L413.48 720.15 L413.21 720.02 L412.95 719.84 L412.69 719.62 L412.44 719.36 L412.22 719.07 L412.01 718.75 L411.84 718.42 L411.7 718.07 L411.6 717.73 L411.54 717.4 L411.52 717.08 L411.54 716.78 L411.6 716.52 L411.7 716.29 L411.84 716.11 L412.01 715.98" stroke-width="0.85" fill="none"/>
<path d="M413.11 720.89 L412.91 720.97 L412.68 721 L412.44 720.97 L412.18 720.9 L411.91 720.77 L411.65 720.59 L411.39 720.37 L411.14 720.11 L410.92 719.82 L410.72 719.5 L410.54 719.17 L410.4 718.82 L410.3 718.48 L410.24 718.15 L410.22 717.83 L410.24 717.53 L410.3 717.27 L410.4 717.04 L410.54 716.86 L410.71 716.73" stroke-width="0.85" fill="none"/>
<path d="M411.82 721.64 L411.61 721.72 L411.39 721.75 L411.14 721.72 L410.88 721.65 L410.62 721.52 L410.35 721.34 L410.09 721.12 L409.85 720.86 L409.62 720.57 L409.42 720.25 L409.24 719.92 L409.1 719.57 L409 719.23 L408.94 718.9 L408.92 718.58 L408.94 718.28 L409 718.02 L409.1 717.79 L409.24 717.61 L409.42 717.48" stroke-width="0.85" fill="none"/>
<ellipse cx="399.18" cy="726.16" rx="3.46" ry="6" stroke-width="1.0" fill="#fff" transform="rotate(150 399.18 726.16)"/>
<path d="M396.18 720.96 L394.97 721.66 L400.97 732.05 L402.18 731.35 Z" fill="#fff" stroke="none"/>
<line x1="396.18" y1="720.96" x2="394.97" y2="721.66" stroke-width="1.0"/>
<line x1="402.18" y1="731.35" x2="400.97" y2="732.05" stroke-width="1.0"/>
<ellipse cx="397.97" cy="726.86" rx="3.46" ry="6" stroke-width="1.0" fill="#fff" transform="rotate(150 397.97 726.86)"/>
<path d="M395.82 723.13 L395.04 726.07 L397.19 729.79 L400.12 730.58 L400.91 727.65 L398.76 723.92 Z" fill="#fff" stroke-width="1.0"/>
<path d="M395.82 723.13 L393.05 724.73 L392.26 727.67 L395.04 726.07 Z" fill="#fff" stroke="none"/>
<path d="M395.04 726.07 L392.26 727.67 L394.41 731.39 L397.19 729.79 Z" fill="#fff" stroke="none"/>
<path d="M397.19 729.79 L394.41 731.39 L397.35 732.18 L400.12 730.58 Z" fill="#fff" stroke="none"/>
<path d="M400.12 730.58 L397.35 732.18 L398.14 729.25 L400.91 727.65 Z" fill="#fff" stroke="none"/>
<path d="M400.91 727.65 L398.14 729.25 L395.99 725.52 L398.76 723.92 Z" fill="#fff" stroke="none"/>
<path d="M398.76 723.92 L395.99 725.52 L393.05 724.73 L395.82 723.13 Z" fill="#fff" stroke="none"/>
<line x1="395.82" y1="723.13" x2="393.05" y2="724.73" stroke-width="0.7"/>
<line x1="395.04" y1="726.07" x2="392.26" y2="727.67" stroke-width="0.7"/>
<line x1="397.19" y1="729.79" x2="394.41" y2="731.39" stroke-width="0.7"/>
<line x1="400.12" y1="730.58" x2="397.35" y2="732.18" stroke-width="0.7"/>
<line x1="400.91" y1="727.65" x2="398.14" y2="729.25" stroke-width="0.7"/>
<line x1="398.76" y1="723.92" x2="395.99" y2="725.52" stroke-width="0.7"/>
<path d="M393.05 724.73 L392.26 727.67 L394.41 731.39 L397.35 732.18 L398.14 729.25 L395.99 725.52 Z" fill="#fff" stroke-width="1.0"/>
<ellipse cx="395.2" cy="728.46" rx="1.36" ry="2.37" stroke-width="0.7" fill="none" transform="rotate(150 395.2 728.46)"/>
<ellipse cx="395.2" cy="728.46" rx="0.74" ry="1.29" stroke-width="0.7" fill="none" transform="rotate(150 395.2 728.46)"/>
<ellipse cx="229.94" cy="279.52" rx="1.27" ry="2.2" stroke-width="1.0" fill="#fff" transform="rotate(30 229.94 279.52)"/>
<path d="M228.84 281.43 L234.9 284.93 L237.1 281.11 L231.04 277.61 Z" fill="#fff" stroke="none"/>
<line x1="228.84" y1="281.43" x2="234.9" y2="284.93" stroke-width="1.0"/>
<line x1="231.04" y1="277.61" x2="237.1" y2="281.11" stroke-width="1.0"/>
<ellipse cx="236" cy="283.02" rx="1.27" ry="2.2" stroke-width="1.0" fill="#fff" transform="rotate(30 236 283.02)"/>
<path d="M235.37 280.11 L235.53 280.24 L235.65 280.4 L235.75 280.61 L235.8 280.85 L235.82 281.12 L235.8 281.41 L235.75 281.72 L235.65 282.03 L235.53 282.35 L235.37 282.65 L235.18 282.94 L234.97 283.21 L234.75 283.45 L234.51 283.65 L234.27 283.82 L234.02 283.93 L233.79 284.01 L233.56 284.03 L233.35 284 L233.17 283.93" stroke-width="0.5" fill="none"/>
<path d="M234.07 279.36 L234.23 279.49 L234.35 279.65 L234.45 279.86 L234.51 280.1 L234.52 280.37 L234.5 280.66 L234.45 280.97 L234.35 281.28 L234.23 281.6 L234.07 281.9 L233.88 282.19 L233.67 282.46 L233.45 282.7 L233.21 282.9 L232.97 283.07 L232.73 283.18 L232.49 283.26 L232.26 283.28 L232.05 283.25 L231.87 283.18" stroke-width="0.5" fill="none"/>
<path d="M232.77 278.61 L232.93 278.74 L233.06 278.9 L233.15 279.11 L233.21 279.35 L233.23 279.62 L233.21 279.91 L233.15 280.22 L233.06 280.53 L232.93 280.85 L232.77 281.15 L232.58 281.44 L232.38 281.71 L232.15 281.95 L231.91 282.15 L231.67 282.32 L231.43 282.43 L231.19 282.51 L230.96 282.53 L230.76 282.5 L230.57 282.43" stroke-width="0.5" fill="none"/>
<ellipse cx="237.47" cy="284.2" rx="2.77" ry="4.8" stroke-width="1.0" fill="#fff" transform="rotate(30 237.47 284.2)"/>
<path d="M235.07 288.36 L244.6 293.86 L249.4 285.54 L239.87 280.04 Z" fill="#fff" stroke="none"/>
<line x1="235.07" y1="288.36" x2="244.6" y2="293.86" stroke-width="1.0"/>
<line x1="239.87" y1="280.04" x2="249.4" y2="285.54" stroke-width="1.0"/>
<ellipse cx="247" cy="289.7" rx="2.77" ry="4.8" stroke-width="1.0" fill="#fff" transform="rotate(30 247 289.7)"/>
<line x1="239.39" y1="280.87" x2="248.92" y2="286.37" stroke-width="0.5"/>
<line x1="238.43" y1="282.54" x2="247.96" y2="288.04" stroke-width="0.5"/>
<line x1="237.47" y1="284.2" x2="247" y2="289.7" stroke-width="0.5"/>
<line x1="236.51" y1="285.86" x2="246.04" y2="291.36" stroke-width="0.5"/>
<line x1="235.55" y1="287.53" x2="245.08" y2="293.03" stroke-width="0.5"/>
<ellipse cx="248" cy="290.3" rx="1.96" ry="3.4" stroke-width="1.0" fill="#fff" transform="rotate(30 248 290.3)"/>
<path d="M246.3 293.24 L252.8 296.99 L256.2 291.11 L249.7 287.36 Z" fill="#fff" stroke="none"/>
<line x1="246.3" y1="293.24" x2="252.8" y2="296.99" stroke-width="1.0"/>
<line x1="249.7" y1="287.36" x2="256.2" y2="291.11" stroke-width="1.0"/>
<ellipse cx="254.5" cy="294.05" rx="1.96" ry="3.4" stroke-width="1.0" fill="#fff" transform="rotate(30 254.5 294.05)"/>
<ellipse cx="260.8" cy="298.25" rx="6.23" ry="10.8" stroke-width="1.0" fill="#fff" transform="rotate(30 260.8 298.25)"/>
<path d="M255.4 307.6 L261 312.91 L273.6 291.09 L266.2 288.9 Z" fill="#fff" stroke="none"/>
<line x1="255.4" y1="307.6" x2="261" y2="312.91" stroke-width="1.0"/>
<line x1="266.2" y1="288.9" x2="273.6" y2="291.09" stroke-width="1.0"/>
<ellipse cx="267.3" cy="302" rx="7.27" ry="12.6" stroke-width="1.0" fill="#fff" transform="rotate(30 267.3 302)"/>
<path d="M257.75 310.81 L257.11 309.95 L256.63 308.91 L256.3 307.71 L256.15 306.38 L256.18 304.93 L256.37 303.4 L256.73 301.82 L257.26 300.21 L257.94 298.62 L258.75 297.06 L259.69 295.58 L260.73 294.2 L261.86 292.94 L263.05 291.83 L264.27 290.9 L265.52 290.16 L266.75 289.62 L267.95 289.3 L269.09 289.2 L270.16 289.32" stroke-width="0.7" fill="none"/>
<ellipse cx="267.6" cy="302.17" rx="5.65" ry="9.8" stroke-width="0.8" fill="none" transform="rotate(30 267.6 302.17)"/>
<ellipse cx="267.9" cy="302.35" rx="4.04" ry="7" stroke-width="0.8" fill="none" transform="rotate(30 267.9 302.35)"/>
<ellipse cx="268.2" cy="302.52" rx="2.48" ry="4.3" stroke-width="0.8" fill="none" transform="rotate(30 268.2 302.52)"/>
<ellipse cx="268.4" cy="302.6" rx="1.15" ry="2" stroke-width="0.7" fill="#888" transform="rotate(30 268.4 302.6)"/>
<path d="M279.93 312.67 L279.36 313.07 L278.79 313.35 L278.24 313.5 L277.72 313.51 L277.27 313.38 L276.88 313.12 L276.58 312.73 L276.37 312.24 L276.27 311.64 L276.28 310.98 L276.39 310.27 L276.61 309.53 L276.92 308.8 L277.31 308.09 L277.78 307.44 L278.3 306.86 L278.86 306.38 L279.43 306.02 L280 305.78 L280.54 305.68 L281.04 305.72 L281.47 305.89 L281.83 306.19 L282.1 306.62 L282.27 307.15 L282.34 307.77 L282.3 308.45 L282.15 309.18 L281.9 309.92 L281.56 310.64" stroke-width="0.8" fill="none"/>
<path d="M279.74 311.74 L279.34 312.02 L278.95 312.22 L278.56 312.32 L278.2 312.33 L277.88 312.24 L277.61 312.06 L277.4 311.79 L277.26 311.44 L277.19 311.03 L277.19 310.56 L277.27 310.06 L277.42 309.55 L277.64 309.04 L277.91 308.55 L278.24 308.09 L278.6 307.69 L278.99 307.36 L279.39 307.1 L279.78 306.94 L280.16 306.86 L280.51 306.89 L280.82 307.01 L281.07 307.22 L281.26 307.52 L281.37 307.89 L281.42 308.32 L281.39 308.8 L281.29 309.31 L281.11 309.82 L280.88 310.33" stroke-width="0.8" fill="none"/>
<line x1="279.93" y1="312.67" x2="279.74" y2="311.74" stroke-width="0.8"/>
<line x1="281.56" y1="310.64" x2="280.88" y2="310.33" stroke-width="0.8"/>
<ellipse cx="292.75" cy="317.5" rx="8.65" ry="15" stroke-width="1.0" fill="#fff" transform="rotate(30 292.75 317.5)"/>
<path d="M285.25 330.49 L287.5 331.79 L302.5 305.81 L300.25 304.51 Z" fill="#fff" stroke="none"/>
<line x1="285.25" y1="330.49" x2="287.5" y2="331.79" stroke-width="1.0"/>
<line x1="300.25" y1="304.51" x2="302.5" y2="305.81" stroke-width="1.0"/>
<ellipse cx="295" cy="318.8" rx="8.65" ry="15" stroke-width="1.0" fill="#fff" transform="rotate(30 295 318.8)"/>
<ellipse cx="295" cy="318.8" rx="7.9" ry="13.7" stroke-width="0.7" fill="none" transform="rotate(30 295 318.8)"/>
<g transform="translate(291.62 307.65) rotate(-32) scale(1.0)">
<rect x="-5.5" y="-1.9" width="10.5" height="3.8" stroke-width="0.7" fill="#fff"/>
<line x1="-2.2" y1="-1.9" x2="-2.2" y2="1.9" stroke-width="0.6"/>
<line x1="0.6" y1="-1.9" x2="0.6" y2="1.9" stroke-width="0.6"/>
<line x1="3" y1="-1.9" x2="3" y2="1.9" stroke-width="0.6"/>
<rect x="5" y="-1.2" width="2" height="2.4" stroke-width="0.7" fill="#fff"/>
</g>
<path d="M304.82 340.28 L303.69 339.63 L302.76 338.68 L302.05 337.44 L301.6 335.94 L301.4 334.23 L301.46 332.36 L301.78 330.37 L302.36 328.32 L303.18 326.27 L304.2 324.28 L305.42 322.39 L306.79 320.66 L308.27 319.13 L309.83 317.86 L311.42 316.87 L313 316.19 L314.53 315.83 L315.95 315.82 L317.25 316.15 L318.37 316.81" stroke-width="1.0" fill="none"/>
<path d="M304.85 340.29 L304.01 339.44 L303.36 338.35 L302.9 337.06 L302.65 335.58 L302.61 333.96 L302.78 332.23 L303.15 330.43 L303.73 328.59 L304.49 326.76 L305.42 324.98 L306.5 323.28 L307.7 321.7 L309.01 320.29 L310.38 319.06 L311.8 318.05 L313.22 317.28 L314.62 316.76 L315.97 316.51 L317.24 316.53 L318.39 316.82" stroke-width="0.8" fill="none"/>
<path d="M306.06 340.99 L305.23 340.14 L304.57 339.05 L304.12 337.76 L303.86 336.28 L303.82 334.66 L303.99 332.93 L304.36 331.13 L304.94 329.29 L305.7 327.46 L306.63 325.68 L307.71 323.98 L308.91 322.4 L310.22 320.99 L311.59 319.76 L313.01 318.75 L314.43 317.98 L315.83 317.46 L317.18 317.21 L318.45 317.23 L319.61 317.52" stroke-width="0.8" fill="none"/>
<path d="M315.5 315.1 L316.07 315.55 L316.46 316.28 L316.65 317.3 L316.64 318.56 L316.43 320.04 L316.02 321.69 L315.43 323.48 L314.67 325.36 L313.76 327.28 L312.72 329.19 L311.58 331.05 L310.38 332.8 L309.13 334.4 L307.87 335.8 L306.64 336.98 L305.47 337.9 L304.38 338.54 L303.41 338.88 L302.58 338.92 L301.9 338.64" stroke-width="0.95" fill="none"/>
<path d="M318.53 316.85 L319.1 317.3 L319.49 318.03 L319.68 319.05 L319.67 320.31 L319.46 321.79 L319.05 323.44 L318.46 325.23 L317.7 327.11 L316.79 329.03 L315.75 330.94 L314.62 332.8 L313.41 334.55 L312.16 336.15 L310.9 337.55 L309.67 338.73 L308.5 339.65 L307.41 340.29 L306.44 340.63 L305.61 340.67 L304.93 340.39" stroke-width="0.8" fill="none"/>
<path d="M321.56 318.6 L322.13 319.05 L322.52 319.78 L322.71 320.8 L322.7 322.06 L322.49 323.54 L322.08 325.19 L321.49 326.98 L320.73 328.86 L319.82 330.78 L318.78 332.69 L317.65 334.55 L316.44 336.3 L315.19 337.9 L313.94 339.3 L312.71 340.48 L311.53 341.4 L310.44 342.04 L309.47 342.38 L308.64 342.42 L307.97 342.14" stroke-width="0.95" fill="none"/>
<path d="M324.6 320.94 L325.16 321.37 L325.53 322.08 L325.71 323.05 L325.7 324.27 L325.5 325.69 L325.11 327.28 L324.54 329.01 L323.81 330.82 L322.93 332.67 L321.93 334.51 L320.84 336.3 L319.67 337.98 L318.47 339.52 L317.26 340.88 L316.08 342.01 L314.95 342.9 L313.9 343.52 L312.96 343.84 L312.16 343.88 L311.51 343.61" stroke-width="0.8" fill="none"/>
<path d="M327.5 323.53 L328.02 323.94 L328.37 324.6 L328.54 325.52 L328.54 326.66 L328.34 328 L327.98 329.49 L327.44 331.11 L326.76 332.81 L325.93 334.55 L324.99 336.28 L323.97 337.96 L322.87 339.54 L321.74 340.98 L320.61 342.26 L319.5 343.32 L318.44 344.16 L317.45 344.73 L316.57 345.04 L315.82 345.07 L315.21 344.82" stroke-width="0.95" fill="none"/>
<path d="M330.25 326.39 L330.73 326.76 L331.05 327.37 L331.2 328.2 L331.19 329.24 L331.02 330.46 L330.69 331.82 L330.2 333.29 L329.57 334.84 L328.82 336.42 L327.97 338 L327.03 339.52 L326.04 340.97 L325.01 342.28 L323.98 343.44 L322.96 344.41 L322 345.17 L321.1 345.7 L320.3 345.98 L319.62 346 L319.06 345.78" stroke-width="0.8" fill="none"/>
<path d="M332.96 329.34 L333.38 329.66 L333.66 330.21 L333.8 330.95 L333.8 331.88 L333.64 332.97 L333.34 334.18 L332.91 335.5 L332.35 336.88 L331.68 338.29 L330.92 339.7 L330.08 341.06 L329.19 342.35 L328.28 343.52 L327.35 344.56 L326.45 345.43 L325.59 346.1 L324.79 346.57 L324.07 346.82 L323.46 346.85 L322.96 346.65" stroke-width="0.95" fill="none"/>
<path d="M335.66 332.28 L336.03 332.57 L336.28 333.05 L336.41 333.7 L336.4 334.52 L336.26 335.48 L336 336.55 L335.62 337.71 L335.13 338.92 L334.54 340.16 L333.87 341.4 L333.13 342.6 L332.35 343.73 L331.54 344.77 L330.73 345.68 L329.93 346.44 L329.17 347.04 L328.47 347.45 L327.84 347.67 L327.3 347.69 L326.87 347.52" stroke-width="0.8" fill="none"/>
<path d="M338.1 335.08 L338.42 335.33 L338.64 335.74 L338.75 336.31 L338.74 337.01 L338.62 337.84 L338.4 338.76 L338.07 339.76 L337.64 340.81 L337.13 341.89 L336.55 342.95 L335.92 343.99 L335.24 344.97 L334.55 345.86 L333.85 346.65 L333.16 347.31 L332.5 347.82 L331.89 348.18 L331.35 348.37 L330.88 348.39 L330.51 348.23" stroke-width="0.95" fill="none"/>
<path d="M340.21 337.45 L340.49 337.67 L340.68 338.02 L340.77 338.52 L340.77 339.13 L340.66 339.84 L340.47 340.65 L340.18 341.52 L339.81 342.43 L339.37 343.36 L338.87 344.29 L338.32 345.19 L337.73 346.04 L337.12 346.81 L336.51 347.5 L335.92 348.07 L335.35 348.52 L334.82 348.83 L334.35 348.99 L333.94 349.01 L333.62 348.87" stroke-width="0.8" fill="none"/>
<path d="M304.2 339.98 L308.1 342.23 L311.64 343.69 L315.33 344.9 L319.17 345.85 L323.06 346.71 L326.95 347.57 L330.58 348.28 L333.68 348.92" stroke-width="0.7" fill="none"/>
<path d="M317.8 316.42 L321.7 318.67 L324.74 321.01 L327.63 323.6 L330.37 326.45 L333.06 329.39 L335.75 332.33 L338.18 335.12 L340.28 337.48" stroke-width="0.7" fill="none"/>
<ellipse cx="336.11" cy="342.7" rx="3.23" ry="5.6" stroke-width="1.0" fill="#fff" transform="rotate(30 336.11 342.7)"/>
<path d="M333.31 347.55 L338.94 350.8 L344.54 341.1 L338.91 337.85 Z" fill="#fff" stroke="none"/>
<line x1="333.31" y1="347.55" x2="338.94" y2="350.8" stroke-width="1.0"/>
<line x1="338.91" y1="337.85" x2="344.54" y2="341.1" stroke-width="1.0"/>
<ellipse cx="341.74" cy="345.95" rx="3.23" ry="5.6" stroke-width="1.0" fill="#fff" transform="rotate(30 341.74 345.95)"/>
<path d="M337.67 350.04 L337.33 349.69 L337.06 349.24 L336.87 348.71 L336.77 348.1 L336.75 347.44 L336.82 346.72 L336.97 345.98 L337.21 345.22 L337.52 344.47 L337.91 343.73 L338.35 343.04 L338.85 342.39 L339.38 341.8 L339.95 341.3 L340.53 340.88 L341.12 340.56 L341.7 340.35 L342.25 340.25 L342.77 340.26 L343.25 340.38" stroke-width="0.6" fill="none"/>
<path d="M336.63 349.44 L336.29 349.09 L336.02 348.64 L335.83 348.11 L335.73 347.5 L335.71 346.84 L335.78 346.12 L335.93 345.38 L336.17 344.62 L336.48 343.87 L336.87 343.13 L337.31 342.44 L337.81 341.79 L338.35 341.2 L338.91 340.7 L339.49 340.28 L340.08 339.96 L340.66 339.75 L341.21 339.65 L341.73 339.66 L342.21 339.78" stroke-width="0.6" fill="none"/>
<path d="M335.59 348.84 L335.25 348.49 L334.98 348.04 L334.79 347.51 L334.69 346.9 L334.67 346.24 L334.74 345.52 L334.9 344.78 L335.13 344.02 L335.44 343.27 L335.83 342.53 L336.27 341.84 L336.77 341.19 L337.31 340.6 L337.87 340.1 L338.45 339.68 L339.04 339.36 L339.62 339.15 L340.17 339.05 L340.7 339.06 L341.17 339.18" stroke-width="0.6" fill="none"/>
<ellipse cx="341.74" cy="345.95" rx="2.25" ry="3.9" stroke-width="0.7" fill="#bbb" transform="rotate(30 341.74 345.95)"/>
<ellipse cx="342.18" cy="346.2" rx="1.56" ry="2.7" stroke-width="0.7" fill="#fff" transform="rotate(30 342.18 346.2)"/>
<ellipse cx="348.88" cy="348.2" rx="4.39" ry="7.6" stroke-width="1.0" fill="#fff" transform="rotate(30 348.88 348.2)"/>
<path d="M345.08 354.78 L347.5 356.18 L355.1 343.02 L352.68 341.62 Z" fill="#fff" stroke="none"/>
<line x1="345.08" y1="354.78" x2="347.5" y2="356.18" stroke-width="1.0"/>
<line x1="352.68" y1="341.62" x2="355.1" y2="343.02" stroke-width="1.0"/>
<ellipse cx="351.3" cy="349.6" rx="4.39" ry="7.6" stroke-width="1.0" fill="#fff" transform="rotate(30 351.3 349.6)"/>
<ellipse cx="351.3" cy="349.6" rx="3.64" ry="6.3" stroke-width="0.7" fill="none" transform="rotate(30 351.3 349.6)"/>
<g transform="translate(349.09 343.65) rotate(-32) scale(0.62)">
<rect x="-5.5" y="-1.9" width="10.5" height="3.8" stroke-width="0.7" fill="#fff"/>
<line x1="-2.2" y1="-1.9" x2="-2.2" y2="1.9" stroke-width="0.6"/>
<line x1="0.6" y1="-1.9" x2="0.6" y2="1.9" stroke-width="0.6"/>
<line x1="3" y1="-1.9" x2="3" y2="1.9" stroke-width="0.6"/>
<rect x="5" y="-1.2" width="2" height="2.4" stroke-width="0.7" fill="#fff"/>
</g>
<ellipse cx="365.87" cy="359.8" rx="2.02" ry="3.5" stroke-width="1.0" fill="#fff" transform="rotate(30 365.87 359.8)"/>
<path d="M364.12 362.83 L460.25 418.33 L463.75 412.27 L367.62 356.77 Z" fill="#fff" stroke="none"/>
<line x1="364.12" y1="362.83" x2="460.25" y2="418.33" stroke-width="1.0"/>
<line x1="367.62" y1="356.77" x2="463.75" y2="412.27" stroke-width="1.0"/>
<ellipse cx="462" cy="415.3" rx="2.02" ry="3.5" stroke-width="1.0" fill="#fff" transform="rotate(30 462 415.3)"/>
<ellipse cx="360.37" cy="356.37" rx="1.67" ry="2.9" stroke-width="1.0" fill="#fff" transform="rotate(30 360.37 356.37)"/>
<path d="M358.92 358.88 L364.55 362.13 L367.45 357.11 L361.82 353.86 Z" fill="#fff" stroke="none"/>
<line x1="358.92" y1="358.88" x2="364.55" y2="362.13" stroke-width="1.0"/>
<line x1="361.82" y1="353.86" x2="367.45" y2="357.11" stroke-width="1.0"/>
<ellipse cx="366" cy="359.62" rx="1.67" ry="2.9" stroke-width="1.0" fill="#fff" transform="rotate(30 366 359.62)"/>
<path d="M366.15 356.36 L366.36 356.52 L366.53 356.74 L366.65 357.01 L366.73 357.33 L366.75 357.69 L366.73 358.07 L366.65 358.48 L366.53 358.89 L366.36 359.3 L366.15 359.71 L365.91 360.09 L365.63 360.44 L365.33 360.76 L365.02 361.02 L364.7 361.24 L364.38 361.39 L364.07 361.49 L363.77 361.52 L363.5 361.48 L363.25 361.38" stroke-width="0.5" fill="none"/>
<path d="M364.85 355.61 L365.06 355.77 L365.23 355.99 L365.35 356.26 L365.43 356.58 L365.45 356.94 L365.43 357.32 L365.35 357.73 L365.23 358.14 L365.06 358.55 L364.85 358.96 L364.61 359.34 L364.33 359.69 L364.03 360.01 L363.72 360.27 L363.4 360.49 L363.08 360.64 L362.77 360.74 L362.47 360.77 L362.2 360.73 L361.95 360.63" stroke-width="0.5" fill="none"/>
<path d="M363.55 354.86 L363.76 355.02 L363.93 355.24 L364.05 355.51 L364.13 355.83 L364.15 356.19 L364.13 356.57 L364.05 356.98 L363.93 357.39 L363.76 357.8 L363.55 358.21 L363.31 358.59 L363.03 358.94 L362.74 359.26 L362.42 359.52 L362.1 359.74 L361.78 359.89 L361.47 359.99 L361.17 360.02 L360.9 359.98 L360.65 359.88" stroke-width="0.5" fill="none"/>
<ellipse cx="380.21" cy="367.88" rx="2.25" ry="3.9" stroke-width="1.0" fill="#fff" transform="rotate(30 380.21 367.88)"/>
<path d="M378.26 371.26 L386.05 375.76 L389.95 369 L382.16 364.5 Z" fill="#fff" stroke="none"/>
<line x1="378.26" y1="371.26" x2="386.05" y2="375.76" stroke-width="1.0"/>
<line x1="382.16" y1="364.5" x2="389.95" y2="369" stroke-width="1.0"/>
<ellipse cx="388" cy="372.38" rx="2.25" ry="3.9" stroke-width="1.0" fill="#fff" transform="rotate(30 388 372.38)"/>
<path d="M388.04 367.9 L388.33 368.12 L388.55 368.42 L388.72 368.78 L388.82 369.21 L388.85 369.69 L388.82 370.21 L388.72 370.75 L388.55 371.31 L388.32 371.86 L388.04 372.41 L387.71 372.92 L387.35 373.39 L386.95 373.82 L386.53 374.18 L386.09 374.46 L385.66 374.67 L385.24 374.8 L384.84 374.84 L384.47 374.79 L384.14 374.66" stroke-width="0.5" fill="none"/>
<path d="M386.14 366.8 L386.42 367.02 L386.65 367.32 L386.81 367.68 L386.91 368.11 L386.95 368.59 L386.91 369.11 L386.81 369.65 L386.65 370.21 L386.42 370.76 L386.14 371.31 L385.81 371.82 L385.44 372.29 L385.04 372.72 L384.62 373.08 L384.19 373.36 L383.76 373.57 L383.34 373.7 L382.94 373.74 L382.57 373.69 L382.24 373.56" stroke-width="0.5" fill="none"/>
<path d="M384.23 365.7 L384.52 365.92 L384.74 366.22 L384.91 366.58 L385.01 367.01 L385.04 367.49 L385.01 368.01 L384.91 368.55 L384.74 369.11 L384.51 369.66 L384.23 370.21 L383.9 370.72 L383.54 371.19 L383.14 371.62 L382.71 371.98 L382.28 372.26 L381.85 372.47 L381.43 372.6 L381.03 372.64 L380.66 372.59 L380.33 372.46" stroke-width="0.5" fill="none"/>
<line x1="381.77" y1="365.18" x2="389.56" y2="369.68" stroke-width="0.5"/>
<line x1="380.73" y1="366.98" x2="388.52" y2="371.48" stroke-width="0.5"/>
<line x1="379.69" y1="368.78" x2="387.48" y2="373.28" stroke-width="0.5"/>
<line x1="378.65" y1="370.58" x2="386.44" y2="375.08" stroke-width="0.5"/>
<ellipse cx="440.71" cy="402.97" rx="2.25" ry="3.9" stroke-width="1.0" fill="#fff" transform="rotate(30 440.71 402.97)"/>
<path d="M438.76 406.35 L446.55 410.85 L450.45 404.09 L442.66 399.59 Z" fill="#fff" stroke="none"/>
<line x1="438.76" y1="406.35" x2="446.55" y2="410.85" stroke-width="1.0"/>
<line x1="442.66" y1="399.59" x2="450.45" y2="404.09" stroke-width="1.0"/>
<ellipse cx="448.5" cy="407.47" rx="2.25" ry="3.9" stroke-width="1.0" fill="#fff" transform="rotate(30 448.5 407.47)"/>
<path d="M448.54 402.99 L448.83 403.21 L449.05 403.51 L449.22 403.87 L449.32 404.3 L449.35 404.78 L449.32 405.3 L449.22 405.84 L449.05 406.4 L448.82 406.95 L448.54 407.5 L448.21 408.01 L447.85 408.48 L447.45 408.91 L447.03 409.27 L446.59 409.55 L446.16 409.76 L445.74 409.89 L445.34 409.93 L444.97 409.88 L444.64 409.75" stroke-width="0.5" fill="none"/>
<path d="M446.64 401.89 L446.92 402.11 L447.15 402.41 L447.31 402.77 L447.41 403.2 L447.45 403.68 L447.41 404.2 L447.31 404.74 L447.15 405.3 L446.92 405.85 L446.64 406.4 L446.31 406.91 L445.94 407.38 L445.54 407.81 L445.12 408.17 L444.69 408.45 L444.26 408.66 L443.84 408.79 L443.44 408.83 L443.07 408.78 L442.74 408.65" stroke-width="0.5" fill="none"/>
<path d="M444.73 400.79 L445.02 401.01 L445.24 401.31 L445.41 401.67 L445.51 402.1 L445.54 402.58 L445.51 403.1 L445.41 403.64 L445.24 404.2 L445.01 404.75 L444.73 405.3 L444.4 405.81 L444.04 406.28 L443.64 406.71 L443.21 407.07 L442.78 407.35 L442.35 407.56 L441.93 407.69 L441.53 407.73 L441.16 407.68 L440.83 407.55" stroke-width="0.5" fill="none"/>
<line x1="442.27" y1="400.27" x2="450.06" y2="404.77" stroke-width="0.5"/>
<line x1="441.23" y1="402.07" x2="449.02" y2="406.57" stroke-width="0.5"/>
<line x1="440.19" y1="403.87" x2="447.98" y2="408.37" stroke-width="0.5"/>
<line x1="439.15" y1="405.67" x2="446.94" y2="410.17" stroke-width="0.5"/>
<ellipse cx="461.94" cy="415.28" rx="2.31" ry="4" stroke-width="1.0" fill="#fff" transform="rotate(30 461.94 415.28)"/>
<path d="M459.94 418.74 L466 422.24 L470 415.32 L463.94 411.82 Z" fill="#fff" stroke="none"/>
<line x1="459.94" y1="418.74" x2="466" y2="422.24" stroke-width="1.0"/>
<line x1="463.94" y1="411.82" x2="470" y2="415.32" stroke-width="1.0"/>
<ellipse cx="468" cy="418.78" rx="2.31" ry="4" stroke-width="1.0" fill="#fff" transform="rotate(30 468 418.78)"/>
<line x1="463.54" y1="412.51" x2="469.6" y2="416.01" stroke-width="0.5"/>
<line x1="462.47" y1="414.36" x2="468.53" y2="417.86" stroke-width="0.5"/>
<line x1="461.4" y1="416.2" x2="467.47" y2="419.7" stroke-width="0.5"/>
<line x1="460.34" y1="418.05" x2="466.4" y2="421.55" stroke-width="0.5"/>
<ellipse cx="468.74" cy="419.22" rx="1.73" ry="3" stroke-width="1.0" fill="#fff" transform="rotate(30 468.74 419.22)"/>
<path d="M467.24 421.82 L472 424.57 L475 419.37 L470.24 416.62 Z" fill="#fff" stroke="none"/>
<line x1="467.24" y1="421.82" x2="472" y2="424.57" stroke-width="1.0"/>
<line x1="470.24" y1="416.62" x2="475" y2="419.37" stroke-width="1.0"/>
<ellipse cx="473.5" cy="421.97" rx="1.73" ry="3" stroke-width="1.0" fill="#fff" transform="rotate(30 473.5 421.97)"/>
<ellipse cx="473.5" cy="421.97" rx="0.92" ry="1.6" stroke-width="0.6" fill="none" transform="rotate(30 473.5 421.97)"/>
<ellipse cx="484.38" cy="426.2" rx="4.39" ry="7.6" stroke-width="1.0" fill="#fff" transform="rotate(30 484.38 426.2)"/>
<path d="M480.58 432.78 L483 434.18 L490.6 421.02 L488.18 419.62 Z" fill="#fff" stroke="none"/>
<line x1="480.58" y1="432.78" x2="483" y2="434.18" stroke-width="1.0"/>
<line x1="488.18" y1="419.62" x2="490.6" y2="421.02" stroke-width="1.0"/>
<ellipse cx="486.8" cy="427.6" rx="4.39" ry="7.6" stroke-width="1.0" fill="#fff" transform="rotate(30 486.8 427.6)"/>
<ellipse cx="486.8" cy="427.6" rx="3.64" ry="6.3" stroke-width="0.7" fill="none" transform="rotate(30 486.8 427.6)"/>
<g transform="translate(484.59 421.65) rotate(-32) scale(0.62)">
<rect x="-5.5" y="-1.9" width="10.5" height="3.8" stroke-width="0.7" fill="#fff"/>
<line x1="-2.2" y1="-1.9" x2="-2.2" y2="1.9" stroke-width="0.6"/>
<line x1="0.6" y1="-1.9" x2="0.6" y2="1.9" stroke-width="0.6"/>
<line x1="3" y1="-1.9" x2="3" y2="1.9" stroke-width="0.6"/>
<rect x="5" y="-1.2" width="2" height="2.4" stroke-width="0.7" fill="#fff"/>
</g>
<ellipse cx="497.57" cy="435.53" rx="2.88" ry="5" stroke-width="1.0" fill="#fff" transform="rotate(30 497.57 435.53)"/>
<path d="M495.07 439.86 L498.53 441.86 L503.53 433.2 L500.07 431.2 Z" fill="#fff" stroke="none"/>
<line x1="495.07" y1="439.86" x2="498.53" y2="441.86" stroke-width="1.0"/>
<line x1="500.07" y1="431.2" x2="503.53" y2="433.2" stroke-width="1.0"/>
<ellipse cx="501.03" cy="437.53" rx="2.88" ry="5" stroke-width="1.0" fill="#fff" transform="rotate(30 501.03 437.53)"/>
<path d="M497.46 441.22 L497.15 440.9 L496.91 440.5 L496.74 440.03 L496.65 439.49 L496.63 438.89 L496.7 438.26 L496.83 437.59 L497.04 436.92 L497.32 436.24 L497.67 435.59 L498.06 434.96 L498.51 434.38 L498.99 433.86 L499.49 433.41 L500.01 433.04 L500.54 432.76 L501.05 432.57 L501.55 432.47 L502.01 432.48 L502.44 432.59" stroke-width="0.6" fill="none"/>
<path d="M496.59 440.72 L496.28 440.4 L496.05 440 L495.88 439.53 L495.78 438.99 L495.77 438.39 L495.83 437.76 L495.97 437.09 L496.18 436.42 L496.46 435.74 L496.8 435.09 L497.2 434.46 L497.64 433.88 L498.12 433.36 L498.63 432.91 L499.15 432.54 L499.67 432.26 L500.19 432.07 L500.68 431.97 L501.15 431.98 L501.57 432.09" stroke-width="0.6" fill="none"/>
<path d="M495.72 440.22 L495.42 439.9 L495.18 439.5 L495.01 439.03 L494.92 438.49 L494.9 437.89 L494.96 437.26 L495.1 436.59 L495.31 435.92 L495.59 435.24 L495.93 434.59 L496.33 433.96 L496.77 433.38 L497.25 432.86 L497.76 432.41 L498.28 432.04 L498.8 431.76 L499.32 431.57 L499.82 431.47 L500.28 431.48 L500.71 431.59" stroke-width="0.6" fill="none"/>
<ellipse cx="502.76" cy="438.53" rx="3.69" ry="6.4" stroke-width="1.0" fill="#fff" transform="rotate(30 502.76 438.53)"/>
<ellipse cx="505.79" cy="440.28" rx="4.85" ry="8.4" stroke-width="1.0" fill="#fff" transform="rotate(30 505.79 440.28)"/>
<ellipse cx="508.83" cy="442.03" rx="5.89" ry="10.2" stroke-width="1.0" fill="#fff" transform="rotate(30 508.83 442.03)"/>
<ellipse cx="512.29" cy="444.03" rx="6.69" ry="11.6" stroke-width="1.0" fill="#fff" transform="rotate(30 512.29 444.03)"/>
<ellipse cx="515.75" cy="446.03" rx="7.27" ry="12.6" stroke-width="1.0" fill="#fff" transform="rotate(30 515.75 446.03)"/>
<ellipse cx="519.22" cy="448.03" rx="7.62" ry="13.2" stroke-width="1.0" fill="#fff" transform="rotate(30 519.22 448.03)"/>
<ellipse cx="522.25" cy="449.78" rx="7.9" ry="13.7" stroke-width="1.0" fill="#fff" transform="rotate(30 522.25 449.78)"/>
<ellipse cx="524.41" cy="451.03" rx="8.08" ry="14" stroke-width="1.0" fill="#fff" transform="rotate(30 524.41 451.03)"/>
<ellipse cx="523.81" cy="450.68" rx="7.04" ry="12.2" stroke-width="0.9" fill="none" transform="rotate(30 523.81 450.68)"/>
<ellipse cx="523.29" cy="450.38" rx="6.23" ry="10.8" stroke-width="0.7" fill="none" transform="rotate(30 523.29 450.38)"/>
<ellipse cx="522.77" cy="450.08" rx="5.42" ry="9.4" stroke-width="0.7" fill="none" transform="rotate(30 522.77 450.08)"/>
<ellipse cx="545.05" cy="461.7" rx="7.9" ry="13.7" stroke-width="1.0" fill="#fff" transform="rotate(30 545.05 461.7)"/>
<path d="M538.2 473.56 L540.45 474.86 L554.15 451.14 L551.9 449.84 Z" fill="#fff" stroke="none"/>
<line x1="538.2" y1="473.56" x2="540.45" y2="474.86" stroke-width="1.0"/>
<line x1="551.9" y1="449.84" x2="554.15" y2="451.14" stroke-width="1.0"/>
<ellipse cx="547.3" cy="463" rx="7.9" ry="13.7" stroke-width="1.0" fill="#fff" transform="rotate(30 547.3 463)"/>
<ellipse cx="547.3" cy="463" rx="7.15" ry="12.4" stroke-width="0.7" fill="none" transform="rotate(30 547.3 463)"/>
<g transform="translate(544.12 452.76) rotate(-32) scale(1.0)">
<rect x="-5.5" y="-1.9" width="10.5" height="3.8" stroke-width="0.7" fill="#fff"/>
<line x1="-2.2" y1="-1.9" x2="-2.2" y2="1.9" stroke-width="0.6"/>
<line x1="0.6" y1="-1.9" x2="0.6" y2="1.9" stroke-width="0.6"/>
<line x1="3" y1="-1.9" x2="3" y2="1.9" stroke-width="0.6"/>
<rect x="5" y="-1.2" width="2" height="2.4" stroke-width="0.7" fill="#fff"/>
</g>
<ellipse cx="565.2" cy="474.3" rx="2.54" ry="4.4" stroke-width="1.0" fill="#fff" transform="rotate(30 565.2 474.3)"/>
<ellipse cx="565.5" cy="474.5" rx="1.5" ry="2.6" stroke-width="0.7" fill="none" transform="rotate(30 565.5 474.5)"/>
<g transform="translate(566.52 470.29) rotate(30)">
<rect x="-1.6" y="-2.4" width="3.2" height="2.8" stroke-width="0.7" fill="#fff"/>
</g>
<path d="M571.94 486.24 L571.8 484.91 L571.89 483.45 L572.21 481.9 L572.74 480.32 L573.47 478.77 L574.37 477.29 L575.41 475.94 L576.55 474.78 L577.76 473.83 L578.98 473.14 L580.18 472.72 L581.31 472.6 L582.34 472.78 L583.22 473.25 L583.93 473.99 L584.44 474.98 L584.73 476.19 L584.8 477.56 L584.63 479.06 L584.24 480.62 L583.64 482.2 L582.85 483.74 L581.9 485.18 L580.82 486.47 L579.65 487.57 L578.43 488.43 L577.21 489.03 L576.03 489.35 L574.93 489.37 L573.95 489.1" stroke-width="0.8" fill="none"/>
<path d="M572.84 485.5 L572.72 484.36 L572.79 483.11 L573.07 481.78 L573.52 480.42 L574.15 479.08 L574.92 477.81 L575.82 476.66 L576.8 475.66 L577.83 474.84 L578.89 474.25 L579.92 473.89 L580.89 473.79 L581.77 473.94 L582.53 474.34 L583.14 474.98 L583.57 475.83 L583.82 476.87 L583.88 478.05 L583.74 479.33 L583.4 480.68 L582.88 482.03 L582.21 483.35 L581.39 484.59 L580.46 485.7 L579.46 486.64 L578.42 487.38 L577.37 487.9 L576.35 488.17 L575.41 488.19 L574.56 487.95" stroke-width="0.8" fill="none"/>
<line x1="571.94" y1="486.24" x2="572.84" y2="485.5" stroke-width="0.8"/>
<line x1="573.95" y1="489.1" x2="574.56" y2="487.95" stroke-width="0.8"/>
<ellipse cx="592.21" cy="490.24" rx="6.35" ry="11" stroke-width="1.0" fill="#fff" transform="rotate(30 592.21 490.24)"/>
<path d="M586.71 499.77 L594.5 504.27 L605.5 485.21 L597.71 480.71 Z" fill="#fff" stroke="none"/>
<line x1="586.71" y1="499.77" x2="594.5" y2="504.27" stroke-width="1.0"/>
<line x1="597.71" y1="480.71" x2="605.5" y2="485.21" stroke-width="1.0"/>
<ellipse cx="600" cy="494.74" rx="6.35" ry="11" stroke-width="1.0" fill="#fff" transform="rotate(30 600 494.74)"/>
<path d="M591.44 502.45 L590.77 501.76 L590.24 500.88 L589.87 499.84 L589.67 498.65 L589.63 497.34 L589.77 495.94 L590.07 494.48 L590.54 492.99 L591.15 491.51 L591.91 490.07 L592.78 488.69 L593.75 487.42 L594.81 486.27 L595.92 485.28 L597.07 484.46 L598.22 483.84 L599.35 483.42 L600.44 483.22 L601.47 483.24 L602.4 483.47" stroke-width="0.7" fill="none"/>
<path d="M589.28 501.2 L588.61 500.51 L588.08 499.63 L587.71 498.59 L587.5 497.4 L587.47 496.09 L587.6 494.69 L587.91 493.23 L588.37 491.74 L588.99 490.26 L589.74 488.82 L590.61 487.44 L591.59 486.17 L592.64 485.02 L593.76 484.03 L594.9 483.21 L596.05 482.59 L597.19 482.17 L598.28 481.97 L599.3 481.99 L600.24 482.22" stroke-width="0.7" fill="none"/>
<ellipse cx="603.73" cy="496.91" rx="10.33" ry="17.9" stroke-width="1.0" fill="#fff" transform="rotate(30 603.73 496.91)"/>
<path d="M594.78 512.41 L597.55 514.01 L615.45 483.01 L612.68 481.41 Z" fill="#fff" stroke="none"/>
<line x1="594.78" y1="512.41" x2="597.55" y2="514.01" stroke-width="1.0"/>
<line x1="612.68" y1="481.41" x2="615.45" y2="483.01" stroke-width="1.0"/>
<ellipse cx="606.5" cy="498.51" rx="10.33" ry="17.9" stroke-width="1.0" fill="#fff" transform="rotate(30 606.5 498.51)"/>
<ellipse cx="607.3" cy="498.97" rx="8.42" ry="14.6" stroke-width="0.8" fill="none" transform="rotate(30 607.3 498.97)"/>
<path d="M602.67 510.17 L609.2 508.86 L616.8 495.7 L614.67 489.39 Z" fill="#fff" stroke="none"/>
<line x1="602.67" y1="510.17" x2="609.2" y2="508.86" stroke-width="1.0"/>
<line x1="614.67" y1="489.39" x2="616.8" y2="495.7" stroke-width="1.0"/>
<ellipse cx="613" cy="502.28" rx="4.39" ry="7.6" stroke-width="1.0" fill="#fff" transform="rotate(30 613 502.28)"/>
<ellipse cx="613" cy="502.28" rx="4.39" ry="7.6" stroke-width="0.8" fill="#fff" transform="rotate(30 613 502.28)"/>
<ellipse cx="615.28" cy="503.63" rx="3.58" ry="6.2" stroke-width="1.0" fill="#fff" transform="rotate(30 615.28 503.63)"/>
<path d="M612.18 509 L624.3 516 L630.5 505.26 L618.38 498.26 Z" fill="#fff" stroke="none"/>
<line x1="612.18" y1="509" x2="624.3" y2="516" stroke-width="1.0"/>
<line x1="618.38" y1="498.26" x2="630.5" y2="505.26" stroke-width="1.0"/>
<ellipse cx="627.4" cy="510.63" rx="3.58" ry="6.2" stroke-width="1.0" fill="#fff" transform="rotate(30 627.4 510.63)"/>
<line x1="617.12" y1="498.95" x2="624.48" y2="503.2" stroke-width="0.5"/>
<line x1="616.13" y1="500.67" x2="623.49" y2="504.92" stroke-width="0.5"/>
<line x1="615.13" y1="502.39" x2="622.5" y2="506.64" stroke-width="0.5"/>
<line x1="614.14" y1="504.11" x2="621.5" y2="508.36" stroke-width="0.5"/>
<line x1="613.15" y1="505.83" x2="620.51" y2="510.08" stroke-width="0.5"/>
<line x1="612.16" y1="507.55" x2="619.52" y2="511.8" stroke-width="0.5"/>
<path d="M626.6 503.01 L627.05 503.36 L627.41 503.83 L627.67 504.41 L627.83 505.09 L627.89 505.85 L627.83 506.67 L627.67 507.54 L627.41 508.42 L627.05 509.31 L626.6 510.17 L626.08 510.99 L625.49 511.74 L624.86 512.41 L624.19 512.99 L623.5 513.44 L622.82 513.78 L622.15 513.98 L621.51 514.04 L620.93 513.97 L620.4 513.75" stroke-width="0.7" fill="none"/>
<ellipse cx="627.8" cy="510.86" rx="1.96" ry="3.4" stroke-width="0.7" fill="none" transform="rotate(30 627.8 510.86)"/>
<path d="M635 520.28 L634.97 519.27 L635.12 518.17 L635.42 517.03 L635.88 515.88 L636.47 514.77 L637.18 513.73 L637.97 512.81 L638.83 512.03 L639.72 511.42 L640.61 511.01 L641.46 510.81 L642.25 510.82 L642.96 511.05 L643.54 511.48 L643.99 512.11 L644.29 512.91 L644.43 513.84 L644.4 514.89 L644.2 516.01 L643.84 517.16 L643.34 518.3 L642.71 519.39 L641.97 520.39 L641.15 521.27 L640.28 522 L639.38 522.54 L638.5 522.88 L637.67 523.01 L636.9 522.93 L636.24 522.63" stroke-width="0.8" fill="none"/>
<path d="M635.91 519.63 L635.89 518.81 L636.01 517.92 L636.25 517 L636.62 516.08 L637.1 515.18 L637.67 514.34 L638.31 513.6 L639 512.97 L639.71 512.48 L640.43 512.15 L641.12 511.99 L641.76 512 L642.32 512.18 L642.8 512.53 L643.16 513.04 L643.4 513.68 L643.51 514.44 L643.49 515.28 L643.33 516.18 L643.04 517.11 L642.63 518.03 L642.12 518.91 L641.53 519.71 L640.87 520.42 L640.16 521.01 L639.45 521.44 L638.74 521.72 L638.06 521.83 L637.44 521.76 L636.91 521.52" stroke-width="0.8" fill="none"/>
<line x1="635" y1="520.28" x2="635.91" y2="519.63" stroke-width="0.8"/>
<line x1="636.24" y1="522.63" x2="636.91" y2="521.52" stroke-width="0.8"/>
<path d="M211.97 437.1 L215.52 436.15 L218.12 431.65 L217.17 428.1 L213.62 429.05 L211.02 433.55 Z" fill="#fff" stroke-width="0.8"/>
<path d="M211.97 437.1 L218.9 441.1 L222.45 440.15 L215.52 436.15 Z" fill="#fff" stroke="none"/>
<path d="M215.52 436.15 L222.45 440.15 L225.05 435.65 L218.12 431.65 Z" fill="#fff" stroke="none"/>
<path d="M218.12 431.65 L225.05 435.65 L224.1 432.1 L217.17 428.1 Z" fill="#fff" stroke="none"/>
<path d="M217.17 428.1 L224.1 432.1 L220.55 433.05 L213.62 429.05 Z" fill="#fff" stroke="none"/>
<path d="M213.62 429.05 L220.55 433.05 L217.95 437.55 L211.02 433.55 Z" fill="#fff" stroke="none"/>
<path d="M211.02 433.55 L217.95 437.55 L218.9 441.1 L211.97 437.1 Z" fill="#fff" stroke="none"/>
<line x1="211.97" y1="437.1" x2="218.9" y2="441.1" stroke-width="0.7"/>
<line x1="215.52" y1="436.15" x2="222.45" y2="440.15" stroke-width="0.7"/>
<line x1="218.12" y1="431.65" x2="225.05" y2="435.65" stroke-width="0.7"/>
<line x1="217.17" y1="428.1" x2="224.1" y2="432.1" stroke-width="0.7"/>
<line x1="213.62" y1="429.05" x2="220.55" y2="433.05" stroke-width="0.7"/>
<line x1="211.02" y1="433.55" x2="217.95" y2="437.55" stroke-width="0.7"/>
<path d="M218.83 440.83 L221.09 440.52 L224.69 434.28 L223.83 432.17 Z" fill="#fff" stroke="none"/>
<line x1="218.83" y1="440.83" x2="221.09" y2="440.52" stroke-width="1.0"/>
<line x1="223.83" y1="432.17" x2="224.69" y2="434.28" stroke-width="1.0"/>
<ellipse cx="222.89" cy="437.4" rx="2.08" ry="3.6" stroke-width="1.0" fill="#fff" transform="rotate(30 222.89 437.4)"/>
<ellipse cx="221.5" cy="436.6" rx="2.88" ry="5" stroke-width="0.8" fill="none" transform="rotate(30 221.5 436.6)"/>
<ellipse cx="222.89" cy="437.4" rx="1.15" ry="2" stroke-width="0.8" fill="#fff" transform="rotate(30 222.89 437.4)"/>
<ellipse cx="222.89" cy="437.4" rx="0.58" ry="1" stroke-width="0.7" fill="#999" transform="rotate(30 222.89 437.4)"/>
<line x1="227" y1="439.2" x2="247" y2="450.5" stroke-width="0.75"/>
<g transform="translate(206.5 458.2) rotate(48)">
<rect x="-8.2" y="-2.4" width="16.4" height="4.8" stroke-width="0.8" fill="#fff"/>
<line x1="-6.6" y1="-2.4" x2="-6.6" y2="2.4" stroke-width="1.0"/>
<line x1="-4.6" y1="-2.4" x2="-4.6" y2="2.4" stroke-width="1.0"/>
<line x1="-2.6" y1="-2.4" x2="-2.6" y2="2.4" stroke-width="1.0"/>
<line x1="-0.4" y1="-2.4" x2="-0.4" y2="2.4" stroke-width="0.8"/>
<line x1="2.2" y1="-2.4" x2="2.2" y2="2.4" stroke-width="1.0"/>
<line x1="4.6" y1="-2.4" x2="4.6" y2="2.4" stroke-width="0.8"/>
<ellipse cx="8.2" cy="0" rx="1.2" ry="2.4" stroke-width="0.8" fill="#fff"/>
</g>
<line x1="212" y1="465.4" x2="222.5" y2="480.3" stroke-width="0.75"/>
<ellipse cx="310.97" cy="566.3" rx="0.98" ry="1.7" stroke-width="1.0" fill="#fff" transform="rotate(30 310.97 566.3)"/>
<path d="M310.12 567.77 L319.65 573.27 L321.35 570.33 L311.82 564.83 Z" fill="#fff" stroke="none"/>
<line x1="310.12" y1="567.77" x2="319.65" y2="573.27" stroke-width="1.0"/>
<line x1="311.82" y1="564.83" x2="321.35" y2="570.33" stroke-width="1.0"/>
<ellipse cx="320.5" cy="571.8" rx="0.98" ry="1.7" stroke-width="1.0" fill="#fff" transform="rotate(30 320.5 571.8)"/>
<path d="M320.66 569.93 L320.78 570.02 L320.88 570.15 L320.95 570.31 L320.99 570.5 L321.01 570.71 L320.99 570.93 L320.95 571.17 L320.88 571.41 L320.78 571.65 L320.66 571.89 L320.51 572.11 L320.35 572.32 L320.18 572.51 L319.99 572.66 L319.81 572.79 L319.62 572.88 L319.44 572.93 L319.26 572.95 L319.1 572.93 L318.96 572.87" stroke-width="0.5" fill="none"/>
<path d="M319.53 569.28 L319.65 569.37 L319.75 569.5 L319.82 569.66 L319.87 569.85 L319.88 570.06 L319.87 570.28 L319.82 570.52 L319.75 570.76 L319.65 571 L319.53 571.24 L319.39 571.46 L319.23 571.67 L319.05 571.86 L318.87 572.01 L318.68 572.14 L318.49 572.23 L318.31 572.28 L318.14 572.3 L317.97 572.28 L317.83 572.22" stroke-width="0.5" fill="none"/>
<path d="M318.41 568.63 L318.53 568.72 L318.63 568.85 L318.7 569.01 L318.74 569.2 L318.76 569.41 L318.74 569.63 L318.7 569.87 L318.63 570.11 L318.53 570.35 L318.4 570.59 L318.26 570.81 L318.1 571.02 L317.93 571.21 L317.74 571.36 L317.56 571.49 L317.37 571.58 L317.18 571.63 L317.01 571.65 L316.85 571.63 L316.71 571.57" stroke-width="0.5" fill="none"/>
<path d="M317.28 567.98 L317.4 568.07 L317.5 568.2 L317.57 568.36 L317.62 568.55 L317.63 568.76 L317.62 568.98 L317.57 569.22 L317.5 569.46 L317.4 569.7 L317.28 569.94 L317.14 570.16 L316.97 570.37 L316.8 570.56 L316.62 570.71 L316.43 570.84 L316.24 570.93 L316.06 570.98 L315.88 571 L315.72 570.98 L315.58 570.92" stroke-width="0.5" fill="none"/>
<path d="M316.15 567.33 L316.28 567.42 L316.37 567.55 L316.45 567.71 L316.49 567.9 L316.51 568.11 L316.49 568.33 L316.45 568.57 L316.37 568.81 L316.28 569.05 L316.15 569.29 L316.01 569.51 L315.85 569.72 L315.67 569.91 L315.49 570.06 L315.3 570.19 L315.12 570.28 L314.93 570.33 L314.76 570.35 L314.6 570.33 L314.45 570.27" stroke-width="0.5" fill="none"/>
<path d="M315.03 566.68 L315.15 566.77 L315.25 566.9 L315.32 567.06 L315.36 567.25 L315.38 567.46 L315.36 567.68 L315.32 567.92 L315.25 568.16 L315.15 568.4 L315.03 568.64 L314.88 568.86 L314.72 569.07 L314.55 569.26 L314.37 569.41 L314.18 569.54 L313.99 569.63 L313.81 569.68 L313.63 569.7 L313.47 569.68 L313.33 569.62" stroke-width="0.5" fill="none"/>
<path d="M305.9 567.41 L307.88 566.88 L309.33 564.37 L308.8 562.39 L306.82 562.92 L305.37 565.43 Z" fill="#fff" stroke-width="1.0"/>
<path d="M305.9 567.41 L308.15 568.71 L310.13 568.18 L307.88 566.88 Z" fill="#fff" stroke="none"/>
<path d="M307.88 566.88 L310.13 568.18 L311.58 565.67 L309.33 564.37 Z" fill="#fff" stroke="none"/>
<path d="M309.33 564.37 L311.58 565.67 L311.05 563.69 L308.8 562.39 Z" fill="#fff" stroke="none"/>
<path d="M308.8 562.39 L311.05 563.69 L309.07 564.22 L306.82 562.92 Z" fill="#fff" stroke="none"/>
<path d="M306.82 562.92 L309.07 564.22 L307.62 566.73 L305.37 565.43 Z" fill="#fff" stroke="none"/>
<path d="M305.37 565.43 L307.62 566.73 L308.15 568.71 L305.9 567.41 Z" fill="#fff" stroke="none"/>
<line x1="305.9" y1="567.41" x2="308.15" y2="568.71" stroke-width="0.7"/>
<line x1="307.88" y1="566.88" x2="310.13" y2="568.18" stroke-width="0.7"/>
<line x1="309.33" y1="564.37" x2="311.58" y2="565.67" stroke-width="0.7"/>
<line x1="308.8" y1="562.39" x2="311.05" y2="563.69" stroke-width="0.7"/>
<line x1="306.82" y1="562.92" x2="309.07" y2="564.22" stroke-width="0.7"/>
<line x1="305.37" y1="565.43" x2="307.62" y2="566.73" stroke-width="0.7"/>
<path d="M308.15 568.71 L310.13 568.18 L311.58 565.67 L311.05 563.69 L309.07 564.22 L307.62 566.73 Z" fill="#fff" stroke-width="1.0"/>
<ellipse cx="309.6" cy="566.2" rx="0.92" ry="1.59" stroke-width="0.7" fill="none" transform="rotate(30 309.6 566.2)"/>
<ellipse cx="309.6" cy="566.2" rx="0.5" ry="0.87" stroke-width="0.7" fill="none" transform="rotate(30 309.6 566.2)"/>
<ellipse cx="324.8" cy="572.6" rx="2.37" ry="4.1" stroke-width="0.8" fill="#fff" transform="rotate(30 324.8 572.6)"/>
<ellipse cx="325" cy="572.7" rx="1.27" ry="2.2" stroke-width="0.7" fill="none" transform="rotate(30 325 572.7)"/>
<path d="M200 701.9 L211.9 683.75 L214.4 686.25 L231.25 678.75 L234.4 680.6 L235 693.75 L215.6 702.5 L215 710 Z" stroke-width="0.9" fill="#fff"/>
<path d="M202 701.9 L212.6 686.2 L215.6 688.6 L233 681.2 L234.4 680.6" stroke-width="0.7" fill="none"/>
<line x1="211.9" y1="683.75" x2="212.6" y2="686.2" stroke-width="0.7"/>
<line x1="214.4" y1="686.25" x2="215.6" y2="688.6" stroke-width="0.7"/>
<text x="0" y="0" font-size="11.3" font-weight="bold" font-style="italic" stroke="#111" stroke-width="0.45" fill="#111" text-anchor="middle" transform="translate(224.3 697.6) rotate(-24) scale(0.8 1.15)">FWD</text>
<ellipse cx="275.09" cy="679.4" rx="15.93" ry="27.6" stroke-width="1.0" fill="#fff" transform="rotate(30 275.09 679.4)"/>
<path d="M261.29 703.3 L263.2 704.4 L290.8 656.6 L288.89 655.5 Z" fill="#fff" stroke="none"/>
<line x1="261.29" y1="703.3" x2="263.2" y2="704.4" stroke-width="1.0"/>
<line x1="288.89" y1="655.5" x2="290.8" y2="656.6" stroke-width="1.0"/>
<ellipse cx="277" cy="680.5" rx="15.93" ry="27.6" stroke-width="1.0" fill="#fff" transform="rotate(30 277 680.5)"/>
<ellipse cx="281" cy="682" rx="6.64" ry="11.5" stroke-width="1.0" fill="none" transform="rotate(30 281 682)"/>
<ellipse cx="281.6" cy="682.4" rx="3.69" ry="6.4" stroke-width="1.0" fill="#fff" transform="rotate(30 281.6 682.4)"/>
<ellipse cx="282" cy="682.6" rx="2.42" ry="4.2" stroke-width="0.7" fill="#bbb" transform="rotate(30 282 682.6)"/>
<ellipse cx="276.03" cy="696.55" rx="1.56" ry="2.7" stroke-width="1.0" fill="#fff" transform="rotate(30 276.03 696.55)"/>
<ellipse cx="276.63" cy="696.9" rx="0.92" ry="1.6" stroke-width="0.7" fill="#ddd" transform="rotate(30 276.63 696.9)"/>
<ellipse cx="290.37" cy="675.33" rx="1.56" ry="2.7" stroke-width="1.0" fill="#fff" transform="rotate(30 290.37 675.33)"/>
<ellipse cx="290.97" cy="675.68" rx="0.92" ry="1.6" stroke-width="0.7" fill="#ddd" transform="rotate(30 290.97 675.68)"/>
<ellipse cx="279.17" cy="665.25" rx="1.56" ry="2.7" stroke-width="1.0" fill="#fff" transform="rotate(30 279.17 665.25)"/>
<ellipse cx="279.77" cy="665.6" rx="0.92" ry="1.6" stroke-width="0.7" fill="#ddd" transform="rotate(30 279.77 665.6)"/>
<ellipse cx="264.83" cy="686.47" rx="1.56" ry="2.7" stroke-width="1.0" fill="#fff" transform="rotate(30 264.83 686.47)"/>
<ellipse cx="265.43" cy="686.82" rx="0.92" ry="1.6" stroke-width="0.7" fill="#ddd" transform="rotate(30 265.43 686.82)"/>
<line x1="295" y1="677.8" x2="303" y2="682.6" stroke-width="0.75"/>
<ellipse cx="303.64" cy="682.25" rx="1.15" ry="2" stroke-width="1.0" fill="#fff" transform="rotate(30 303.64 682.25)"/>
<path d="M302.64 683.98 L310 688.23 L312 684.77 L304.64 680.52 Z" fill="#fff" stroke="none"/>
<line x1="302.64" y1="683.98" x2="310" y2="688.23" stroke-width="1.0"/>
<line x1="304.64" y1="680.52" x2="312" y2="684.77" stroke-width="1.0"/>
<ellipse cx="311" cy="686.5" rx="1.15" ry="2" stroke-width="1.0" fill="#fff" transform="rotate(30 311 686.5)"/>
<path d="M305.5 681.02 L305.65 681.13 L305.76 681.28 L305.85 681.47 L305.9 681.69 L305.92 681.93 L305.9 682.2 L305.85 682.48 L305.76 682.76 L305.65 683.05 L305.5 683.33 L305.34 683.59 L305.15 683.83 L304.94 684.05 L304.73 684.23 L304.5 684.38 L304.28 684.49 L304.07 684.56 L303.86 684.58 L303.67 684.55 L303.5 684.48" stroke-width="0.5" fill="none"/>
<path d="M306.63 681.67 L306.77 681.78 L306.89 681.93 L306.98 682.12 L307.03 682.34 L307.04 682.58 L307.03 682.85 L306.98 683.13 L306.89 683.41 L306.77 683.7 L306.63 683.98 L306.46 684.24 L306.27 684.48 L306.07 684.7 L305.85 684.88 L305.63 685.03 L305.41 685.14 L305.19 685.21 L304.99 685.23 L304.8 685.2 L304.63 685.13" stroke-width="0.5" fill="none"/>
<path d="M307.76 682.32 L307.9 682.43 L308.02 682.58 L308.1 682.77 L308.15 682.99 L308.17 683.23 L308.15 683.5 L308.1 683.78 L308.02 684.06 L307.9 684.35 L307.76 684.63 L307.59 684.89 L307.4 685.13 L307.19 685.35 L306.98 685.53 L306.76 685.68 L306.53 685.79 L306.32 685.86 L306.11 685.88 L305.93 685.85 L305.76 685.78" stroke-width="0.5" fill="none"/>
<path d="M308.88 682.97 L309.03 683.08 L309.14 683.23 L309.23 683.42 L309.28 683.64 L309.3 683.88 L309.28 684.15 L309.23 684.43 L309.14 684.71 L309.03 685 L308.88 685.28 L308.71 685.54 L308.52 685.78 L308.32 686 L308.1 686.18 L307.88 686.33 L307.66 686.44 L307.45 686.51 L307.24 686.53 L307.05 686.5 L306.88 686.43" stroke-width="0.5" fill="none"/>
<path d="M310.01 683.62 L310.15 683.73 L310.27 683.88 L310.35 684.07 L310.4 684.29 L310.42 684.53 L310.4 684.8 L310.35 685.08 L310.27 685.36 L310.15 685.65 L310.01 685.93 L309.84 686.19 L309.65 686.43 L309.44 686.65 L309.23 686.83 L309.01 686.98 L308.79 687.09 L308.57 687.16 L308.37 687.18 L308.18 687.15 L308.01 687.08" stroke-width="0.5" fill="none"/>
<ellipse cx="311.8" cy="687" rx="2.08" ry="3.6" stroke-width="1.0" fill="#fff" transform="rotate(30 311.8 687)"/>
<path d="M310 690.12 L315.2 693.12 L318.8 686.88 L313.6 683.88 Z" fill="#fff" stroke="none"/>
<line x1="310" y1="690.12" x2="315.2" y2="693.12" stroke-width="1.0"/>
<line x1="313.6" y1="683.88" x2="318.8" y2="686.88" stroke-width="1.0"/>
<ellipse cx="317" cy="690" rx="2.08" ry="3.6" stroke-width="1.0" fill="#fff" transform="rotate(30 317 690)"/>
<ellipse cx="317" cy="690" rx="1.15" ry="2" stroke-width="0.7" fill="none" transform="rotate(30 317 690)"/>
<path d="M209.5 265.5 H304" stroke-width="0.9" fill="none" stroke-dasharray="8.5 5.5"/>
<path d="M206.5 268 V297 L635 542.5" stroke-width="0.9" fill="none" stroke-dasharray="11.5 3.5"/>
<path d="M304 265.5 L650.5 462.6 V511" stroke-width="0.9" fill="none" stroke-dasharray="14.5 4.5"/>
<path d="M649.5 516.5 L638 537" stroke-width="0.8" fill="none" stroke-dasharray="14 4"/>
<path d="M229 280.5 L215.2 273 V296 L651.4 547.5 V695.3 L602 667" stroke-width="0.8" fill="none" stroke-dasharray="52 3 3 3"/>
<path d="M469.5 530.5 L409 634.5 L568 725 L628.4 621 Z" stroke-width="0.9" fill="none" stroke-dasharray="13.5 4.5"/>
<line x1="253.3" y1="277.3" x2="258" y2="288" stroke-width="1.0"/>
<text transform="translate(250.5 275.22) scale(1.22 1)" font-size="10.8" text-anchor="middle" stroke="#111" stroke-width="0.18" fill="#111" style="">a</text>
<line x1="278" y1="277.5" x2="279.3" y2="305.5" stroke-width="1.0"/>
<text transform="translate(278 274.92) scale(1.22 1)" font-size="10.8" text-anchor="middle" stroke="#111" stroke-width="0.18" fill="#111" style="">b</text>
<line x1="295.5" y1="278" x2="295" y2="304" stroke-width="1.0"/>
<text transform="translate(295.5 275.42) scale(1.22 1)" font-size="10.8" text-anchor="middle" stroke="#111" stroke-width="0.18" fill="#111" style="">c</text>
<line x1="331" y1="297.5" x2="327.5" y2="321" stroke-width="1.0"/>
<text transform="translate(331 294.92) scale(1.22 1)" font-size="10.8" text-anchor="middle" stroke="#111" stroke-width="0.18" fill="#111" style="">d</text>
<line x1="360.5" y1="315" x2="354" y2="345" stroke-width="1.0"/>
<text transform="translate(362 312.42) scale(1.22 1)" font-size="10.8" text-anchor="middle" stroke="#111" stroke-width="0.18" fill="#111" style="">e</text>
<line x1="473.8" y1="335.5" x2="462.3" y2="353.7" stroke-width="1.0"/>
<text transform="translate(475.2 333.09) scale(1.0 1)" font-size="10.8" text-anchor="middle" stroke="#111" stroke-width="0.18" fill="#111" textLength="6.91" lengthAdjust="spacingAndGlyphs" style="">7</text>
<line x1="430.8" y1="356.5" x2="417.8" y2="382.8" stroke-width="1.0"/>
<text transform="translate(431.8 353.12) scale(1.22 1)" font-size="10.8" text-anchor="middle" stroke="#111" stroke-width="0.18" fill="#111" style="">f</text>
<line x1="504.3" y1="396.8" x2="488.5" y2="420.2" stroke-width="1.0"/>
<text transform="translate(506.7 393.92) scale(1.22 1)" font-size="10.8" text-anchor="middle" stroke="#111" stroke-width="0.18" fill="#111" style="">g</text>
<line x1="536.8" y1="416" x2="522.8" y2="432.8" stroke-width="1.0"/>
<text transform="translate(539.3 413.42) scale(1.22 1)" font-size="10.8" text-anchor="middle" stroke="#111" stroke-width="0.18" fill="#111" style="">h</text>
<line x1="570.8" y1="437" x2="554" y2="452.8" stroke-width="1.0"/>
<text transform="translate(573.2 434.72) scale(1.22 1)" font-size="10.8" text-anchor="middle" stroke="#111" stroke-width="0.18" fill="#111" style="">i</text>
<line x1="591.8" y1="448.8" x2="568.3" y2="469.5" stroke-width="1.0"/>
<text transform="translate(594.2 446.92) scale(1.22 1)" font-size="10.8" text-anchor="middle" stroke="#111" stroke-width="0.18" fill="#111" style="">j</text>
<line x1="609.3" y1="457.8" x2="584.8" y2="474.8" stroke-width="1.0"/>
<text transform="translate(612.8 456.72) scale(1.22 1)" font-size="10.8" text-anchor="middle" stroke="#111" stroke-width="0.18" fill="#111" style="">k</text>
<line x1="636.5" y1="473.8" x2="618" y2="486" stroke-width="1.0"/>
<text transform="translate(638.3 472.12) scale(1.22 1)" font-size="10.8" text-anchor="middle" stroke="#111" stroke-width="0.18" fill="#111" style="">l</text>
<line x1="641.8" y1="494" x2="640.8" y2="508.8" stroke-width="1.0"/>
<text transform="translate(641.8 492.72) scale(1.22 1)" font-size="10.8" text-anchor="middle" stroke="#111" stroke-width="0.18" fill="#111" style="">m</text>
<line x1="232.5" y1="350.8" x2="250" y2="378.4" stroke-width="1.0"/>
<text transform="translate(229 348.59) scale(1.0 1)" font-size="10.8" text-anchor="middle" stroke="#111" stroke-width="0.18" fill="#111" textLength="6.91" lengthAdjust="spacingAndGlyphs" style="">2</text>
<line x1="212.5" y1="387" x2="242.5" y2="413" stroke-width="1.0"/>
<text transform="translate(209 386.39) scale(1.0 1)" font-size="10.8" text-anchor="middle" stroke="#111" stroke-width="0.18" fill="#111" textLength="6.91" lengthAdjust="spacingAndGlyphs" style="">1</text>
<line x1="213" y1="404.5" x2="217.5" y2="427.5" stroke-width="1.0"/>
<text transform="translate(212 402.89) scale(1.0 1)" font-size="10.8" text-anchor="middle" stroke="#111" stroke-width="0.18" fill="#111" textLength="6.91" lengthAdjust="spacingAndGlyphs" style="">6</text>
<line x1="191" y1="465.5" x2="202.3" y2="460.6" stroke-width="1.0"/>
<text transform="translate(182.5 468.69) scale(1.0 1)" font-size="10.8" text-anchor="middle" stroke="#111" stroke-width="0.18" fill="#111" textLength="6.91" lengthAdjust="spacingAndGlyphs" style="">3</text>
<line x1="366.6" y1="443" x2="302" y2="481.5" stroke-width="1.0"/>
<text transform="translate(372.6 442.49) scale(1.0 1)" font-size="10.8" text-anchor="middle" stroke="#111" stroke-width="0.18" fill="#111" textLength="13.82" lengthAdjust="spacingAndGlyphs" style="">21</text>
<line x1="384" y1="451" x2="345" y2="489.4" stroke-width="1.0"/>
<text transform="translate(387.3 450.39) scale(1.0 1)" font-size="10.8" text-anchor="middle" stroke="#111" stroke-width="0.18" fill="#111" textLength="13.82" lengthAdjust="spacingAndGlyphs" style="">35</text>
<line x1="406.3" y1="464" x2="375.5" y2="505" stroke-width="1.0"/>
<text transform="translate(409.8 462.59) scale(1.0 1)" font-size="10.8" text-anchor="middle" stroke="#111" stroke-width="0.18" fill="#111" textLength="13.82" lengthAdjust="spacingAndGlyphs" style="">34</text>
<line x1="430.8" y1="478" x2="394" y2="540.3" stroke-width="1.0"/>
<text transform="translate(433.5 476.59) scale(1.0 1)" font-size="10.8" text-anchor="middle" stroke="#111" stroke-width="0.18" fill="#111" textLength="13.82" lengthAdjust="spacingAndGlyphs" style="">20</text>
<line x1="455.3" y1="492" x2="425.5" y2="539.2" stroke-width="1.0"/>
<text transform="translate(457 490.59) scale(1.0 1)" font-size="10.8" text-anchor="middle" stroke="#111" stroke-width="0.18" fill="#111" textLength="6.91" lengthAdjust="spacingAndGlyphs" style="">4</text>
<line x1="479" y1="505.3" x2="436.5" y2="565" stroke-width="1.0"/>
<text transform="translate(481 503.69) scale(1.0 1)" font-size="10.8" text-anchor="middle" stroke="#111" stroke-width="0.18" fill="#111" textLength="13.82" lengthAdjust="spacingAndGlyphs" style="">19</text>
<line x1="510" y1="526.5" x2="500.6" y2="546.8" stroke-width="1.0"/>
<text transform="translate(514.3 523.49) scale(1.0 1)" font-size="10.8" text-anchor="middle" stroke="#111" stroke-width="0.18" fill="#111" textLength="13.82" lengthAdjust="spacingAndGlyphs" style="">22</text>
<line x1="466" y1="556.9" x2="458.3" y2="573.8" stroke-width="1.0"/>
<text transform="translate(467 554.49) scale(1.0 1)" font-size="10.8" text-anchor="middle" stroke="#111" stroke-width="0.18" fill="#111" textLength="13.82" lengthAdjust="spacingAndGlyphs" style="">24</text>
<line x1="483.8" y1="566.3" x2="477" y2="584.3" stroke-width="1.0"/>
<text transform="translate(485 563.89) scale(1.0 1)" font-size="10.8" text-anchor="middle" stroke="#111" stroke-width="0.18" fill="#111" textLength="13.82" lengthAdjust="spacingAndGlyphs" style="">23</text>
<line x1="500.6" y1="576.8" x2="493" y2="596.3" stroke-width="1.0"/>
<text transform="translate(503.3 574.69) scale(1.0 1)" font-size="10.8" text-anchor="middle" stroke="#111" stroke-width="0.18" fill="#111" textLength="13.82" lengthAdjust="spacingAndGlyphs" style="">25</text>
<line x1="528.8" y1="578.3" x2="549.4" y2="588.8" stroke-width="1.0"/>
<text transform="translate(522 576.89) scale(1.0 1)" font-size="10.8" text-anchor="middle" stroke="#111" stroke-width="0.18" fill="#111" textLength="13.82" lengthAdjust="spacingAndGlyphs" style="">27</text>
<line x1="522" y1="588.8" x2="510" y2="593.6" stroke-width="1.0"/>
<text transform="translate(529.5 590.79) scale(1.0 1)" font-size="10.8" text-anchor="middle" stroke="#111" stroke-width="0.18" fill="#111" textLength="13.82" lengthAdjust="spacingAndGlyphs" style="">26</text>
<line x1="558.8" y1="558" x2="574.5" y2="573.8" stroke-width="1.0"/>
<text transform="translate(555 556.09) scale(1.0 1)" font-size="10.8" text-anchor="middle" stroke="#111" stroke-width="0.18" fill="#111" textLength="13.82" lengthAdjust="spacingAndGlyphs" style="">30</text>
<line x1="574.5" y1="548.6" x2="585" y2="568" stroke-width="1.0"/>
<text transform="translate(571.3 546.89) scale(1.0 1)" font-size="10.8" text-anchor="middle" stroke="#111" stroke-width="0.18" fill="#111" textLength="13.82" lengthAdjust="spacingAndGlyphs" style="">33</text>
<line x1="593.3" y1="540" x2="598" y2="560.6" stroke-width="1.0"/>
<text transform="translate(592.5 537.69) scale(1.0 1)" font-size="10.8" text-anchor="middle" stroke="#111" stroke-width="0.18" fill="#111" textLength="13.82" lengthAdjust="spacingAndGlyphs" style="">32</text>
<line x1="612.5" y1="579.3" x2="616.3" y2="592" stroke-width="1.0"/>
<text transform="translate(611.5 577.49) scale(1.0 1)" font-size="10.8" text-anchor="middle" stroke="#111" stroke-width="0.18" fill="#111" textLength="13.82" lengthAdjust="spacingAndGlyphs" style="">30</text>
<line x1="625.5" y1="571" x2="627" y2="587" stroke-width="1.0"/>
<text transform="translate(625 569.69) scale(1.0 1)" font-size="10.8" text-anchor="middle" stroke="#111" stroke-width="0.18" fill="#111" textLength="13.82" lengthAdjust="spacingAndGlyphs" style="">33</text>
<line x1="640" y1="563.6" x2="638.6" y2="579.4" stroke-width="1.0"/>
<text transform="translate(640 561.79) scale(1.0 1)" font-size="10.8" text-anchor="middle" stroke="#111" stroke-width="0.18" fill="#111" textLength="13.82" lengthAdjust="spacingAndGlyphs" style="">32</text>
<line x1="588.8" y1="633.8" x2="571.9" y2="628" stroke-width="1.0"/>
<text transform="translate(597 640.29) scale(1.0 1)" font-size="10.8" text-anchor="middle" stroke="#111" stroke-width="0.18" fill="#111" textLength="13.82" lengthAdjust="spacingAndGlyphs" style="">27</text>
<line x1="450" y1="630.8" x2="468.8" y2="633.8" stroke-width="1.0"/>
<text transform="translate(441.8 633.89) scale(1.0 1)" font-size="10.8" text-anchor="middle" stroke="#111" stroke-width="0.18" fill="#111" textLength="13.82" lengthAdjust="spacingAndGlyphs" style="">27</text>
<line x1="485.6" y1="646.9" x2="495.8" y2="635.6" stroke-width="1.0"/>
<text transform="translate(481.9 656.39) scale(1.0 1)" font-size="10.8" text-anchor="middle" stroke="#111" stroke-width="0.18" fill="#111" textLength="13.82" lengthAdjust="spacingAndGlyphs" style="">26</text>
<line x1="406.9" y1="649.5" x2="416.3" y2="663" stroke-width="1.0"/>
<text transform="translate(404.3 648.19) scale(1.0 1)" font-size="10.8" text-anchor="middle" stroke="#111" stroke-width="0.18" fill="#111" textLength="13.82" lengthAdjust="spacingAndGlyphs" style="">29</text>
<line x1="387" y1="660.8" x2="399.4" y2="673" stroke-width="1.0"/>
<text transform="translate(383.3 658.89) scale(1.0 1)" font-size="10.8" text-anchor="middle" stroke="#111" stroke-width="0.18" fill="#111" textLength="13.82" lengthAdjust="spacingAndGlyphs" style="">30</text>
<line x1="373" y1="668.6" x2="391.9" y2="680.6" stroke-width="1.0"/>
<text transform="translate(367.5 667.49) scale(1.0 1)" font-size="10.8" text-anchor="middle" stroke="#111" stroke-width="0.18" fill="#111" textLength="13.82" lengthAdjust="spacingAndGlyphs" style="">33</text>
<line x1="517.5" y1="678.8" x2="504.4" y2="669.4" stroke-width="1.0"/>
<text transform="translate(526.9 687.49) scale(1.0 1)" font-size="10.8" text-anchor="middle" stroke="#111" stroke-width="0.18" fill="#111" textLength="13.82" lengthAdjust="spacingAndGlyphs" style="">27</text>
<line x1="549.4" y1="678" x2="564.4" y2="656.3" stroke-width="1.0"/>
<text transform="translate(545.8 688.29) scale(1.0 1)" font-size="10.8" text-anchor="middle" stroke="#111" stroke-width="0.18" fill="#111" textLength="13.82" lengthAdjust="spacingAndGlyphs" style="">23</text>
<line x1="573.8" y1="689.3" x2="584.3" y2="671.3" stroke-width="1.0"/>
<text transform="translate(570.7 700.29) scale(1.0 1)" font-size="10.8" text-anchor="middle" stroke="#111" stroke-width="0.18" fill="#111" textLength="13.82" lengthAdjust="spacingAndGlyphs" style="">28</text>
<line x1="476.3" y1="702.4" x2="465" y2="693" stroke-width="1.0"/>
<text transform="translate(484.9 710.79) scale(1.0 1)" font-size="10.8" text-anchor="middle" stroke="#111" stroke-width="0.18" fill="#111" textLength="13.82" lengthAdjust="spacingAndGlyphs" style="">29</text>
<line x1="455.6" y1="715" x2="444.4" y2="704.3" stroke-width="1.0"/>
<text transform="translate(461.3 723.89) scale(1.0 1)" font-size="10.8" text-anchor="middle" stroke="#111" stroke-width="0.18" fill="#111" textLength="13.82" lengthAdjust="spacingAndGlyphs" style="">30</text>
<line x1="443.3" y1="723" x2="435" y2="709.5" stroke-width="1.0"/>
<text transform="translate(447.4 732.49) scale(1.0 1)" font-size="10.8" text-anchor="middle" stroke="#111" stroke-width="0.18" fill="#111" textLength="13.82" lengthAdjust="spacingAndGlyphs" style="">33</text>
<line x1="421.9" y1="734.3" x2="411.8" y2="721.9" stroke-width="1.0"/>
<text transform="translate(424.5 743.79) scale(1.0 1)" font-size="10.8" text-anchor="middle" stroke="#111" stroke-width="0.18" fill="#111" textLength="13.82" lengthAdjust="spacingAndGlyphs" style="">31</text>
<line x1="349.6" y1="681" x2="367" y2="697" stroke-width="1.0"/>
<text transform="translate(345.4 680.49) scale(1.0 1)" font-size="10.8" text-anchor="middle" stroke="#111" stroke-width="0.18" fill="#111" textLength="13.82" lengthAdjust="spacingAndGlyphs" style="">31</text>
<line x1="370.5" y1="621.4" x2="375.8" y2="608.3" stroke-width="1.0"/>
<text transform="translate(366.5 631.29) scale(1.0 1)" font-size="10.8" text-anchor="middle" stroke="#111" stroke-width="0.18" fill="#111" textLength="13.82" lengthAdjust="spacingAndGlyphs" style="">38</text>
<line x1="303" y1="585" x2="312" y2="572" stroke-width="1.0"/>
<text transform="translate(301 594.19) scale(1.0 1)" font-size="10.8" text-anchor="middle" stroke="#111" stroke-width="0.18" fill="#111" textLength="13.82" lengthAdjust="spacingAndGlyphs" style="">36</text>
<line x1="319.5" y1="594.4" x2="323.4" y2="577" stroke-width="1.0"/>
<text transform="translate(317.6 603.69) scale(1.0 1)" font-size="10.8" text-anchor="middle" stroke="#111" stroke-width="0.18" fill="#111" textLength="13.82" lengthAdjust="spacingAndGlyphs" style="">37</text>
<line x1="315.4" y1="668.5" x2="311.5" y2="680" stroke-width="1.0"/>
<text transform="translate(316.6 666.89) scale(1.0 1)" font-size="10.8" text-anchor="middle" stroke="#111" stroke-width="0.18" fill="#111" textLength="6.91" lengthAdjust="spacingAndGlyphs" style="">5</text>
<text transform="translate(321 633.89) scale(1.0 1)" font-size="10.8" text-anchor="middle" stroke="#111" stroke-width="0.18" fill="#111" textLength="6.91" lengthAdjust="spacingAndGlyphs" style="">4</text>
<path d="M319 635.5 L317 644.2 M305.5 638 L323.5 647.5 M305.5 638 L292 656.5 M323.5 647.5 V657.4" stroke-width="1.0" fill="none"/>
<path d="M229.6 609 H336.6 V716 H259 L229.6 664 Z" stroke-width="0.9" fill="none" stroke="#333"/>
<text transform="translate(283.9 620.2) scale(1.0 1)" font-size="9.6" text-anchor="middle" stroke="#111" stroke-width="0.18" fill="#111" textLength="99" lengthAdjust="spacingAndGlyphs" style="">EXCEPT USA,CAN</text>
<text transform="translate(181.8 725.3) scale(1.0 1)" font-size="9.8" text-anchor="start" stroke="#111" stroke-width="0.18" fill="#111" textLength="82" lengthAdjust="spacingAndGlyphs" style="">2P57110E360A</text>
</svg>
</body></html>
